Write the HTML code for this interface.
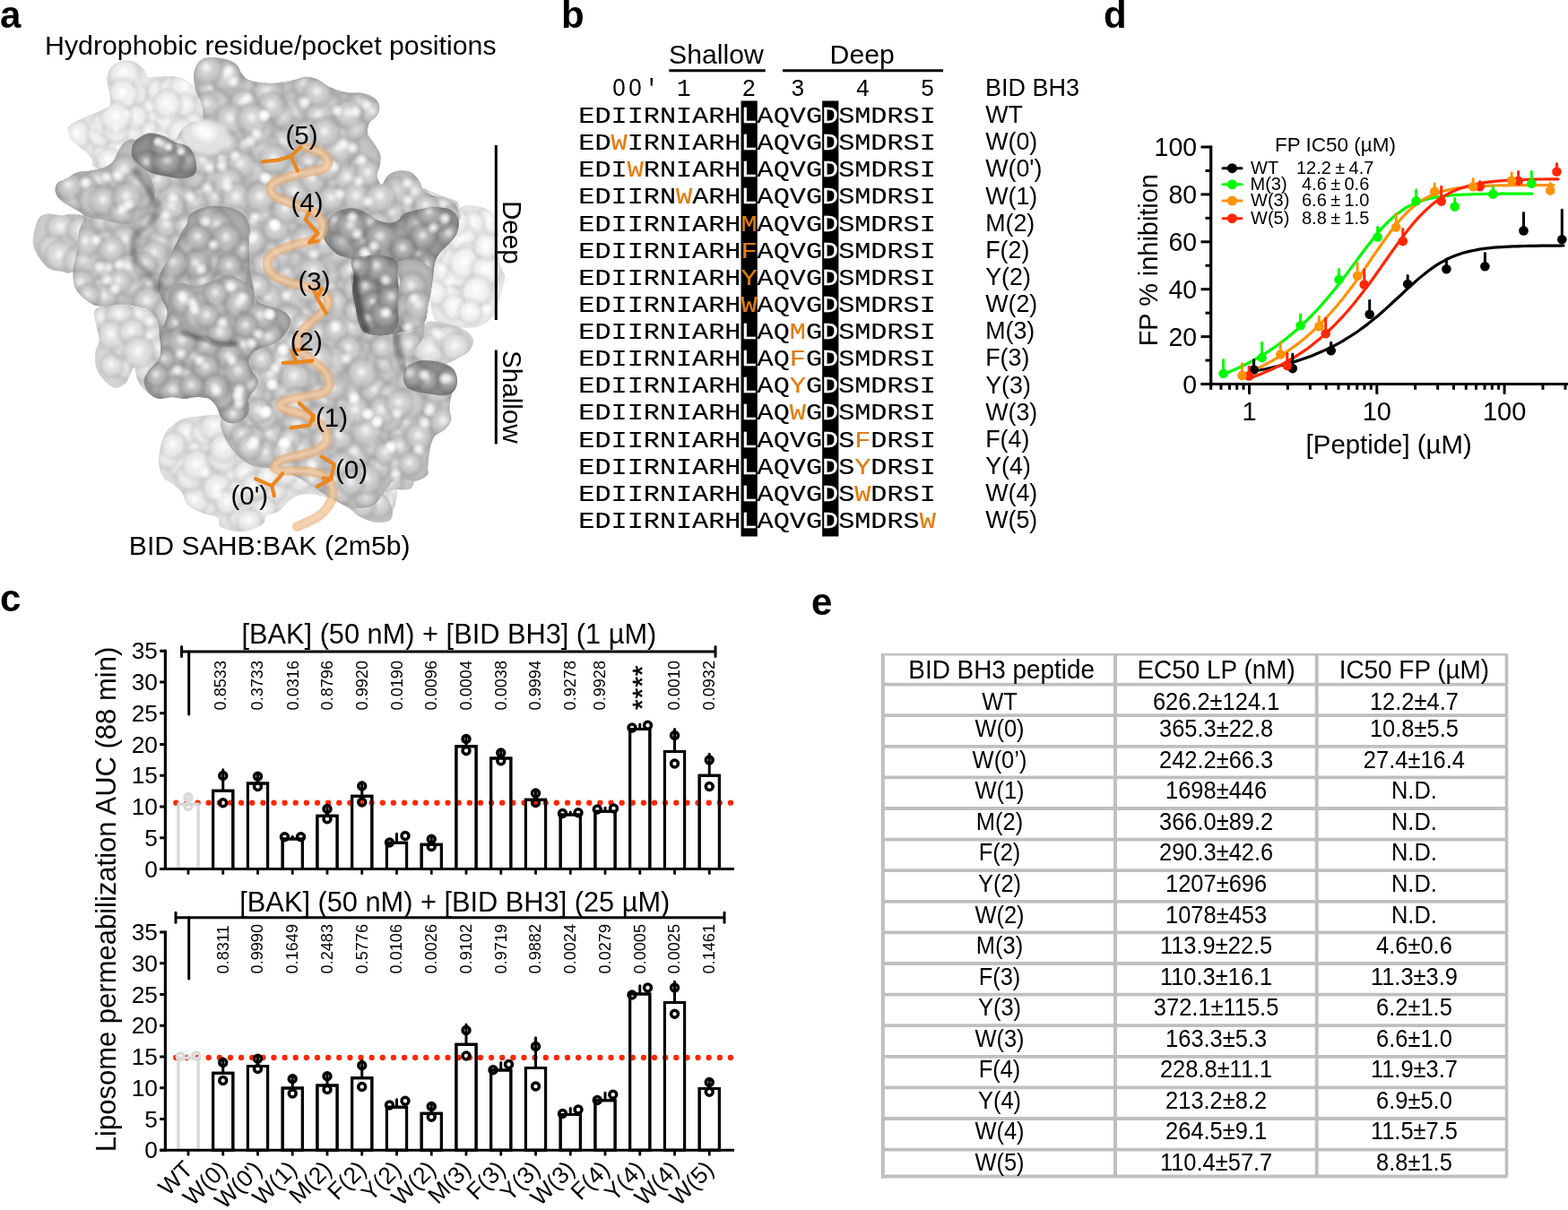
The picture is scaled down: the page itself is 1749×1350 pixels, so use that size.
<!DOCTYPE html>
<html lang="en">
<head>
<meta charset="utf-8">
<title>BID BH3 hydrophobic residue scan</title>
<style>
html,body{margin:0;padding:0;background:#fff;}
body{width:1749px;height:1350px;overflow:hidden;}
svg{display:block;font-family:"Liberation Sans", Arial, Helvetica, sans-serif;}
svg text{white-space:pre;}
</style>
</head>
<body>
<svg width="1749" height="1350" viewBox="0 0 1749 1350">
<rect width="1749" height="1350" fill="#fff"/>
<g id="panel-a">
<text x="0.00" y="30.50" font-size="42" font-weight="bold">a</text>
<text x="50.00" y="61.00" font-size="30.3">Hydrophobic residue/pocket positions</text>
<defs>
<filter id="rimF" x="-10%" y="-10%" width="120%" height="120%">
 <feGaussianBlur in="SourceAlpha" stdDeviation="4" result="b"/>
 <feComponentTransfer in="b" result="inv"><feFuncA type="table" tableValues="1 0.35 0"/></feComponentTransfer>
 <feFlood flood-color="#6a6a6a" flood-opacity="0.30"/>
 <feComposite operator="in" in2="inv"/>
 <feComposite operator="in" in2="SourceAlpha" result="sh"/>
 <feMerge><feMergeNode in="SourceGraphic"/><feMergeNode in="sh"/></feMerge>
</filter>
<filter id="rimM" x="-10%" y="-10%" width="120%" height="120%">
 <feGaussianBlur in="SourceAlpha" stdDeviation="4.5" result="b"/>
 <feComponentTransfer in="b" result="inv"><feFuncA type="table" tableValues="1 0.4 0"/></feComponentTransfer>
 <feFlood flood-color="#3c3c3c" flood-opacity="0.55"/>
 <feComposite operator="in" in2="inv"/>
 <feComposite operator="in" in2="SourceAlpha" result="sh"/>
 <feMerge><feMergeNode in="SourceGraphic"/><feMergeNode in="sh"/></feMerge>
</filter>
<filter id="rimN" x="-10%" y="-10%" width="120%" height="120%">
 <feGaussianBlur in="SourceAlpha" stdDeviation="5" result="b"/>
 <feComponentTransfer in="b" result="inv"><feFuncA type="table" tableValues="1 0.45 0"/></feComponentTransfer>
 <feFlood flood-color="#1e1e1e" flood-opacity="0.7"/>
 <feComposite operator="in" in2="inv"/>
 <feComposite operator="in" in2="SourceAlpha" result="sh"/>
 <feMerge><feMergeNode in="SourceGraphic"/><feMergeNode in="sh"/></feMerge>
</filter>
<filter id="bl2" x="-30%" y="-30%" width="160%" height="160%"><feGaussianBlur stdDeviation="2"/></filter>
<filter id="bl3" x="-30%" y="-30%" width="160%" height="160%"><feGaussianBlur stdDeviation="3.2"/></filter>
<filter id="bl1" x="-30%" y="-30%" width="160%" height="160%"><feGaussianBlur stdDeviation="1.7"/></filter>
<filter id="bl05" x="-10%" y="-10%" width="120%" height="120%"><feGaussianBlur stdDeviation="0.5"/></filter>
<radialGradient id="hl"><stop offset="0" stop-color="#fff" stop-opacity="0.95"/><stop offset="0.45" stop-color="#fff" stop-opacity="0.6"/><stop offset="1" stop-color="#fff" stop-opacity="0"/></radialGradient>
<radialGradient id="hlw"><stop offset="0" stop-color="#fff" stop-opacity="0.55"/><stop offset="1" stop-color="#fff" stop-opacity="0"/></radialGradient>
<radialGradient id="dk"><stop offset="0" stop-color="#000" stop-opacity="0.30"/><stop offset="1" stop-color="#000" stop-opacity="0"/></radialGradient>
</defs>
<defs><radialGradient id="g0" cx="0.5" cy="0.5" r="0.5" fx="0.47" fy="0.44"><stop offset="0" stop-color="#ffffff"/><stop offset="0.14" stop-color="#fbfbfb"/><stop offset="0.34" stop-color="#f1f1f1"/><stop offset="0.6" stop-color="#eeeeee" stop-opacity="0.9"/><stop offset="0.82" stop-color="#c1c1c1" stop-opacity="0.42"/><stop offset="1" stop-color="#c1c1c1" stop-opacity="0"/></radialGradient><radialGradient id="g1" cx="0.5" cy="0.5" r="0.5" fx="0.47" fy="0.44"><stop offset="0" stop-color="#ffffff"/><stop offset="0.14" stop-color="#fcfcfc"/><stop offset="0.34" stop-color="#f4f4f4"/><stop offset="0.6" stop-color="#f1f1f1" stop-opacity="0.9"/><stop offset="0.82" stop-color="#c4c4c4" stop-opacity="0.42"/><stop offset="1" stop-color="#c4c4c4" stop-opacity="0"/></radialGradient><radialGradient id="g2" cx="0.5" cy="0.5" r="0.5" fx="0.47" fy="0.44"><stop offset="0" stop-color="#ffffff"/><stop offset="0.14" stop-color="#f9f9f9"/><stop offset="0.34" stop-color="#ededed"/><stop offset="0.6" stop-color="#e9e9e9" stop-opacity="0.9"/><stop offset="0.82" stop-color="#bcbcbc" stop-opacity="0.42"/><stop offset="1" stop-color="#bcbcbc" stop-opacity="0"/></radialGradient><radialGradient id="g3" cx="0.5" cy="0.5" r="0.5" fx="0.47" fy="0.44"><stop offset="0" stop-color="#fbfbfb"/><stop offset="0.14" stop-color="#efefef"/><stop offset="0.34" stop-color="#dadada"/><stop offset="0.6" stop-color="#d3d3d3" stop-opacity="0.9"/><stop offset="0.82" stop-color="#a6a6a6" stop-opacity="0.42"/><stop offset="1" stop-color="#a6a6a6" stop-opacity="0"/></radialGradient><radialGradient id="g4" cx="0.5" cy="0.5" r="0.5" fx="0.47" fy="0.44"><stop offset="0" stop-color="#fdfdfd"/><stop offset="0.14" stop-color="#f4f4f4"/><stop offset="0.34" stop-color="#e3e3e3"/><stop offset="0.6" stop-color="#dddddd" stop-opacity="0.9"/><stop offset="0.82" stop-color="#b0b0b0" stop-opacity="0.42"/><stop offset="1" stop-color="#b0b0b0" stop-opacity="0"/></radialGradient><radialGradient id="g5" cx="0.5" cy="0.5" r="0.5" fx="0.47" fy="0.44"><stop offset="0" stop-color="#fdfdfd"/><stop offset="0.14" stop-color="#f4f4f4"/><stop offset="0.34" stop-color="#e4e4e4"/><stop offset="0.6" stop-color="#dedede" stop-opacity="0.9"/><stop offset="0.82" stop-color="#b1b1b1" stop-opacity="0.42"/><stop offset="1" stop-color="#b1b1b1" stop-opacity="0"/></radialGradient><radialGradient id="g6" cx="0.5" cy="0.5" r="0.5" fx="0.47" fy="0.44"><stop offset="0" stop-color="#fcfcfc"/><stop offset="0.14" stop-color="#f2f2f2"/><stop offset="0.34" stop-color="#dfdfdf"/><stop offset="0.6" stop-color="#d9d9d9" stop-opacity="0.9"/><stop offset="0.82" stop-color="#acacac" stop-opacity="0.42"/><stop offset="1" stop-color="#acacac" stop-opacity="0"/></radialGradient><radialGradient id="g7" cx="0.5" cy="0.5" r="0.5" fx="0.47" fy="0.44"><stop offset="0" stop-color="#fafafa"/><stop offset="0.14" stop-color="#ededed"/><stop offset="0.34" stop-color="#d6d6d6"/><stop offset="0.6" stop-color="#cecece" stop-opacity="0.9"/><stop offset="0.82" stop-color="#a1a1a1" stop-opacity="0.42"/><stop offset="1" stop-color="#a1a1a1" stop-opacity="0"/></radialGradient><radialGradient id="g8" cx="0.5" cy="0.5" r="0.5" fx="0.47" fy="0.44"><stop offset="0" stop-color="#f9f9f9"/><stop offset="0.14" stop-color="#eaeaea"/><stop offset="0.34" stop-color="#d1d1d1"/><stop offset="0.6" stop-color="#c8c8c8" stop-opacity="0.9"/><stop offset="0.82" stop-color="#9b9b9b" stop-opacity="0.42"/><stop offset="1" stop-color="#9b9b9b" stop-opacity="0"/></radialGradient><radialGradient id="g9" cx="0.5" cy="0.5" r="0.5" fx="0.47" fy="0.44"><stop offset="0" stop-color="#f8f8f8"/><stop offset="0.14" stop-color="#e9e9e9"/><stop offset="0.34" stop-color="#cdcdcd"/><stop offset="0.6" stop-color="#c4c4c4" stop-opacity="0.9"/><stop offset="0.82" stop-color="#979797" stop-opacity="0.42"/><stop offset="1" stop-color="#979797" stop-opacity="0"/></radialGradient><radialGradient id="g10" cx="0.5" cy="0.5" r="0.5" fx="0.47" fy="0.44"><stop offset="0" stop-color="#f5f5f5"/><stop offset="0.14" stop-color="#e1e1e1"/><stop offset="0.34" stop-color="#bfbfbf"/><stop offset="0.6" stop-color="#b3b3b3" stop-opacity="0.9"/><stop offset="0.82" stop-color="#868686" stop-opacity="0.42"/><stop offset="1" stop-color="#868686" stop-opacity="0"/></radialGradient><radialGradient id="g11" cx="0.5" cy="0.5" r="0.5" fx="0.47" fy="0.44"><stop offset="0" stop-color="#f6f6f6"/><stop offset="0.14" stop-color="#e5e5e5"/><stop offset="0.34" stop-color="#c6c6c6"/><stop offset="0.6" stop-color="#bbbbbb" stop-opacity="0.9"/><stop offset="0.82" stop-color="#8e8e8e" stop-opacity="0.42"/><stop offset="1" stop-color="#8e8e8e" stop-opacity="0"/></radialGradient><radialGradient id="g12" cx="0.5" cy="0.5" r="0.5" fx="0.47" fy="0.44"><stop offset="0" stop-color="#f1f1f1"/><stop offset="0.14" stop-color="#d9d9d9"/><stop offset="0.34" stop-color="#afafaf"/><stop offset="0.6" stop-color="#a0a0a0" stop-opacity="0.9"/><stop offset="0.82" stop-color="#737373" stop-opacity="0.42"/><stop offset="1" stop-color="#737373" stop-opacity="0"/></radialGradient><radialGradient id="g13" cx="0.5" cy="0.5" r="0.5" fx="0.47" fy="0.44"><stop offset="0" stop-color="#f7f7f7"/><stop offset="0.14" stop-color="#e6e6e6"/><stop offset="0.34" stop-color="#c8c8c8"/><stop offset="0.6" stop-color="#bebebe" stop-opacity="0.9"/><stop offset="0.82" stop-color="#919191" stop-opacity="0.42"/><stop offset="1" stop-color="#919191" stop-opacity="0"/></radialGradient><radialGradient id="g14" cx="0.5" cy="0.5" r="0.5" fx="0.47" fy="0.44"><stop offset="0" stop-color="#efefef"/><stop offset="0.14" stop-color="#d5d5d5"/><stop offset="0.34" stop-color="#a7a7a7"/><stop offset="0.6" stop-color="#979797" stop-opacity="0.9"/><stop offset="0.82" stop-color="#6a6a6a" stop-opacity="0.42"/><stop offset="1" stop-color="#6a6a6a" stop-opacity="0"/></radialGradient><radialGradient id="g15" cx="0.5" cy="0.5" r="0.5" fx="0.47" fy="0.44"><stop offset="0" stop-color="#f0f0f0"/><stop offset="0.14" stop-color="#d6d6d6"/><stop offset="0.34" stop-color="#a9a9a9"/><stop offset="0.6" stop-color="#999999" stop-opacity="0.9"/><stop offset="0.82" stop-color="#6c6c6c" stop-opacity="0.42"/><stop offset="1" stop-color="#6c6c6c" stop-opacity="0"/></radialGradient><radialGradient id="g16" cx="0.5" cy="0.5" r="0.5" fx="0.47" fy="0.44"><stop offset="0" stop-color="#efefef"/><stop offset="0.14" stop-color="#d4d4d4"/><stop offset="0.34" stop-color="#a5a5a5"/><stop offset="0.6" stop-color="#959595" stop-opacity="0.9"/><stop offset="0.82" stop-color="#686868" stop-opacity="0.42"/><stop offset="1" stop-color="#686868" stop-opacity="0"/></radialGradient></defs>
<g id="protein">
<clipPath id="cp1"><path d="M76.4 145.9 C76.2 143.0 75.8 141.6 79.0 139.0 C82.1 136.5 89.7 133.0 95.3 130.4 C100.9 127.9 107.9 125.9 112.5 123.6 C117.1 121.3 121.2 120.1 122.8 116.7 C124.4 113.3 122.5 107.5 121.9 103.0 C121.4 98.4 119.1 93.8 119.3 89.2 C119.6 84.6 120.8 79.0 123.6 75.5 C126.5 71.9 132.1 68.7 136.5 67.7 C141.0 66.7 146.3 67.9 150.3 69.5 C154.3 71.0 158.0 74.5 160.6 77.2 C163.2 79.9 162.3 84.5 165.7 85.8 C169.2 87.1 175.5 84.8 181.2 84.9 C186.9 85.1 194.7 85.1 200.1 86.6 C205.5 88.2 209.8 90.5 213.8 94.4 C217.9 98.2 221.6 104.1 224.2 109.8 C226.7 115.6 228.7 122.1 229.3 128.7 C229.9 135.3 232.2 143.6 227.6 149.3 C223.0 155.1 211.8 159.4 201.8 163.1 C191.8 166.8 176.0 168.8 167.5 171.7 C158.9 174.5 156.0 176.6 150.3 180.3 C144.5 184.0 140.5 192.9 133.1 194.0 C125.6 195.2 110.8 190.0 105.6 187.1 C100.4 184.3 104.5 180.3 102.2 176.8 C99.9 173.4 95.6 170.0 91.9 166.5 C88.1 163.1 82.4 159.7 79.8 156.2 C77.3 152.8 76.5 148.8 76.4 145.9Z"/></clipPath>
<g filter="url(#rimF)"><path d="M76.4 145.9 C76.2 143.0 75.8 141.6 79.0 139.0 C82.1 136.5 89.7 133.0 95.3 130.4 C100.9 127.9 107.9 125.9 112.5 123.6 C117.1 121.3 121.2 120.1 122.8 116.7 C124.4 113.3 122.5 107.5 121.9 103.0 C121.4 98.4 119.1 93.8 119.3 89.2 C119.6 84.6 120.8 79.0 123.6 75.5 C126.5 71.9 132.1 68.7 136.5 67.7 C141.0 66.7 146.3 67.9 150.3 69.5 C154.3 71.0 158.0 74.5 160.6 77.2 C163.2 79.9 162.3 84.5 165.7 85.8 C169.2 87.1 175.5 84.8 181.2 84.9 C186.9 85.1 194.7 85.1 200.1 86.6 C205.5 88.2 209.8 90.5 213.8 94.4 C217.9 98.2 221.6 104.1 224.2 109.8 C226.7 115.6 228.7 122.1 229.3 128.7 C229.9 135.3 232.2 143.6 227.6 149.3 C223.0 155.1 211.8 159.4 201.8 163.1 C191.8 166.8 176.0 168.8 167.5 171.7 C158.9 174.5 156.0 176.6 150.3 180.3 C144.5 184.0 140.5 192.9 133.1 194.0 C125.6 195.2 110.8 190.0 105.6 187.1 C100.4 184.3 104.5 180.3 102.2 176.8 C99.9 173.4 95.6 170.0 91.9 166.5 C88.1 163.1 82.4 159.7 79.8 156.2 C77.3 152.8 76.5 148.8 76.4 145.9Z" fill="#E9E9E9"/>
<g clip-path="url(#cp1)"><g filter="url(#bl1)"><circle cx="170.0" cy="123.1" r="20.3" fill="url(#g0)"/><circle cx="174.2" cy="135.1" r="15.3" fill="url(#g0)"/><circle cx="164.3" cy="148.8" r="17.9" fill="url(#g0)"/><circle cx="117.3" cy="172.3" r="16.9" fill="url(#g0)"/><circle cx="219.0" cy="147.4" r="20.9" fill="url(#g0)"/><circle cx="139.1" cy="120.6" r="15.8" fill="url(#g0)"/><circle cx="185.8" cy="149.7" r="15.7" fill="url(#g0)"/><circle cx="127.7" cy="80.5" r="17.5" fill="url(#g0)"/><circle cx="143.3" cy="147.9" r="19.6" fill="url(#g0)"/><circle cx="86.1" cy="150.7" r="20.3" fill="url(#g0)"/><circle cx="214.1" cy="138.5" r="15.9" fill="url(#g0)"/><circle cx="151.1" cy="105.6" r="16.7" fill="url(#g0)"/><circle cx="177.4" cy="101.8" r="16.5" fill="url(#g0)"/><circle cx="111.0" cy="150.8" r="16.8" fill="url(#g0)"/><circle cx="187.3" cy="134.9" r="16.5" fill="url(#g0)"/><circle cx="133.9" cy="167.0" r="18.6" fill="url(#g0)"/><circle cx="194.4" cy="101.3" r="21.3" fill="url(#g0)"/><circle cx="207.3" cy="97.1" r="21.5" fill="url(#g0)"/><circle cx="151.1" cy="130.9" r="17.1" fill="url(#g0)"/><circle cx="138.8" cy="82.3" r="21.4" fill="url(#g0)"/><circle cx="118.5" cy="137.3" r="18.8" fill="url(#g0)"/><circle cx="155.2" cy="170.2" r="15.7" fill="url(#g0)"/><circle cx="129.6" cy="146.1" r="17.4" fill="url(#g0)"/><circle cx="137.3" cy="105.0" r="20.4" fill="url(#g0)"/><circle cx="129.8" cy="130.9" r="21.4" fill="url(#g0)"/><circle cx="206.2" cy="117.8" r="15.7" fill="url(#g0)"/><circle cx="202.6" cy="148.1" r="19.2" fill="url(#g0)"/><circle cx="186.8" cy="116.4" r="19.6" fill="url(#g0)"/><circle cx="122.2" cy="179.9" r="17.5" fill="url(#g0)"/></g></g>
</g>
<clipPath id="cp2"><path d="M511.6 231.8 C517.4 230.0 517.4 229.2 522.0 229.2 C526.5 229.2 534.3 230.0 539.1 231.8 C544.0 233.7 548.6 236.1 551.2 240.4 C553.7 244.7 553.9 250.4 554.6 257.6 C555.3 264.8 554.9 276.8 555.5 283.4 C556.0 289.9 556.8 292.6 558.0 296.9 C559.3 301.1 562.9 304.3 563.2 308.9 C563.5 313.5 561.2 318.9 559.8 324.4 C558.3 329.8 556.6 336.4 554.6 341.5 C552.6 346.7 551.2 351.6 547.7 355.3 C544.3 359.0 539.7 362.2 534.0 363.9 C528.3 365.6 519.7 366.2 513.4 365.6 C507.1 365.0 501.1 362.2 496.2 360.4 C491.3 358.7 487.0 361.3 484.2 355.3 C481.3 349.3 479.9 335.2 479.0 324.4 C478.1 313.5 479.0 299.7 479.0 290.0 C479.0 280.3 477.6 274.5 479.0 266.2 C480.4 257.9 482.2 246.1 487.6 240.4 C493.0 234.7 505.9 233.7 511.6 231.8Z"/></clipPath>
<g filter="url(#rimF)"><path d="M511.6 231.8 C517.4 230.0 517.4 229.2 522.0 229.2 C526.5 229.2 534.3 230.0 539.1 231.8 C544.0 233.7 548.6 236.1 551.2 240.4 C553.7 244.7 553.9 250.4 554.6 257.6 C555.3 264.8 554.9 276.8 555.5 283.4 C556.0 289.9 556.8 292.6 558.0 296.9 C559.3 301.1 562.9 304.3 563.2 308.9 C563.5 313.5 561.2 318.9 559.8 324.4 C558.3 329.8 556.6 336.4 554.6 341.5 C552.6 346.7 551.2 351.6 547.7 355.3 C544.3 359.0 539.7 362.2 534.0 363.9 C528.3 365.6 519.7 366.2 513.4 365.6 C507.1 365.0 501.1 362.2 496.2 360.4 C491.3 358.7 487.0 361.3 484.2 355.3 C481.3 349.3 479.9 335.2 479.0 324.4 C478.1 313.5 479.0 299.7 479.0 290.0 C479.0 280.3 477.6 274.5 479.0 266.2 C480.4 257.9 482.2 246.1 487.6 240.4 C493.0 234.7 505.9 233.7 511.6 231.8Z" fill="#ECECEC"/>
<g clip-path="url(#cp2)"><g filter="url(#bl1)"><circle cx="547.0" cy="247.2" r="20.2" fill="url(#g1)"/><circle cx="530.5" cy="316.9" r="18.8" fill="url(#g1)"/><circle cx="519.2" cy="334.9" r="21.1" fill="url(#g1)"/><circle cx="531.1" cy="262.7" r="15.6" fill="url(#g1)"/><circle cx="489.8" cy="309.6" r="19.9" fill="url(#g1)"/><circle cx="494.5" cy="299.7" r="16.3" fill="url(#g1)"/><circle cx="502.9" cy="285.3" r="15.9" fill="url(#g1)"/><circle cx="500.1" cy="332.5" r="18.8" fill="url(#g1)"/><circle cx="484.1" cy="327.3" r="17.6" fill="url(#g1)"/><circle cx="542.1" cy="310.9" r="16.8" fill="url(#g1)"/><circle cx="527.4" cy="249.5" r="16.3" fill="url(#g1)"/><circle cx="492.2" cy="265.0" r="20.8" fill="url(#g1)"/><circle cx="515.6" cy="266.8" r="19.4" fill="url(#g1)"/><circle cx="523.2" cy="285.2" r="17.2" fill="url(#g1)"/><circle cx="511.8" cy="307.9" r="16.5" fill="url(#g1)"/><circle cx="506.7" cy="342.8" r="16.9" fill="url(#g1)"/><circle cx="518.4" cy="293.7" r="21.6" fill="url(#g1)"/><circle cx="542.8" cy="301.9" r="21.0" fill="url(#g1)"/><circle cx="508.2" cy="248.0" r="17.9" fill="url(#g1)"/><circle cx="543.2" cy="275.1" r="18.4" fill="url(#g1)"/><circle cx="483.6" cy="280.7" r="15.7" fill="url(#g1)"/><circle cx="532.2" cy="324.9" r="21.1" fill="url(#g1)"/><circle cx="524.8" cy="348.2" r="16.4" fill="url(#g1)"/></g></g>
</g>
<clipPath id="cp3"><path d="M178.9 500.0 C179.7 495.2 180.3 492.0 182.3 488.0 C184.3 484.0 186.0 479.7 190.9 476.0 C195.7 472.3 199.5 467.4 211.5 465.7 C223.5 464.0 242.9 461.4 262.9 465.7 C282.9 470.0 311.5 481.5 331.5 491.5 C351.5 501.5 365.3 517.2 383.0 525.8 C400.7 534.3 428.2 537.2 437.9 542.9 C447.6 548.6 441.3 555.5 441.3 560.1 C441.3 564.6 439.0 566.9 437.9 570.4 C436.7 573.8 437.9 578.7 434.4 580.7 C431.0 582.7 423.0 583.2 417.3 582.4 C411.6 581.5 404.4 577.8 400.1 575.5 C395.8 573.2 395.8 571.5 391.6 568.6 C387.3 565.8 381.6 561.2 374.4 558.4 C367.3 555.5 355.8 552.3 348.7 551.5 C341.5 550.6 336.1 551.8 331.5 553.2 C327.0 554.6 324.7 557.2 321.2 560.1 C317.8 562.9 314.9 567.8 310.9 570.4 C306.9 572.9 300.1 573.2 297.2 575.5 C294.4 577.8 296.6 581.5 293.8 584.1 C290.9 586.7 285.2 589.5 280.1 590.9 C274.9 592.4 268.6 593.2 262.9 592.7 C257.2 592.1 249.2 590.1 245.8 587.5 C242.3 584.9 245.8 579.8 242.3 577.2 C238.9 574.6 230.6 574.4 225.2 572.1 C219.7 569.8 213.5 567.2 209.7 563.5 C206.0 559.8 205.5 553.5 202.9 549.8 C200.3 546.1 197.7 544.1 194.3 541.2 C190.9 538.3 185.2 536.6 182.3 532.6 C179.4 528.6 177.7 522.6 177.2 517.2 C176.6 511.8 178.0 504.9 178.9 500.0Z"/></clipPath>
<g filter="url(#rimF)"><path d="M178.9 500.0 C179.7 495.2 180.3 492.0 182.3 488.0 C184.3 484.0 186.0 479.7 190.9 476.0 C195.7 472.3 199.5 467.4 211.5 465.7 C223.5 464.0 242.9 461.4 262.9 465.7 C282.9 470.0 311.5 481.5 331.5 491.5 C351.5 501.5 365.3 517.2 383.0 525.8 C400.7 534.3 428.2 537.2 437.9 542.9 C447.6 548.6 441.3 555.5 441.3 560.1 C441.3 564.6 439.0 566.9 437.9 570.4 C436.7 573.8 437.9 578.7 434.4 580.7 C431.0 582.7 423.0 583.2 417.3 582.4 C411.6 581.5 404.4 577.8 400.1 575.5 C395.8 573.2 395.8 571.5 391.6 568.6 C387.3 565.8 381.6 561.2 374.4 558.4 C367.3 555.5 355.8 552.3 348.7 551.5 C341.5 550.6 336.1 551.8 331.5 553.2 C327.0 554.6 324.7 557.2 321.2 560.1 C317.8 562.9 314.9 567.8 310.9 570.4 C306.9 572.9 300.1 573.2 297.2 575.5 C294.4 577.8 296.6 581.5 293.8 584.1 C290.9 586.7 285.2 589.5 280.1 590.9 C274.9 592.4 268.6 593.2 262.9 592.7 C257.2 592.1 249.2 590.1 245.8 587.5 C242.3 584.9 245.8 579.8 242.3 577.2 C238.9 574.6 230.6 574.4 225.2 572.1 C219.7 569.8 213.5 567.2 209.7 563.5 C206.0 559.8 205.5 553.5 202.9 549.8 C200.3 546.1 197.7 544.1 194.3 541.2 C190.9 538.3 185.2 536.6 182.3 532.6 C179.4 528.6 177.7 522.6 177.2 517.2 C176.6 511.8 178.0 504.9 178.9 500.0Z" fill="#E4E4E4"/>
<g clip-path="url(#cp3)"><g filter="url(#bl1)"><circle cx="230.7" cy="564.0" r="15.7" fill="url(#g2)"/><circle cx="391.8" cy="534.6" r="20.0" fill="url(#g2)"/><circle cx="437.4" cy="551.8" r="17.2" fill="url(#g2)"/><circle cx="311.6" cy="498.2" r="19.4" fill="url(#g2)"/><circle cx="269.7" cy="478.9" r="17.3" fill="url(#g2)"/><circle cx="220.0" cy="498.3" r="20.9" fill="url(#g2)"/><circle cx="208.0" cy="483.2" r="16.7" fill="url(#g2)"/><circle cx="274.2" cy="566.6" r="19.3" fill="url(#g2)"/><circle cx="226.8" cy="545.0" r="17.7" fill="url(#g2)"/><circle cx="203.5" cy="518.3" r="21.1" fill="url(#g2)"/><circle cx="358.0" cy="533.6" r="18.1" fill="url(#g2)"/><circle cx="285.8" cy="478.1" r="15.5" fill="url(#g2)"/><circle cx="334.4" cy="502.6" r="21.4" fill="url(#g2)"/><circle cx="360.5" cy="519.3" r="17.5" fill="url(#g2)"/><circle cx="217.7" cy="559.0" r="19.4" fill="url(#g2)"/><circle cx="236.7" cy="536.2" r="16.9" fill="url(#g2)"/><circle cx="309.2" cy="516.1" r="18.6" fill="url(#g2)"/><circle cx="304.8" cy="546.0" r="18.5" fill="url(#g2)"/><circle cx="269.6" cy="577.9" r="17.9" fill="url(#g2)"/><circle cx="294.3" cy="568.9" r="17.9" fill="url(#g2)"/><circle cx="334.1" cy="534.5" r="17.9" fill="url(#g2)"/><circle cx="268.5" cy="509.7" r="15.5" fill="url(#g2)"/><circle cx="282.8" cy="515.0" r="15.5" fill="url(#g2)"/><circle cx="211.7" cy="533.1" r="18.8" fill="url(#g2)"/><circle cx="278.4" cy="582.7" r="18.0" fill="url(#g2)"/><circle cx="220.3" cy="519.3" r="21.0" fill="url(#g2)"/><circle cx="233.4" cy="492.3" r="16.5" fill="url(#g2)"/><circle cx="257.5" cy="531.2" r="17.6" fill="url(#g2)"/><circle cx="409.4" cy="566.0" r="15.8" fill="url(#g2)"/><circle cx="427.0" cy="560.0" r="17.8" fill="url(#g2)"/><circle cx="186.8" cy="509.7" r="16.5" fill="url(#g2)"/><circle cx="385.4" cy="544.3" r="16.1" fill="url(#g2)"/><circle cx="248.8" cy="510.9" r="21.4" fill="url(#g2)"/><circle cx="367.5" cy="528.0" r="16.1" fill="url(#g2)"/><circle cx="243.0" cy="545.3" r="21.0" fill="url(#g2)"/><circle cx="267.3" cy="549.2" r="18.1" fill="url(#g2)"/><circle cx="403.0" cy="551.8" r="15.9" fill="url(#g2)"/><circle cx="345.7" cy="508.3" r="20.4" fill="url(#g2)"/><circle cx="414.9" cy="553.2" r="21.0" fill="url(#g2)"/><circle cx="273.3" cy="527.4" r="15.9" fill="url(#g2)"/><circle cx="323.2" cy="509.3" r="20.0" fill="url(#g2)"/><circle cx="227.2" cy="483.3" r="16.3" fill="url(#g2)"/><circle cx="253.6" cy="560.6" r="17.4" fill="url(#g2)"/><circle cx="284.1" cy="543.1" r="18.3" fill="url(#g2)"/><circle cx="317.2" cy="527.2" r="19.5" fill="url(#g2)"/><circle cx="277.6" cy="500.5" r="16.1" fill="url(#g2)"/><circle cx="288.8" cy="499.1" r="15.3" fill="url(#g2)"/><circle cx="193.2" cy="497.3" r="18.4" fill="url(#g2)"/><circle cx="239.4" cy="476.2" r="19.6" fill="url(#g2)"/><circle cx="249.6" cy="499.7" r="19.6" fill="url(#g2)"/><circle cx="299.1" cy="532.6" r="16.4" fill="url(#g2)"/></g></g>
</g>
<clipPath id="cp4"><path d="M36.9 271.3 C36.3 263.9 39.5 251.0 42.0 245.6 C44.6 240.1 48.0 239.6 52.3 238.7 C56.6 237.8 62.9 240.4 67.8 240.4 C72.7 240.4 76.4 238.4 81.5 238.7 C86.7 239.0 93.6 239.8 98.7 242.1 C103.9 244.4 109.0 247.0 112.5 252.4 C115.9 257.9 118.8 268.2 119.3 274.8 C119.9 281.4 122.2 287.1 115.9 292.0 C109.6 296.8 89.3 301.9 81.5 303.7 C73.8 305.6 73.8 303.5 69.5 302.9 C65.2 302.3 59.8 302.5 55.8 300.3 C51.8 298.2 48.6 294.8 45.5 290.0 C42.3 285.2 37.4 278.7 36.9 271.3Z"/></clipPath>
<g filter="url(#rimF)"><path d="M36.9 271.3 C36.3 263.9 39.5 251.0 42.0 245.6 C44.6 240.1 48.0 239.6 52.3 238.7 C56.6 237.8 62.9 240.4 67.8 240.4 C72.7 240.4 76.4 238.4 81.5 238.7 C86.7 239.0 93.6 239.8 98.7 242.1 C103.9 244.4 109.0 247.0 112.5 252.4 C115.9 257.9 118.8 268.2 119.3 274.8 C119.9 281.4 122.2 287.1 115.9 292.0 C109.6 296.8 89.3 301.9 81.5 303.7 C73.8 305.6 73.8 303.5 69.5 302.9 C65.2 302.3 59.8 302.5 55.8 300.3 C51.8 298.2 48.6 294.8 45.5 290.0 C42.3 285.2 37.4 278.7 36.9 271.3Z" fill="#CECECE"/>
<g clip-path="url(#cp4)"><g filter="url(#bl1)"><circle cx="93.4" cy="276.1" r="20.3" fill="url(#g3)"/><circle cx="68.3" cy="254.7" r="20.1" fill="url(#g3)"/><circle cx="72.2" cy="276.7" r="17.3" fill="url(#g3)"/><circle cx="100.8" cy="256.4" r="19.3" fill="url(#g3)"/><circle cx="58.5" cy="278.2" r="19.4" fill="url(#g3)"/><circle cx="67.1" cy="286.0" r="20.7" fill="url(#g3)"/><circle cx="91.2" cy="257.4" r="19.5" fill="url(#g3)"/><circle cx="88.4" cy="292.3" r="21.2" fill="url(#g3)"/></g></g>
</g>
<clipPath id="cp5"><path d="M105.6 346.7 C104.2 350.1 106.5 356.7 107.3 362.2 C108.2 367.6 110.9 374.2 110.8 379.3 C110.6 384.5 107.0 387.9 106.5 393.1 C105.9 398.2 105.7 405.1 107.3 410.3 C108.9 415.4 112.5 420.3 115.9 424.0 C119.3 427.7 123.9 432.0 127.9 432.6 C131.9 433.2 136.8 430.6 140.0 427.5 C143.1 424.3 145.1 416.6 146.8 413.7 C148.6 410.8 149.1 408.6 150.3 410.3 C151.4 412.0 151.7 419.7 153.7 424.0 C155.7 428.3 158.6 433.2 162.3 436.0 C166.0 438.9 172.3 445.5 176.0 441.2 C179.8 436.9 183.2 424.0 184.6 410.3 C186.1 396.5 187.5 369.3 184.6 358.7 C181.8 348.1 176.0 349.9 167.5 346.7 C158.9 343.6 141.7 340.7 133.1 339.8 C124.5 339.0 120.5 340.4 115.9 341.5 C111.3 342.7 107.0 343.3 105.6 346.7Z"/></clipPath>
<g filter="url(#rimF)"><path d="M105.6 346.7 C104.2 350.1 106.5 356.7 107.3 362.2 C108.2 367.6 110.9 374.2 110.8 379.3 C110.6 384.5 107.0 387.9 106.5 393.1 C105.9 398.2 105.7 405.1 107.3 410.3 C108.9 415.4 112.5 420.3 115.9 424.0 C119.3 427.7 123.9 432.0 127.9 432.6 C131.9 433.2 136.8 430.6 140.0 427.5 C143.1 424.3 145.1 416.6 146.8 413.7 C148.6 410.8 149.1 408.6 150.3 410.3 C151.4 412.0 151.7 419.7 153.7 424.0 C155.7 428.3 158.6 433.2 162.3 436.0 C166.0 438.9 172.3 445.5 176.0 441.2 C179.8 436.9 183.2 424.0 184.6 410.3 C186.1 396.5 187.5 369.3 184.6 358.7 C181.8 348.1 176.0 349.9 167.5 346.7 C158.9 343.6 141.7 340.7 133.1 339.8 C124.5 339.0 120.5 340.4 115.9 341.5 C111.3 342.7 107.0 343.3 105.6 346.7Z" fill="#D8D8D8"/>
<g clip-path="url(#cp5)"><g filter="url(#bl1)"><circle cx="167.4" cy="377.9" r="20.8" fill="url(#g4)"/><circle cx="142.0" cy="408.2" r="20.4" fill="url(#g4)"/><circle cx="154.6" cy="351.8" r="21.4" fill="url(#g4)"/><circle cx="113.1" cy="355.1" r="18.0" fill="url(#g4)"/><circle cx="176.1" cy="389.6" r="15.5" fill="url(#g4)"/><circle cx="124.9" cy="407.9" r="15.9" fill="url(#g4)"/><circle cx="169.7" cy="428.9" r="18.3" fill="url(#g4)"/><circle cx="133.7" cy="351.9" r="19.3" fill="url(#g4)"/><circle cx="136.9" cy="387.1" r="15.7" fill="url(#g4)"/><circle cx="124.7" cy="374.1" r="20.1" fill="url(#g4)"/><circle cx="147.2" cy="370.5" r="18.4" fill="url(#g4)"/><circle cx="161.5" cy="411.1" r="19.0" fill="url(#g4)"/><circle cx="155.0" cy="393.5" r="21.6" fill="url(#g4)"/></g></g>
</g>
<clipPath id="cp6"><path d="M472.1 363.9 C475.6 361.0 475.0 359.3 479.0 358.7 C483.0 358.2 490.5 359.3 496.2 360.4 C501.9 361.6 508.5 363.3 513.4 365.6 C518.2 367.9 523.0 371.3 525.4 374.2 C527.8 377.1 528.5 379.6 528.0 382.8 C527.4 385.9 525.0 390.2 522.0 393.1 C519.0 396.0 514.2 397.7 509.9 400.0 C505.6 402.3 501.3 405.1 496.2 406.8 C491.0 408.6 484.7 410.3 479.0 410.3 C473.3 410.3 465.8 409.7 461.8 406.8 C457.8 404.0 455.5 398.2 454.9 393.1 C454.4 387.9 455.5 380.8 458.4 375.9 C461.2 371.0 468.7 366.7 472.1 363.9Z"/></clipPath>
<g filter="url(#rimF)"><path d="M472.1 363.9 C475.6 361.0 475.0 359.3 479.0 358.7 C483.0 358.2 490.5 359.3 496.2 360.4 C501.9 361.6 508.5 363.3 513.4 365.6 C518.2 367.9 523.0 371.3 525.4 374.2 C527.8 377.1 528.5 379.6 528.0 382.8 C527.4 385.9 525.0 390.2 522.0 393.1 C519.0 396.0 514.2 397.7 509.9 400.0 C505.6 402.3 501.3 405.1 496.2 406.8 C491.0 408.6 484.7 410.3 479.0 410.3 C473.3 410.3 465.8 409.7 461.8 406.8 C457.8 404.0 455.5 398.2 454.9 393.1 C454.4 387.9 455.5 380.8 458.4 375.9 C461.2 371.0 468.7 366.7 472.1 363.9Z" fill="#D9D9D9"/>
<g clip-path="url(#cp6)"><g filter="url(#bl1)"><circle cx="496.4" cy="393.2" r="20.0" fill="url(#g5)"/><circle cx="487.7" cy="377.3" r="17.7" fill="url(#g5)"/><circle cx="479.9" cy="390.9" r="21.0" fill="url(#g5)"/><circle cx="499.5" cy="377.4" r="17.8" fill="url(#g5)"/><circle cx="508.2" cy="387.7" r="19.7" fill="url(#g5)"/></g></g>
</g>
<clipPath id="cp7"><path d="M472.1 211.2 C473.6 209.5 475.0 211.5 479.0 212.9 C483.0 214.4 491.0 217.8 496.2 219.8 C501.3 221.8 507.4 222.9 509.9 224.9 C512.5 227.0 511.4 228.4 511.6 231.8 C511.9 235.3 517.1 244.1 511.6 245.6 C506.2 247.0 485.9 244.1 479.0 240.4 C472.1 236.7 471.6 228.1 470.4 223.2 C469.3 218.4 470.7 212.9 472.1 211.2Z"/></clipPath>
<g filter="url(#rimF)"><path d="M472.1 211.2 C473.6 209.5 475.0 211.5 479.0 212.9 C483.0 214.4 491.0 217.8 496.2 219.8 C501.3 221.8 507.4 222.9 509.9 224.9 C512.5 227.0 511.4 228.4 511.6 231.8 C511.9 235.3 517.1 244.1 511.6 245.6 C506.2 247.0 485.9 244.1 479.0 240.4 C472.1 236.7 471.6 228.1 470.4 223.2 C469.3 218.4 470.7 212.9 472.1 211.2Z" fill="#D4D4D4"/>
<g clip-path="url(#cp7)"><g filter="url(#bl1)"><circle cx="481.9" cy="222.3" r="17.4" fill="url(#g6)"/></g></g>
</g>
<clipPath id="cp8"><path d="M365.8 491.5 C373.0 480.0 388.7 475.7 400.1 474.3 C411.6 472.9 424.5 477.2 434.4 482.9 C444.4 488.6 455.7 498.6 460.0 508.6 C464.3 518.6 463.7 536.6 460.0 542.9 C456.3 549.2 443.3 545.2 437.9 546.3 C432.5 547.5 428.4 548.1 427.6 549.8 C426.7 551.5 431.0 553.2 432.7 556.6 C434.4 560.1 437.6 566.4 437.9 570.4 C438.2 574.4 437.9 578.7 434.4 580.7 C431.0 582.7 423.0 583.2 417.3 582.4 C411.6 581.5 404.4 577.8 400.1 575.5 C395.8 573.2 395.8 571.8 391.6 568.6 C387.3 565.5 380.1 560.9 374.4 556.6 C368.7 552.3 358.7 553.8 357.3 542.9 C355.8 532.1 358.7 502.9 365.8 491.5Z"/></clipPath>
<g filter="url(#rimF)"><path d="M365.8 491.5 C373.0 480.0 388.7 475.7 400.1 474.3 C411.6 472.9 424.5 477.2 434.4 482.9 C444.4 488.6 455.7 498.6 460.0 508.6 C464.3 518.6 463.7 536.6 460.0 542.9 C456.3 549.2 443.3 545.2 437.9 546.3 C432.5 547.5 428.4 548.1 427.6 549.8 C426.7 551.5 431.0 553.2 432.7 556.6 C434.4 560.1 437.6 566.4 437.9 570.4 C438.2 574.4 437.9 578.7 434.4 580.7 C431.0 582.7 423.0 583.2 417.3 582.4 C411.6 581.5 404.4 577.8 400.1 575.5 C395.8 573.2 395.8 571.8 391.6 568.6 C387.3 565.5 380.1 560.9 374.4 556.6 C368.7 552.3 358.7 553.8 357.3 542.9 C355.8 532.1 358.7 502.9 365.8 491.5Z" fill="#C9C9C9"/>
<g clip-path="url(#cp8)"><g filter="url(#bl1)"><circle cx="381.4" cy="511.3" r="20.9" fill="url(#g7)"/><circle cx="390.0" cy="511.5" r="15.6" fill="url(#g7)"/><circle cx="409.7" cy="540.2" r="21.0" fill="url(#g7)"/><circle cx="408.7" cy="528.8" r="20.6" fill="url(#g7)"/><circle cx="363.5" cy="521.9" r="19.6" fill="url(#g7)"/><circle cx="408.0" cy="485.0" r="18.6" fill="url(#g7)"/><circle cx="422.2" cy="561.2" r="21.1" fill="url(#g7)"/><circle cx="399.0" cy="543.4" r="15.8" fill="url(#g7)"/><circle cx="419.9" cy="513.8" r="19.8" fill="url(#g7)"/><circle cx="422.6" cy="519.3" r="15.9" fill="url(#g7)"/><circle cx="440.0" cy="527.6" r="15.8" fill="url(#g7)"/><circle cx="434.5" cy="538.7" r="18.3" fill="url(#g7)"/><circle cx="384.3" cy="485.7" r="17.4" fill="url(#g7)"/><circle cx="436.2" cy="510.6" r="15.8" fill="url(#g7)"/><circle cx="402.6" cy="562.8" r="20.4" fill="url(#g7)"/><circle cx="385.3" cy="557.8" r="17.3" fill="url(#g7)"/><circle cx="384.9" cy="523.3" r="18.5" fill="url(#g7)"/><circle cx="378.7" cy="538.5" r="19.4" fill="url(#g7)"/><circle cx="419.4" cy="495.3" r="16.5" fill="url(#g7)"/></g></g>
</g>
<clipPath id="cp9"><path d="M61.8 212.9 C61.5 210.1 62.2 206.6 64.4 204.3 C66.5 202.0 71.0 201.2 74.7 199.2 C78.4 197.2 82.1 193.7 86.7 192.3 C91.3 190.9 97.3 191.4 102.2 190.6 C107.0 189.7 111.9 188.9 115.9 187.1 C119.9 185.4 123.4 183.7 126.2 180.3 C129.1 176.8 130.8 170.3 133.1 166.5 C135.4 162.8 137.1 159.7 140.0 157.9 C142.8 156.2 146.0 157.8 150.3 156.2 C154.6 154.6 160.6 149.3 165.7 148.5 C170.9 147.6 176.3 149.8 181.2 151.1 C186.1 152.4 191.5 157.1 194.9 156.2 C198.4 155.4 199.0 149.1 201.8 145.9 C204.7 142.8 208.4 139.0 212.1 137.3 C215.9 135.6 221.7 137.0 224.2 135.6 C226.6 134.2 226.6 132.2 226.7 128.7 C226.9 125.3 226.3 119.3 225.0 115.0 C223.7 110.7 220.4 107.0 219.0 103.0 C217.6 98.9 216.7 95.2 216.4 90.9 C216.1 86.6 216.0 81.2 217.3 77.2 C218.6 73.2 221.0 69.0 224.2 66.9 C227.3 64.7 231.6 64.4 236.2 64.3 C240.8 64.2 247.1 64.7 251.6 66.0 C256.2 67.3 260.7 69.3 263.7 72.0 C266.7 74.7 267.4 79.5 269.7 82.3 C272.0 85.2 273.3 87.5 277.4 89.2 C281.6 90.9 288.9 92.1 294.6 92.6 C300.3 93.2 305.9 93.1 311.8 92.6 C317.7 92.2 330.8 90.1 330.0 90.1 C329.2 90.1 307.5 92.8 307.2 92.6 C306.8 92.5 322.1 90.4 327.8 89.2 C333.5 88.1 337.0 85.8 341.5 85.8 C346.1 85.8 351.0 87.3 355.3 89.2 C359.6 91.1 362.2 94.7 367.3 96.9 C372.5 99.2 380.2 101.8 386.2 103.0 C392.2 104.1 398.2 102.8 403.4 103.8 C408.6 104.8 413.9 106.5 417.1 109.0 C420.4 111.4 422.6 115.1 423.2 118.4 C423.7 121.7 422.4 125.6 420.6 128.7 C418.7 131.9 413.7 133.9 412.0 137.3 C410.3 140.8 409.4 145.6 410.3 149.3 C411.1 153.1 414.9 155.9 417.1 159.7 C419.4 163.4 422.9 167.7 424.0 171.7 C425.2 175.7 424.6 179.7 424.0 183.7 C423.4 187.7 420.3 192.0 420.6 195.7 C420.9 199.5 423.7 206.0 425.7 206.0 C427.7 206.0 429.5 198.3 432.6 195.7 C435.8 193.2 440.3 191.2 444.6 190.6 C448.9 190.0 454.7 190.6 458.4 192.3 C462.1 194.0 464.7 197.7 467.0 200.9 C469.3 204.0 469.6 208.3 472.1 211.2 C474.7 214.1 478.4 216.4 482.4 218.1 C486.4 219.8 491.9 219.8 496.2 221.5 C500.5 223.2 505.6 224.9 508.2 228.4 C510.8 231.8 511.4 237.8 511.6 242.1 C511.9 246.4 511.1 250.1 509.9 254.2 C508.8 258.2 507.1 262.5 504.8 266.2 C502.5 269.9 499.0 273.6 496.2 276.5 C493.3 279.4 489.6 280.8 487.6 283.4 C485.6 285.9 484.9 288.0 484.2 292.0 C483.4 295.9 483.9 301.8 483.3 307.2 C482.7 312.6 481.7 318.6 480.7 324.4 C479.7 330.1 478.4 335.8 477.3 341.5 C476.1 347.3 474.7 353.0 473.8 358.7 C473.0 364.5 474.1 370.2 472.1 375.9 C470.1 381.6 462.1 388.8 461.8 393.1 C461.5 397.4 466.1 400.0 470.4 401.7 C474.7 403.4 481.9 402.0 487.6 403.4 C493.3 404.8 501.1 406.8 504.8 410.3 C508.5 413.7 509.9 419.7 509.9 424.0 C509.9 428.3 506.2 430.9 504.8 436.0 C503.3 441.2 501.6 449.5 501.3 454.9 C501.1 460.4 503.9 464.7 503.1 468.7 C502.2 472.7 499.3 475.9 496.2 479.0 C493.0 482.2 487.0 483.3 484.2 487.6 C481.3 491.9 480.1 499.0 479.0 504.8 C477.9 510.5 477.7 517.8 477.3 522.0 C476.9 526.2 479.0 527.5 476.7 530.0 C474.3 532.5 468.9 536.1 463.3 536.7 C457.8 537.2 448.9 531.7 443.3 533.3 C437.8 535.0 434.4 541.7 430.0 546.7 C425.6 551.7 422.8 560.0 416.7 563.3 C410.6 566.7 400.0 567.2 393.3 566.7 C386.7 566.1 382.2 562.8 376.7 560.0 C371.1 557.2 367.2 554.4 360.0 550.0 C352.8 545.6 342.2 537.8 333.3 533.3 C324.4 528.9 315.0 525.6 306.7 523.3 C298.3 521.1 290.0 522.2 283.3 520.0 C276.7 517.8 271.7 514.4 266.7 510.0 C261.7 505.6 256.7 498.9 253.3 493.3 C250.0 487.8 247.8 481.3 246.7 476.7 C245.5 472.0 247.4 469.2 246.5 465.3 C245.6 461.4 243.6 456.7 241.3 453.2 C239.0 449.8 236.5 446.4 232.7 444.6 C229.0 442.9 223.6 442.9 219.0 442.9 C214.4 442.9 209.8 444.6 205.3 444.6 C200.7 444.6 196.4 442.9 191.5 442.9 C186.6 442.9 180.3 445.5 176.0 444.6 C171.8 443.8 168.3 440.9 165.7 437.8 C163.2 434.6 160.6 429.7 160.6 425.7 C160.6 421.7 162.9 418.0 165.7 413.7 C168.6 409.4 175.5 404.5 177.8 400.0 C180.1 395.4 179.5 391.1 179.5 386.2 C179.5 381.4 178.3 375.3 177.8 370.8 C177.2 366.2 177.8 362.7 176.0 358.7 C174.3 354.7 171.8 349.6 167.5 346.7 C163.2 343.8 156.0 342.7 150.3 341.5 C144.5 340.4 138.8 339.8 133.1 339.8 C127.4 339.8 120.8 341.5 115.9 341.5 C111.0 341.5 108.2 341.8 103.9 339.8 C99.6 337.8 93.6 333.0 90.1 329.5 C86.7 326.1 84.7 323.5 83.3 319.2 C81.8 314.9 81.5 308.3 81.5 303.7 C81.5 299.2 82.4 296.8 83.3 292.0 C84.1 287.1 85.8 280.5 86.7 274.8 C87.6 269.0 87.3 262.7 88.4 257.6 C89.6 252.4 93.3 247.3 93.6 243.8 C93.9 240.4 92.7 239.3 90.1 237.0 C87.6 234.7 82.1 232.7 78.1 230.1 C74.1 227.5 68.8 224.4 66.1 221.5 C63.4 218.6 62.1 215.8 61.8 212.9Z"/></clipPath>
<g filter="url(#rimM)"><path d="M61.8 212.9 C61.5 210.1 62.2 206.6 64.4 204.3 C66.5 202.0 71.0 201.2 74.7 199.2 C78.4 197.2 82.1 193.7 86.7 192.3 C91.3 190.9 97.3 191.4 102.2 190.6 C107.0 189.7 111.9 188.9 115.9 187.1 C119.9 185.4 123.4 183.7 126.2 180.3 C129.1 176.8 130.8 170.3 133.1 166.5 C135.4 162.8 137.1 159.7 140.0 157.9 C142.8 156.2 146.0 157.8 150.3 156.2 C154.6 154.6 160.6 149.3 165.7 148.5 C170.9 147.6 176.3 149.8 181.2 151.1 C186.1 152.4 191.5 157.1 194.9 156.2 C198.4 155.4 199.0 149.1 201.8 145.9 C204.7 142.8 208.4 139.0 212.1 137.3 C215.9 135.6 221.7 137.0 224.2 135.6 C226.6 134.2 226.6 132.2 226.7 128.7 C226.9 125.3 226.3 119.3 225.0 115.0 C223.7 110.7 220.4 107.0 219.0 103.0 C217.6 98.9 216.7 95.2 216.4 90.9 C216.1 86.6 216.0 81.2 217.3 77.2 C218.6 73.2 221.0 69.0 224.2 66.9 C227.3 64.7 231.6 64.4 236.2 64.3 C240.8 64.2 247.1 64.7 251.6 66.0 C256.2 67.3 260.7 69.3 263.7 72.0 C266.7 74.7 267.4 79.5 269.7 82.3 C272.0 85.2 273.3 87.5 277.4 89.2 C281.6 90.9 288.9 92.1 294.6 92.6 C300.3 93.2 305.9 93.1 311.8 92.6 C317.7 92.2 330.8 90.1 330.0 90.1 C329.2 90.1 307.5 92.8 307.2 92.6 C306.8 92.5 322.1 90.4 327.8 89.2 C333.5 88.1 337.0 85.8 341.5 85.8 C346.1 85.8 351.0 87.3 355.3 89.2 C359.6 91.1 362.2 94.7 367.3 96.9 C372.5 99.2 380.2 101.8 386.2 103.0 C392.2 104.1 398.2 102.8 403.4 103.8 C408.6 104.8 413.9 106.5 417.1 109.0 C420.4 111.4 422.6 115.1 423.2 118.4 C423.7 121.7 422.4 125.6 420.6 128.7 C418.7 131.9 413.7 133.9 412.0 137.3 C410.3 140.8 409.4 145.6 410.3 149.3 C411.1 153.1 414.9 155.9 417.1 159.7 C419.4 163.4 422.9 167.7 424.0 171.7 C425.2 175.7 424.6 179.7 424.0 183.7 C423.4 187.7 420.3 192.0 420.6 195.7 C420.9 199.5 423.7 206.0 425.7 206.0 C427.7 206.0 429.5 198.3 432.6 195.7 C435.8 193.2 440.3 191.2 444.6 190.6 C448.9 190.0 454.7 190.6 458.4 192.3 C462.1 194.0 464.7 197.7 467.0 200.9 C469.3 204.0 469.6 208.3 472.1 211.2 C474.7 214.1 478.4 216.4 482.4 218.1 C486.4 219.8 491.9 219.8 496.2 221.5 C500.5 223.2 505.6 224.9 508.2 228.4 C510.8 231.8 511.4 237.8 511.6 242.1 C511.9 246.4 511.1 250.1 509.9 254.2 C508.8 258.2 507.1 262.5 504.8 266.2 C502.5 269.9 499.0 273.6 496.2 276.5 C493.3 279.4 489.6 280.8 487.6 283.4 C485.6 285.9 484.9 288.0 484.2 292.0 C483.4 295.9 483.9 301.8 483.3 307.2 C482.7 312.6 481.7 318.6 480.7 324.4 C479.7 330.1 478.4 335.8 477.3 341.5 C476.1 347.3 474.7 353.0 473.8 358.7 C473.0 364.5 474.1 370.2 472.1 375.9 C470.1 381.6 462.1 388.8 461.8 393.1 C461.5 397.4 466.1 400.0 470.4 401.7 C474.7 403.4 481.9 402.0 487.6 403.4 C493.3 404.8 501.1 406.8 504.8 410.3 C508.5 413.7 509.9 419.7 509.9 424.0 C509.9 428.3 506.2 430.9 504.8 436.0 C503.3 441.2 501.6 449.5 501.3 454.9 C501.1 460.4 503.9 464.7 503.1 468.7 C502.2 472.7 499.3 475.9 496.2 479.0 C493.0 482.2 487.0 483.3 484.2 487.6 C481.3 491.9 480.1 499.0 479.0 504.8 C477.9 510.5 477.7 517.8 477.3 522.0 C476.9 526.2 479.0 527.5 476.7 530.0 C474.3 532.5 468.9 536.1 463.3 536.7 C457.8 537.2 448.9 531.7 443.3 533.3 C437.8 535.0 434.4 541.7 430.0 546.7 C425.6 551.7 422.8 560.0 416.7 563.3 C410.6 566.7 400.0 567.2 393.3 566.7 C386.7 566.1 382.2 562.8 376.7 560.0 C371.1 557.2 367.2 554.4 360.0 550.0 C352.8 545.6 342.2 537.8 333.3 533.3 C324.4 528.9 315.0 525.6 306.7 523.3 C298.3 521.1 290.0 522.2 283.3 520.0 C276.7 517.8 271.7 514.4 266.7 510.0 C261.7 505.6 256.7 498.9 253.3 493.3 C250.0 487.8 247.8 481.3 246.7 476.7 C245.5 472.0 247.4 469.2 246.5 465.3 C245.6 461.4 243.6 456.7 241.3 453.2 C239.0 449.8 236.5 446.4 232.7 444.6 C229.0 442.9 223.6 442.9 219.0 442.9 C214.4 442.9 209.8 444.6 205.3 444.6 C200.7 444.6 196.4 442.9 191.5 442.9 C186.6 442.9 180.3 445.5 176.0 444.6 C171.8 443.8 168.3 440.9 165.7 437.8 C163.2 434.6 160.6 429.7 160.6 425.7 C160.6 421.7 162.9 418.0 165.7 413.7 C168.6 409.4 175.5 404.5 177.8 400.0 C180.1 395.4 179.5 391.1 179.5 386.2 C179.5 381.4 178.3 375.3 177.8 370.8 C177.2 366.2 177.8 362.7 176.0 358.7 C174.3 354.7 171.8 349.6 167.5 346.7 C163.2 343.8 156.0 342.7 150.3 341.5 C144.5 340.4 138.8 339.8 133.1 339.8 C127.4 339.8 120.8 341.5 115.9 341.5 C111.0 341.5 108.2 341.8 103.9 339.8 C99.6 337.8 93.6 333.0 90.1 329.5 C86.7 326.1 84.7 323.5 83.3 319.2 C81.8 314.9 81.5 308.3 81.5 303.7 C81.5 299.2 82.4 296.8 83.3 292.0 C84.1 287.1 85.8 280.5 86.7 274.8 C87.6 269.0 87.3 262.7 88.4 257.6 C89.6 252.4 93.3 247.3 93.6 243.8 C93.9 240.4 92.7 239.3 90.1 237.0 C87.6 234.7 82.1 232.7 78.1 230.1 C74.1 227.5 68.8 224.4 66.1 221.5 C63.4 218.6 62.1 215.8 61.8 212.9Z" fill="#C3C3C3"/>
<g clip-path="url(#cp9)"><g filter="url(#bl1)"><circle cx="137.8" cy="198.7" r="15.3" fill="url(#g8)"/><circle cx="376.6" cy="228.3" r="19.5" fill="url(#g8)"/><circle cx="419.3" cy="421.1" r="19.9" fill="url(#g8)"/><circle cx="277.0" cy="469.2" r="17.7" fill="url(#g8)"/><circle cx="275.6" cy="196.6" r="21.4" fill="url(#g8)"/><circle cx="383.5" cy="119.1" r="18.6" fill="url(#g8)"/><circle cx="205.2" cy="219.6" r="17.7" fill="url(#g8)"/><circle cx="468.4" cy="473.9" r="18.3" fill="url(#g8)"/><circle cx="234.1" cy="371.5" r="18.1" fill="url(#g8)"/><circle cx="328.4" cy="116.7" r="18.4" fill="url(#g8)"/><circle cx="341.9" cy="449.5" r="19.1" fill="url(#g8)"/><circle cx="285.3" cy="119.5" r="21.0" fill="url(#g8)"/><circle cx="368.6" cy="319.3" r="20.5" fill="url(#g8)"/><circle cx="307.6" cy="380.2" r="21.3" fill="url(#g8)"/><circle cx="274.1" cy="160.3" r="16.5" fill="url(#g8)"/><circle cx="243.5" cy="447.6" r="19.9" fill="url(#g8)"/><circle cx="177.3" cy="233.2" r="15.8" fill="url(#g8)"/><circle cx="447.7" cy="353.7" r="17.8" fill="url(#g8)"/><circle cx="402.3" cy="518.6" r="21.1" fill="url(#g8)"/><circle cx="389.0" cy="315.9" r="17.4" fill="url(#g8)"/><circle cx="315.1" cy="203.7" r="21.4" fill="url(#g8)"/><circle cx="302.9" cy="151.7" r="16.2" fill="url(#g8)"/><circle cx="321.2" cy="250.0" r="17.6" fill="url(#g8)"/><circle cx="158.1" cy="261.3" r="16.3" fill="url(#g8)"/><circle cx="315.8" cy="465.1" r="17.3" fill="url(#g8)"/><circle cx="226.5" cy="352.7" r="19.3" fill="url(#g8)"/><circle cx="215.7" cy="369.6" r="15.9" fill="url(#g8)"/><circle cx="368.8" cy="302.2" r="17.7" fill="url(#g8)"/><circle cx="463.1" cy="214.9" r="20.2" fill="url(#g8)"/><circle cx="365.5" cy="516.7" r="17.0" fill="url(#g8)"/><circle cx="442.2" cy="515.9" r="17.5" fill="url(#g8)"/><circle cx="259.8" cy="403.0" r="18.9" fill="url(#g8)"/><circle cx="400.1" cy="116.9" r="15.8" fill="url(#g8)"/><circle cx="106.2" cy="303.9" r="18.8" fill="url(#g8)"/><circle cx="344.5" cy="184.3" r="21.3" fill="url(#g8)"/><circle cx="262.1" cy="390.5" r="17.8" fill="url(#g8)"/><circle cx="332.7" cy="437.5" r="15.8" fill="url(#g8)"/><circle cx="348.2" cy="247.4" r="19.9" fill="url(#g8)"/><circle cx="328.9" cy="126.4" r="20.4" fill="url(#g8)"/><circle cx="386.1" cy="450.7" r="16.0" fill="url(#g8)"/><circle cx="271.3" cy="298.4" r="15.9" fill="url(#g8)"/><circle cx="357.4" cy="161.3" r="17.1" fill="url(#g8)"/><circle cx="398.5" cy="329.7" r="17.2" fill="url(#g8)"/><circle cx="329.3" cy="147.6" r="18.4" fill="url(#g8)"/><circle cx="329.5" cy="162.6" r="16.6" fill="url(#g8)"/><circle cx="375.2" cy="125.9" r="20.8" fill="url(#g8)"/><circle cx="179.1" cy="340.2" r="16.8" fill="url(#g8)"/><circle cx="225.5" cy="221.0" r="15.6" fill="url(#g8)"/><circle cx="173.9" cy="216.9" r="17.3" fill="url(#g8)"/><circle cx="324.8" cy="381.1" r="20.2" fill="url(#g8)"/><circle cx="149.7" cy="248.0" r="21.5" fill="url(#g8)"/><circle cx="495.3" cy="454.5" r="16.5" fill="url(#g8)"/><circle cx="432.7" cy="369.7" r="19.2" fill="url(#g8)"/><circle cx="347.4" cy="113.8" r="21.2" fill="url(#g8)"/><circle cx="262.4" cy="356.2" r="20.0" fill="url(#g8)"/><circle cx="361.3" cy="346.6" r="15.5" fill="url(#g8)"/><circle cx="262.3" cy="144.7" r="16.7" fill="url(#g8)"/><circle cx="256.0" cy="472.4" r="19.7" fill="url(#g8)"/><circle cx="270.7" cy="99.6" r="20.2" fill="url(#g8)"/><circle cx="101.5" cy="202.8" r="20.3" fill="url(#g8)"/><circle cx="409.0" cy="403.1" r="17.5" fill="url(#g8)"/><circle cx="168.7" cy="317.6" r="16.1" fill="url(#g8)"/><circle cx="193.8" cy="197.2" r="19.0" fill="url(#g8)"/><circle cx="351.9" cy="228.4" r="19.9" fill="url(#g8)"/><circle cx="193.1" cy="371.7" r="20.7" fill="url(#g8)"/><circle cx="183.2" cy="284.0" r="21.2" fill="url(#g8)"/><circle cx="296.6" cy="202.7" r="19.8" fill="url(#g8)"/><circle cx="311.1" cy="357.0" r="15.3" fill="url(#g8)"/><circle cx="406.9" cy="335.2" r="21.2" fill="url(#g8)"/><circle cx="282.1" cy="279.1" r="19.2" fill="url(#g8)"/><circle cx="491.9" cy="266.8" r="20.7" fill="url(#g8)"/><circle cx="156.6" cy="161.8" r="20.0" fill="url(#g8)"/><circle cx="245.3" cy="424.1" r="18.8" fill="url(#g8)"/><circle cx="227.2" cy="283.5" r="18.6" fill="url(#g8)"/><circle cx="163.6" cy="252.5" r="18.4" fill="url(#g8)"/><circle cx="391.7" cy="302.0" r="19.0" fill="url(#g8)"/><circle cx="319.2" cy="313.3" r="17.6" fill="url(#g8)"/><circle cx="436.6" cy="286.3" r="15.3" fill="url(#g8)"/><circle cx="235.7" cy="100.9" r="18.5" fill="url(#g8)"/><circle cx="320.4" cy="186.6" r="15.7" fill="url(#g8)"/><circle cx="368.3" cy="288.3" r="18.5" fill="url(#g8)"/><circle cx="290.1" cy="263.9" r="21.1" fill="url(#g8)"/><circle cx="387.7" cy="166.6" r="16.0" fill="url(#g8)"/><circle cx="147.1" cy="221.2" r="20.8" fill="url(#g8)"/><circle cx="290.5" cy="440.0" r="19.1" fill="url(#g8)"/><circle cx="368.8" cy="502.8" r="15.9" fill="url(#g8)"/><circle cx="241.6" cy="198.6" r="18.4" fill="url(#g8)"/><circle cx="234.8" cy="262.3" r="17.5" fill="url(#g8)"/><circle cx="300.4" cy="484.5" r="20.2" fill="url(#g8)"/><circle cx="366.5" cy="383.8" r="20.3" fill="url(#g8)"/><circle cx="502.0" cy="421.0" r="19.5" fill="url(#g8)"/><circle cx="180.0" cy="165.1" r="19.0" fill="url(#g8)"/><circle cx="298.7" cy="103.3" r="20.9" fill="url(#g8)"/><circle cx="378.4" cy="351.9" r="18.9" fill="url(#g8)"/><circle cx="281.2" cy="251.0" r="21.4" fill="url(#g8)"/><circle cx="282.4" cy="489.2" r="17.0" fill="url(#g8)"/><circle cx="279.3" cy="396.4" r="21.3" fill="url(#g8)"/><circle cx="123.3" cy="205.0" r="20.8" fill="url(#g8)"/><circle cx="240.2" cy="235.0" r="19.5" fill="url(#g8)"/><circle cx="374.6" cy="337.4" r="17.8" fill="url(#g8)"/><circle cx="371.8" cy="473.1" r="21.5" fill="url(#g8)"/><circle cx="395.6" cy="505.7" r="20.1" fill="url(#g8)"/><circle cx="295.4" cy="238.7" r="15.3" fill="url(#g8)"/><circle cx="283.2" cy="188.0" r="21.5" fill="url(#g8)"/><circle cx="340.5" cy="349.2" r="16.0" fill="url(#g8)"/><circle cx="378.7" cy="183.6" r="17.3" fill="url(#g8)"/><circle cx="242.7" cy="332.7" r="18.3" fill="url(#g8)"/><circle cx="123.4" cy="268.4" r="20.8" fill="url(#g8)"/><circle cx="315.0" cy="160.5" r="20.3" fill="url(#g8)"/><circle cx="123.8" cy="300.9" r="21.5" fill="url(#g8)"/><circle cx="135.7" cy="210.3" r="16.8" fill="url(#g8)"/><circle cx="446.7" cy="482.2" r="18.7" fill="url(#g8)"/><circle cx="342.4" cy="485.5" r="20.5" fill="url(#g8)"/><circle cx="192.1" cy="221.1" r="20.3" fill="url(#g8)"/><circle cx="295.7" cy="166.6" r="21.5" fill="url(#g8)"/><circle cx="215.2" cy="195.2" r="18.9" fill="url(#g8)"/><circle cx="187.2" cy="181.5" r="17.0" fill="url(#g8)"/><circle cx="421.5" cy="522.8" r="17.2" fill="url(#g8)"/><circle cx="340.3" cy="94.8" r="16.9" fill="url(#g8)"/><circle cx="162.2" cy="198.4" r="19.1" fill="url(#g8)"/><circle cx="181.9" cy="295.2" r="15.7" fill="url(#g8)"/><circle cx="310.8" cy="331.8" r="20.2" fill="url(#g8)"/><circle cx="285.6" cy="424.6" r="20.1" fill="url(#g8)"/><circle cx="187.0" cy="386.9" r="20.9" fill="url(#g8)"/><circle cx="344.7" cy="282.7" r="17.3" fill="url(#g8)"/><circle cx="454.2" cy="471.0" r="16.0" fill="url(#g8)"/><circle cx="383.3" cy="152.5" r="19.6" fill="url(#g8)"/><circle cx="203.6" cy="332.9" r="18.8" fill="url(#g8)"/><circle cx="272.4" cy="420.4" r="15.3" fill="url(#g8)"/><circle cx="374.2" cy="203.9" r="15.6" fill="url(#g8)"/><circle cx="241.3" cy="219.9" r="18.2" fill="url(#g8)"/><circle cx="408.9" cy="555.2" r="15.3" fill="url(#g8)"/><circle cx="422.8" cy="482.4" r="15.4" fill="url(#g8)"/><circle cx="379.1" cy="486.7" r="19.8" fill="url(#g8)"/><circle cx="315.5" cy="129.8" r="15.8" fill="url(#g8)"/><circle cx="246.4" cy="176.8" r="18.0" fill="url(#g8)"/><circle cx="399.8" cy="390.9" r="17.9" fill="url(#g8)"/><circle cx="473.9" cy="430.2" r="21.2" fill="url(#g8)"/><circle cx="219.9" cy="333.6" r="16.5" fill="url(#g8)"/><circle cx="481.0" cy="453.8" r="15.4" fill="url(#g8)"/><circle cx="462.7" cy="244.4" r="16.9" fill="url(#g8)"/><circle cx="219.3" cy="230.0" r="16.1" fill="url(#g8)"/><circle cx="488.3" cy="434.9" r="20.5" fill="url(#g8)"/><circle cx="255.9" cy="92.6" r="21.4" fill="url(#g8)"/><circle cx="355.1" cy="503.1" r="17.4" fill="url(#g8)"/><circle cx="309.6" cy="314.9" r="19.8" fill="url(#g8)"/><circle cx="245.3" cy="148.6" r="18.1" fill="url(#g8)"/><circle cx="319.5" cy="438.4" r="20.5" fill="url(#g8)"/><circle cx="291.1" cy="132.7" r="19.3" fill="url(#g8)"/><circle cx="106.2" cy="232.5" r="21.4" fill="url(#g8)"/><circle cx="409.9" cy="366.0" r="19.6" fill="url(#g8)"/><circle cx="180.4" cy="269.9" r="19.2" fill="url(#g8)"/><circle cx="436.6" cy="413.5" r="20.2" fill="url(#g8)"/><circle cx="320.0" cy="301.3" r="21.0" fill="url(#g8)"/><circle cx="355.6" cy="373.6" r="17.6" fill="url(#g8)"/><circle cx="390.8" cy="365.7" r="20.4" fill="url(#g8)"/><circle cx="250.1" cy="255.7" r="19.5" fill="url(#g8)"/><circle cx="495.4" cy="229.3" r="20.7" fill="url(#g8)"/><circle cx="149.1" cy="176.5" r="15.7" fill="url(#g8)"/><circle cx="309.0" cy="457.7" r="16.3" fill="url(#g8)"/><circle cx="475.3" cy="230.6" r="16.9" fill="url(#g8)"/><circle cx="222.7" cy="161.4" r="17.9" fill="url(#g8)"/><circle cx="315.6" cy="404.2" r="20.0" fill="url(#g8)"/><circle cx="232.8" cy="306.3" r="20.3" fill="url(#g8)"/><circle cx="363.3" cy="117.8" r="20.5" fill="url(#g8)"/><circle cx="296.0" cy="505.8" r="17.3" fill="url(#g8)"/><circle cx="262.1" cy="364.5" r="16.4" fill="url(#g8)"/><circle cx="356.4" cy="437.5" r="19.5" fill="url(#g8)"/><circle cx="252.1" cy="329.3" r="17.6" fill="url(#g8)"/><circle cx="416.2" cy="125.9" r="16.8" fill="url(#g8)"/><circle cx="114.7" cy="246.4" r="15.7" fill="url(#g8)"/><circle cx="377.8" cy="166.6" r="20.4" fill="url(#g8)"/><circle cx="96.8" cy="219.8" r="17.0" fill="url(#g8)"/><circle cx="319.0" cy="521.6" r="17.0" fill="url(#g8)"/><circle cx="447.5" cy="434.0" r="19.2" fill="url(#g8)"/><circle cx="232.6" cy="416.7" r="18.9" fill="url(#g8)"/><circle cx="303.2" cy="118.5" r="18.9" fill="url(#g8)"/><circle cx="208.9" cy="387.0" r="19.2" fill="url(#g8)"/><circle cx="332.2" cy="473.7" r="21.5" fill="url(#g8)"/><circle cx="428.2" cy="321.3" r="21.6" fill="url(#g8)"/><circle cx="420.9" cy="283.8" r="21.4" fill="url(#g8)"/><circle cx="244.5" cy="349.9" r="19.8" fill="url(#g8)"/><circle cx="71.6" cy="219.7" r="20.5" fill="url(#g8)"/><circle cx="426.6" cy="267.6" r="16.9" fill="url(#g8)"/><circle cx="356.2" cy="129.5" r="19.6" fill="url(#g8)"/><circle cx="250.5" cy="285.4" r="20.3" fill="url(#g8)"/><circle cx="331.4" cy="196.6" r="19.8" fill="url(#g8)"/><circle cx="349.4" cy="212.3" r="19.4" fill="url(#g8)"/><circle cx="495.6" cy="471.4" r="20.8" fill="url(#g8)"/><circle cx="346.6" cy="518.0" r="20.5" fill="url(#g8)"/><circle cx="270.5" cy="486.3" r="15.4" fill="url(#g8)"/><circle cx="278.8" cy="499.1" r="17.4" fill="url(#g8)"/><circle cx="416.7" cy="230.8" r="19.4" fill="url(#g8)"/><circle cx="418.1" cy="270.5" r="17.7" fill="url(#g8)"/><circle cx="237.0" cy="438.5" r="15.9" fill="url(#g8)"/><circle cx="340.0" cy="418.9" r="20.7" fill="url(#g8)"/><circle cx="476.1" cy="246.7" r="16.6" fill="url(#g8)"/><circle cx="432.9" cy="467.1" r="18.9" fill="url(#g8)"/><circle cx="246.2" cy="312.2" r="17.3" fill="url(#g8)"/><circle cx="146.3" cy="317.5" r="17.7" fill="url(#g8)"/><circle cx="446.4" cy="232.5" r="19.5" fill="url(#g8)"/><circle cx="333.7" cy="329.9" r="20.9" fill="url(#g8)"/><circle cx="362.7" cy="446.9" r="15.5" fill="url(#g8)"/><circle cx="329.3" cy="215.0" r="20.0" fill="url(#g8)"/><circle cx="269.2" cy="184.3" r="19.1" fill="url(#g8)"/><circle cx="462.5" cy="323.4" r="17.2" fill="url(#g8)"/><circle cx="111.1" cy="323.0" r="16.4" fill="url(#g8)"/><circle cx="231.4" cy="134.3" r="15.6" fill="url(#g8)"/><circle cx="221.4" cy="263.1" r="20.8" fill="url(#g8)"/><circle cx="354.5" cy="103.3" r="19.8" fill="url(#g8)"/><circle cx="133.3" cy="245.1" r="20.9" fill="url(#g8)"/><circle cx="430.9" cy="404.6" r="15.5" fill="url(#g8)"/><circle cx="272.5" cy="227.6" r="19.6" fill="url(#g8)"/><circle cx="144.3" cy="289.7" r="15.6" fill="url(#g8)"/><circle cx="358.3" cy="337.6" r="18.2" fill="url(#g8)"/><circle cx="349.6" cy="199.7" r="18.6" fill="url(#g8)"/><circle cx="387.9" cy="235.9" r="20.0" fill="url(#g8)"/><circle cx="254.5" cy="204.0" r="21.4" fill="url(#g8)"/><circle cx="238.4" cy="403.8" r="15.6" fill="url(#g8)"/><circle cx="445.8" cy="305.3" r="20.3" fill="url(#g8)"/><circle cx="301.9" cy="418.6" r="15.6" fill="url(#g8)"/><circle cx="189.3" cy="322.7" r="19.3" fill="url(#g8)"/><circle cx="476.6" cy="279.2" r="17.7" fill="url(#g8)"/><circle cx="435.5" cy="332.0" r="21.0" fill="url(#g8)"/><circle cx="334.1" cy="500.2" r="19.5" fill="url(#g8)"/><circle cx="202.2" cy="271.3" r="18.2" fill="url(#g8)"/><circle cx="217.2" cy="434.7" r="20.7" fill="url(#g8)"/><circle cx="114.4" cy="227.9" r="15.8" fill="url(#g8)"/><circle cx="403.2" cy="187.6" r="17.6" fill="url(#g8)"/><circle cx="342.0" cy="150.7" r="20.8" fill="url(#g8)"/><circle cx="223.8" cy="390.4" r="15.3" fill="url(#g8)"/><circle cx="323.6" cy="489.8" r="15.8" fill="url(#g8)"/><circle cx="447.3" cy="318.4" r="16.4" fill="url(#g8)"/><circle cx="241.2" cy="118.3" r="21.6" fill="url(#g8)"/><circle cx="143.2" cy="299.2" r="21.3" fill="url(#g8)"/><circle cx="415.7" cy="497.6" r="15.8" fill="url(#g8)"/><circle cx="338.5" cy="298.6" r="15.4" fill="url(#g8)"/><circle cx="144.7" cy="237.9" r="20.7" fill="url(#g8)"/><circle cx="387.9" cy="430.0" r="19.8" fill="url(#g8)"/><circle cx="111.3" cy="280.0" r="16.4" fill="url(#g8)"/><circle cx="256.4" cy="237.4" r="19.3" fill="url(#g8)"/><circle cx="358.0" cy="255.3" r="15.9" fill="url(#g8)"/><circle cx="305.8" cy="178.1" r="20.7" fill="url(#g8)"/><circle cx="93.9" cy="289.3" r="20.9" fill="url(#g8)"/><circle cx="139.6" cy="268.7" r="20.5" fill="url(#g8)"/><circle cx="210.4" cy="289.6" r="20.1" fill="url(#g8)"/><circle cx="283.5" cy="384.7" r="19.8" fill="url(#g8)"/><circle cx="298.1" cy="333.4" r="20.9" fill="url(#g8)"/><circle cx="329.1" cy="420.9" r="21.4" fill="url(#g8)"/><circle cx="271.6" cy="313.9" r="15.9" fill="url(#g8)"/><circle cx="232.4" cy="322.3" r="18.5" fill="url(#g8)"/><circle cx="378.7" cy="548.6" r="19.6" fill="url(#g8)"/><circle cx="348.4" cy="388.4" r="18.3" fill="url(#g8)"/><circle cx="292.2" cy="401.6" r="16.0" fill="url(#g8)"/><circle cx="377.6" cy="423.9" r="17.5" fill="url(#g8)"/><circle cx="199.8" cy="161.1" r="17.7" fill="url(#g8)"/><circle cx="383.6" cy="218.4" r="16.8" fill="url(#g8)"/><circle cx="281.0" cy="440.6" r="17.0" fill="url(#g8)"/><circle cx="440.1" cy="389.8" r="19.6" fill="url(#g8)"/><circle cx="124.9" cy="278.4" r="18.2" fill="url(#g8)"/><circle cx="311.9" cy="370.4" r="16.7" fill="url(#g8)"/><circle cx="350.2" cy="303.3" r="19.4" fill="url(#g8)"/><circle cx="388.0" cy="199.3" r="19.4" fill="url(#g8)"/><circle cx="441.5" cy="246.2" r="16.2" fill="url(#g8)"/><circle cx="172.4" cy="283.5" r="18.3" fill="url(#g8)"/><circle cx="440.8" cy="214.3" r="19.7" fill="url(#g8)"/><circle cx="423.9" cy="356.1" r="17.6" fill="url(#g8)"/><circle cx="348.4" cy="536.2" r="19.4" fill="url(#g8)"/><circle cx="271.4" cy="369.5" r="18.4" fill="url(#g8)"/><circle cx="194.1" cy="417.1" r="17.7" fill="url(#g8)"/><circle cx="374.9" cy="533.9" r="17.9" fill="url(#g8)"/><circle cx="452.3" cy="365.3" r="16.4" fill="url(#g8)"/><circle cx="269.1" cy="454.4" r="20.5" fill="url(#g8)"/><circle cx="264.0" cy="280.9" r="20.5" fill="url(#g8)"/><circle cx="418.1" cy="435.1" r="18.7" fill="url(#g8)"/><circle cx="416.2" cy="465.5" r="16.5" fill="url(#g8)"/><circle cx="317.1" cy="504.4" r="16.8" fill="url(#g8)"/><circle cx="209.4" cy="318.2" r="21.2" fill="url(#g8)"/><circle cx="90.5" cy="316.7" r="19.1" fill="url(#g8)"/><circle cx="321.6" cy="356.1" r="19.6" fill="url(#g8)"/><circle cx="462.8" cy="350.9" r="15.3" fill="url(#g8)"/><circle cx="281.1" cy="268.6" r="20.4" fill="url(#g8)"/><circle cx="287.7" cy="145.1" r="21.5" fill="url(#g8)"/><circle cx="378.3" cy="251.0" r="20.4" fill="url(#g8)"/><circle cx="397.1" cy="143.2" r="15.7" fill="url(#g8)"/><circle cx="335.1" cy="238.5" r="16.2" fill="url(#g8)"/><circle cx="446.3" cy="498.8" r="16.1" fill="url(#g8)"/><circle cx="228.0" cy="144.7" r="16.7" fill="url(#g8)"/><circle cx="459.3" cy="423.9" r="20.3" fill="url(#g8)"/><circle cx="336.4" cy="396.2" r="15.4" fill="url(#g8)"/><circle cx="403.0" cy="246.3" r="17.5" fill="url(#g8)"/><circle cx="324.2" cy="286.0" r="16.7" fill="url(#g8)"/><circle cx="176.4" cy="200.9" r="17.2" fill="url(#g8)"/><circle cx="271.6" cy="115.7" r="19.4" fill="url(#g8)"/><circle cx="164.7" cy="337.5" r="21.1" fill="url(#g8)"/><circle cx="249.1" cy="380.2" r="18.2" fill="url(#g8)"/><circle cx="448.9" cy="404.9" r="16.2" fill="url(#g8)"/><circle cx="201.8" cy="399.6" r="19.1" fill="url(#g8)"/><circle cx="391.4" cy="471.6" r="16.2" fill="url(#g8)"/><circle cx="408.9" cy="535.4" r="21.1" fill="url(#g8)"/><circle cx="426.2" cy="387.9" r="15.5" fill="url(#g8)"/><circle cx="364.7" cy="187.7" r="17.8" fill="url(#g8)"/><circle cx="484.6" cy="424.6" r="16.1" fill="url(#g8)"/><circle cx="295.4" cy="465.4" r="18.2" fill="url(#g8)"/><circle cx="223.3" cy="245.8" r="20.8" fill="url(#g8)"/><circle cx="211.2" cy="351.8" r="21.3" fill="url(#g8)"/><circle cx="277.3" cy="336.5" r="17.1" fill="url(#g8)"/><circle cx="337.1" cy="363.1" r="15.4" fill="url(#g8)"/><circle cx="435.0" cy="441.1" r="15.8" fill="url(#g8)"/><circle cx="220.2" cy="296.6" r="21.3" fill="url(#g8)"/><circle cx="308.4" cy="284.7" r="21.3" fill="url(#g8)"/><circle cx="372.0" cy="432.4" r="18.2" fill="url(#g8)"/><circle cx="264.3" cy="221.5" r="21.6" fill="url(#g8)"/><circle cx="472.4" cy="267.1" r="18.8" fill="url(#g8)"/><circle cx="95.9" cy="270.5" r="20.0" fill="url(#g8)"/><circle cx="466.1" cy="302.3" r="20.2" fill="url(#g8)"/><circle cx="252.4" cy="295.3" r="19.6" fill="url(#g8)"/><circle cx="394.7" cy="397.8" r="18.1" fill="url(#g8)"/><circle cx="302.3" cy="216.8" r="18.3" fill="url(#g8)"/><circle cx="407.1" cy="285.6" r="16.2" fill="url(#g8)"/><circle cx="398.2" cy="220.1" r="20.9" fill="url(#g8)"/><circle cx="456.8" cy="385.7" r="19.2" fill="url(#g8)"/><circle cx="374.6" cy="368.3" r="17.1" fill="url(#g8)"/><circle cx="380.9" cy="518.3" r="17.7" fill="url(#g8)"/><circle cx="252.8" cy="84.7" r="21.3" fill="url(#g8)"/><circle cx="291.0" cy="220.8" r="21.2" fill="url(#g8)"/><circle cx="321.1" cy="270.8" r="15.8" fill="url(#g8)"/><circle cx="308.0" cy="255.0" r="18.8" fill="url(#g8)"/><circle cx="397.0" cy="347.1" r="16.4" fill="url(#g8)"/><circle cx="106.7" cy="217.2" r="19.5" fill="url(#g8)"/><circle cx="416.1" cy="295.9" r="20.7" fill="url(#g8)"/><circle cx="116.9" cy="331.6" r="17.2" fill="url(#g8)"/><circle cx="200.8" cy="302.6" r="21.0" fill="url(#g8)"/><circle cx="367.7" cy="414.5" r="19.2" fill="url(#g8)"/><circle cx="397.2" cy="323.1" r="18.1" fill="url(#g8)"/><circle cx="426.4" cy="458.5" r="19.9" fill="url(#g8)"/><circle cx="391.4" cy="263.4" r="17.8" fill="url(#g8)"/><circle cx="331.0" cy="450.3" r="21.1" fill="url(#g8)"/><circle cx="389.0" cy="389.4" r="17.8" fill="url(#g8)"/><circle cx="344.2" cy="323.2" r="19.0" fill="url(#g8)"/><circle cx="133.3" cy="314.1" r="17.1" fill="url(#g8)"/><circle cx="389.1" cy="127.7" r="19.7" fill="url(#g8)"/><circle cx="377.5" cy="279.1" r="20.1" fill="url(#g8)"/><circle cx="231.0" cy="117.0" r="16.4" fill="url(#g8)"/><circle cx="296.4" cy="295.5" r="18.9" fill="url(#g8)"/><circle cx="455.7" cy="263.5" r="17.0" fill="url(#g8)"/><circle cx="162.0" cy="295.5" r="16.1" fill="url(#g8)"/><circle cx="288.9" cy="458.4" r="16.8" fill="url(#g8)"/><circle cx="186.3" cy="251.3" r="17.5" fill="url(#g8)"/><circle cx="262.6" cy="246.1" r="19.4" fill="url(#g8)"/><circle cx="438.0" cy="237.3" r="15.5" fill="url(#g8)"/><circle cx="505.1" cy="246.6" r="19.8" fill="url(#g8)"/><circle cx="257.5" cy="133.4" r="21.1" fill="url(#g8)"/><circle cx="223.1" cy="399.3" r="16.4" fill="url(#g8)"/><circle cx="261.3" cy="431.5" r="18.1" fill="url(#g8)"/><circle cx="359.4" cy="270.6" r="20.7" fill="url(#g8)"/><circle cx="457.2" cy="451.0" r="21.5" fill="url(#g8)"/><circle cx="173.3" cy="433.6" r="16.1" fill="url(#g8)"/><circle cx="369.9" cy="222.0" r="17.9" fill="url(#g8)"/><circle cx="204.9" cy="184.9" r="20.5" fill="url(#g8)"/><circle cx="286.4" cy="350.1" r="20.7" fill="url(#g8)"/><circle cx="379.3" cy="265.0" r="15.5" fill="url(#g8)"/><circle cx="252.0" cy="272.6" r="21.5" fill="url(#g8)"/><circle cx="253.7" cy="160.2" r="15.8" fill="url(#g8)"/><circle cx="424.9" cy="220.3" r="21.1" fill="url(#g8)"/><circle cx="357.4" cy="469.1" r="21.5" fill="url(#g8)"/><circle cx="467.4" cy="487.2" r="19.3" fill="url(#g8)"/><circle cx="300.5" cy="366.6" r="18.0" fill="url(#g8)"/><circle cx="227.5" cy="179.8" r="18.5" fill="url(#g8)"/><circle cx="154.5" cy="227.8" r="18.2" fill="url(#g8)"/><circle cx="363.0" cy="148.2" r="20.7" fill="url(#g8)"/><circle cx="453.0" cy="339.4" r="16.7" fill="url(#g8)"/><circle cx="206.5" cy="252.4" r="15.3" fill="url(#g8)"/><circle cx="205.3" cy="418.0" r="21.4" fill="url(#g8)"/><circle cx="445.5" cy="450.2" r="19.3" fill="url(#g8)"/><circle cx="164.2" cy="181.6" r="19.8" fill="url(#g8)"/><circle cx="140.2" cy="169.8" r="19.8" fill="url(#g8)"/><circle cx="235.0" cy="162.8" r="16.9" fill="url(#g8)"/><circle cx="370.8" cy="403.4" r="21.3" fill="url(#g8)"/><circle cx="98.7" cy="329.9" r="16.1" fill="url(#g8)"/><circle cx="404.3" cy="416.9" r="20.9" fill="url(#g8)"/><circle cx="281.7" cy="132.9" r="21.5" fill="url(#g8)"/><circle cx="408.8" cy="481.8" r="21.4" fill="url(#g8)"/><circle cx="397.0" cy="458.4" r="19.5" fill="url(#g8)"/><circle cx="318.9" cy="234.3" r="19.1" fill="url(#g8)"/><circle cx="188.1" cy="350.4" r="21.4" fill="url(#g8)"/><circle cx="435.1" cy="300.6" r="18.5" fill="url(#g8)"/><circle cx="391.9" cy="539.1" r="17.8" fill="url(#g8)"/><circle cx="354.6" cy="400.4" r="21.1" fill="url(#g8)"/><circle cx="360.5" cy="490.8" r="15.9" fill="url(#g8)"/><circle cx="287.3" cy="319.5" r="16.9" fill="url(#g8)"/><circle cx="340.6" cy="268.7" r="19.6" fill="url(#g8)"/><circle cx="421.5" cy="251.5" r="18.2" fill="url(#g8)"/><circle cx="466.3" cy="279.4" r="19.7" fill="url(#g8)"/><circle cx="192.4" cy="231.4" r="17.8" fill="url(#g8)"/><circle cx="429.9" cy="506.1" r="15.8" fill="url(#g8)"/><circle cx="411.0" cy="193.9" r="18.4" fill="url(#g8)"/><circle cx="457.5" cy="517.5" r="16.5" fill="url(#g8)"/><circle cx="231.0" cy="77.1" r="21.6" fill="url(#g8)"/></g></g>
</g>
<clipPath id="cp10"><path d="M61.8 212.9 C61.5 210.1 62.2 206.6 64.4 204.3 C66.5 202.0 71.0 201.2 74.7 199.2 C78.4 197.2 82.1 193.7 86.7 192.3 C91.3 190.9 97.3 191.4 102.2 190.6 C107.0 189.7 111.9 188.9 115.9 187.1 C119.9 185.4 123.4 183.7 126.2 180.3 C129.1 176.8 130.8 170.3 133.1 166.5 C135.4 162.8 137.1 159.7 140.0 157.9 C142.8 156.2 148.0 154.2 150.3 156.2 C152.6 158.2 152.6 165.4 153.7 170.0 C154.9 174.5 154.9 179.1 157.1 183.7 C159.4 188.3 164.9 192.3 167.5 197.5 C170.0 202.6 172.6 208.9 172.6 214.6 C172.6 220.4 171.2 226.1 167.5 231.8 C163.7 237.5 156.0 246.1 150.3 249.0 C144.5 251.9 138.8 249.6 133.1 249.0 C127.4 248.4 121.6 246.7 115.9 245.6 C110.2 244.4 103.0 243.6 98.7 242.1 C94.4 240.7 93.6 239.0 90.1 237.0 C86.7 235.0 82.1 232.7 78.1 230.1 C74.1 227.5 68.8 224.4 66.1 221.5 C63.4 218.6 62.1 215.8 61.8 212.9Z"/></clipPath>
<g filter="url(#rimM)"><path d="M61.8 212.9 C61.5 210.1 62.2 206.6 64.4 204.3 C66.5 202.0 71.0 201.2 74.7 199.2 C78.4 197.2 82.1 193.7 86.7 192.3 C91.3 190.9 97.3 191.4 102.2 190.6 C107.0 189.7 111.9 188.9 115.9 187.1 C119.9 185.4 123.4 183.7 126.2 180.3 C129.1 176.8 130.8 170.3 133.1 166.5 C135.4 162.8 137.1 159.7 140.0 157.9 C142.8 156.2 148.0 154.2 150.3 156.2 C152.6 158.2 152.6 165.4 153.7 170.0 C154.9 174.5 154.9 179.1 157.1 183.7 C159.4 188.3 164.9 192.3 167.5 197.5 C170.0 202.6 172.6 208.9 172.6 214.6 C172.6 220.4 171.2 226.1 167.5 231.8 C163.7 237.5 156.0 246.1 150.3 249.0 C144.5 251.9 138.8 249.6 133.1 249.0 C127.4 248.4 121.6 246.7 115.9 245.6 C110.2 244.4 103.0 243.6 98.7 242.1 C94.4 240.7 93.6 239.0 90.1 237.0 C86.7 235.0 82.1 232.7 78.1 230.1 C74.1 227.5 68.8 224.4 66.1 221.5 C63.4 218.6 62.1 215.8 61.8 212.9Z" fill="#BFBFBF"/>
<g clip-path="url(#cp10)"><g filter="url(#bl1)"><circle cx="109.1" cy="202.5" r="18.3" fill="url(#g9)"/><circle cx="131.7" cy="200.8" r="15.6" fill="url(#g9)"/><circle cx="81.8" cy="221.8" r="19.6" fill="url(#g9)"/><circle cx="138.9" cy="190.2" r="20.6" fill="url(#g9)"/><circle cx="95.8" cy="211.6" r="17.9" fill="url(#g9)"/><circle cx="104.8" cy="224.3" r="21.1" fill="url(#g9)"/><circle cx="77.0" cy="207.2" r="19.4" fill="url(#g9)"/><circle cx="155.5" cy="220.6" r="16.7" fill="url(#g9)"/><circle cx="152.6" cy="207.7" r="19.1" fill="url(#g9)"/><circle cx="116.1" cy="224.3" r="20.0" fill="url(#g9)"/><circle cx="135.5" cy="236.9" r="16.2" fill="url(#g9)"/><circle cx="142.0" cy="220.3" r="20.3" fill="url(#g9)"/></g></g>
</g>
<path d="M201.8 145.9 C202.4 141.6 208.4 139.3 212.1 137.3 C215.9 135.3 219.6 134.2 224.2 133.9 C228.7 133.6 235.0 134.2 239.6 135.6 C244.2 137.0 249.1 139.0 251.6 142.5 C254.2 145.9 255.4 152.2 255.1 156.2 C254.8 160.2 253.1 164.0 249.9 166.5 C246.8 169.1 241.3 171.1 236.2 171.7 C231.0 172.3 223.6 171.4 219.0 170.0 C214.4 168.5 211.6 167.1 208.7 163.1 C205.8 159.1 201.2 150.2 201.8 145.9Z" fill="#E2E2E2" filter="url(#bl2)"/>
<clipPath id="cp11"><path d="M208.7 249.0 C210.4 245.3 209.0 241.6 212.1 238.7 C215.3 235.8 222.2 233.3 227.6 231.8 C233.0 230.4 239.0 229.8 244.8 230.1 C250.5 230.4 257.1 231.5 262.0 233.5 C266.8 235.5 271.1 238.1 274.0 242.1 C276.8 246.1 278.6 252.2 279.1 257.6 C279.7 263.0 277.4 267.7 277.4 274.8 C277.4 281.9 278.3 292.6 279.1 300.3 C280.0 308.0 281.4 315.2 282.6 320.9 C283.7 326.7 283.4 331.2 286.0 334.7 C288.6 338.1 293.2 339.5 298.0 341.5 C302.9 343.6 310.9 344.4 315.2 346.7 C319.5 349.0 322.7 352.1 323.8 355.3 C325.0 358.4 324.1 361.6 322.1 365.6 C320.1 369.6 315.8 375.9 311.8 379.3 C307.8 382.8 302.6 384.2 298.0 386.2 C293.5 388.2 287.7 388.8 284.3 391.4 C280.9 394.0 278.0 398.0 277.4 401.7 C276.8 405.4 279.1 410.0 280.9 413.7 C282.6 417.4 287.2 420.6 287.7 424.0 C288.3 427.5 286.0 430.9 284.3 434.3 C282.6 437.8 278.6 440.6 277.4 444.6 C276.3 448.6 278.6 454.4 277.4 458.4 C276.3 462.4 274.0 466.4 270.5 468.7 C267.1 471.0 260.8 472.7 256.8 472.1 C252.8 471.6 249.1 468.4 246.5 465.3 C243.9 462.1 243.6 456.7 241.3 453.2 C239.0 449.8 236.5 446.4 232.7 444.6 C229.0 442.9 223.6 442.9 219.0 442.9 C214.4 442.9 209.8 444.6 205.3 444.6 C200.7 444.6 196.4 442.9 191.5 442.9 C186.6 442.9 180.3 445.5 176.0 444.6 C171.8 443.8 168.3 440.9 165.7 437.8 C163.2 434.6 160.6 429.7 160.6 425.7 C160.6 421.7 162.9 418.0 165.7 413.7 C168.6 409.4 175.5 404.5 177.8 400.0 C180.1 395.4 179.5 391.1 179.5 386.2 C179.5 381.4 176.9 375.3 177.8 370.8 C178.6 366.2 183.2 362.7 184.6 358.7 C186.1 354.7 186.9 350.7 186.4 346.7 C185.8 342.7 182.9 339.0 181.2 334.7 C179.5 330.4 176.3 326.1 176.0 320.9 C175.8 315.8 177.5 308.9 179.5 303.7 C181.5 298.6 185.5 294.8 188.1 290.0 C190.7 285.2 192.7 279.6 194.9 274.8 C197.2 269.9 199.5 265.3 201.8 261.0 C204.1 256.7 207.0 252.7 208.7 249.0Z"/></clipPath>
<g filter="url(#rimN)"><path d="M208.7 249.0 C210.4 245.3 209.0 241.6 212.1 238.7 C215.3 235.8 222.2 233.3 227.6 231.8 C233.0 230.4 239.0 229.8 244.8 230.1 C250.5 230.4 257.1 231.5 262.0 233.5 C266.8 235.5 271.1 238.1 274.0 242.1 C276.8 246.1 278.6 252.2 279.1 257.6 C279.7 263.0 277.4 267.7 277.4 274.8 C277.4 281.9 278.3 292.6 279.1 300.3 C280.0 308.0 281.4 315.2 282.6 320.9 C283.7 326.7 283.4 331.2 286.0 334.7 C288.6 338.1 293.2 339.5 298.0 341.5 C302.9 343.6 310.9 344.4 315.2 346.7 C319.5 349.0 322.7 352.1 323.8 355.3 C325.0 358.4 324.1 361.6 322.1 365.6 C320.1 369.6 315.8 375.9 311.8 379.3 C307.8 382.8 302.6 384.2 298.0 386.2 C293.5 388.2 287.7 388.8 284.3 391.4 C280.9 394.0 278.0 398.0 277.4 401.7 C276.8 405.4 279.1 410.0 280.9 413.7 C282.6 417.4 287.2 420.6 287.7 424.0 C288.3 427.5 286.0 430.9 284.3 434.3 C282.6 437.8 278.6 440.6 277.4 444.6 C276.3 448.6 278.6 454.4 277.4 458.4 C276.3 462.4 274.0 466.4 270.5 468.7 C267.1 471.0 260.8 472.7 256.8 472.1 C252.8 471.6 249.1 468.4 246.5 465.3 C243.9 462.1 243.6 456.7 241.3 453.2 C239.0 449.8 236.5 446.4 232.7 444.6 C229.0 442.9 223.6 442.9 219.0 442.9 C214.4 442.9 209.8 444.6 205.3 444.6 C200.7 444.6 196.4 442.9 191.5 442.9 C186.6 442.9 180.3 445.5 176.0 444.6 C171.8 443.8 168.3 440.9 165.7 437.8 C163.2 434.6 160.6 429.7 160.6 425.7 C160.6 421.7 162.9 418.0 165.7 413.7 C168.6 409.4 175.5 404.5 177.8 400.0 C180.1 395.4 179.5 391.1 179.5 386.2 C179.5 381.4 176.9 375.3 177.8 370.8 C178.6 366.2 183.2 362.7 184.6 358.7 C186.1 354.7 186.9 350.7 186.4 346.7 C185.8 342.7 182.9 339.0 181.2 334.7 C179.5 330.4 176.3 326.1 176.0 320.9 C175.8 315.8 177.5 308.9 179.5 303.7 C181.5 298.6 185.5 294.8 188.1 290.0 C190.7 285.2 192.7 279.6 194.9 274.8 C197.2 269.9 199.5 265.3 201.8 261.0 C204.1 256.7 207.0 252.7 208.7 249.0Z" fill="#AEAEAE"/>
<g clip-path="url(#cp11)"><g filter="url(#bl1)"><circle cx="262.4" cy="433.6" r="18.9" fill="url(#g10)"/><circle cx="180.5" cy="428.1" r="17.9" fill="url(#g10)"/><circle cx="195.4" cy="420.5" r="19.3" fill="url(#g10)"/><circle cx="240.6" cy="258.5" r="16.7" fill="url(#g10)"/><circle cx="196.8" cy="360.6" r="15.4" fill="url(#g10)"/><circle cx="237.3" cy="292.2" r="21.3" fill="url(#g10)"/><circle cx="246.9" cy="386.0" r="16.2" fill="url(#g10)"/><circle cx="191.9" cy="385.0" r="19.9" fill="url(#g10)"/><circle cx="254.2" cy="278.0" r="16.9" fill="url(#g10)"/><circle cx="271.8" cy="278.7" r="16.3" fill="url(#g10)"/><circle cx="301.0" cy="365.3" r="15.4" fill="url(#g10)"/><circle cx="280.3" cy="429.5" r="20.0" fill="url(#g10)"/><circle cx="265.3" cy="348.9" r="20.8" fill="url(#g10)"/><circle cx="233.4" cy="365.0" r="18.2" fill="url(#g10)"/><circle cx="191.0" cy="310.2" r="17.4" fill="url(#g10)"/><circle cx="238.3" cy="400.5" r="16.6" fill="url(#g10)"/><circle cx="213.7" cy="275.9" r="20.1" fill="url(#g10)"/><circle cx="260.1" cy="361.5" r="19.0" fill="url(#g10)"/><circle cx="198.4" cy="395.6" r="18.1" fill="url(#g10)"/><circle cx="263.9" cy="310.1" r="16.7" fill="url(#g10)"/><circle cx="252.5" cy="414.8" r="21.2" fill="url(#g10)"/><circle cx="272.1" cy="386.0" r="18.3" fill="url(#g10)"/><circle cx="234.7" cy="243.6" r="19.7" fill="url(#g10)"/><circle cx="209.5" cy="420.2" r="19.5" fill="url(#g10)"/><circle cx="207.9" cy="347.7" r="16.7" fill="url(#g10)"/><circle cx="183.3" cy="401.1" r="15.7" fill="url(#g10)"/><circle cx="243.2" cy="252.0" r="19.5" fill="url(#g10)"/><circle cx="253.2" cy="266.1" r="19.8" fill="url(#g10)"/><circle cx="217.8" cy="397.3" r="20.2" fill="url(#g10)"/><circle cx="218.6" cy="362.1" r="20.7" fill="url(#g10)"/><circle cx="225.7" cy="285.7" r="15.9" fill="url(#g10)"/><circle cx="301.1" cy="377.9" r="20.4" fill="url(#g10)"/><circle cx="211.4" cy="319.7" r="20.2" fill="url(#g10)"/><circle cx="226.9" cy="314.3" r="20.2" fill="url(#g10)"/><circle cx="231.2" cy="385.1" r="19.2" fill="url(#g10)"/><circle cx="249.4" cy="314.9" r="15.7" fill="url(#g10)"/><circle cx="255.8" cy="398.5" r="19.1" fill="url(#g10)"/><circle cx="266.3" cy="414.9" r="20.3" fill="url(#g10)"/><circle cx="265.9" cy="443.6" r="16.2" fill="url(#g10)"/><circle cx="256.4" cy="337.2" r="18.3" fill="url(#g10)"/><circle cx="219.0" cy="294.8" r="19.2" fill="url(#g10)"/><circle cx="260.9" cy="463.8" r="17.8" fill="url(#g10)"/><circle cx="256.2" cy="297.2" r="17.6" fill="url(#g10)"/><circle cx="249.8" cy="344.5" r="15.7" fill="url(#g10)"/><circle cx="221.1" cy="265.5" r="18.0" fill="url(#g10)"/><circle cx="246.4" cy="443.8" r="17.5" fill="url(#g10)"/><circle cx="230.2" cy="410.3" r="18.6" fill="url(#g10)"/><circle cx="193.8" cy="436.9" r="20.7" fill="url(#g10)"/><circle cx="213.8" cy="337.1" r="20.2" fill="url(#g10)"/><circle cx="174.5" cy="418.7" r="16.7" fill="url(#g10)"/><circle cx="203.7" cy="381.0" r="20.6" fill="url(#g10)"/><circle cx="242.3" cy="333.2" r="15.7" fill="url(#g10)"/><circle cx="233.5" cy="349.9" r="21.3" fill="url(#g10)"/><circle cx="193.6" cy="293.8" r="21.1" fill="url(#g10)"/><circle cx="280.1" cy="336.9" r="19.8" fill="url(#g10)"/><circle cx="291.1" cy="353.3" r="20.1" fill="url(#g10)"/><circle cx="240.4" cy="432.8" r="18.8" fill="url(#g10)"/><circle cx="214.1" cy="430.9" r="16.9" fill="url(#g10)"/><circle cx="195.8" cy="331.7" r="16.6" fill="url(#g10)"/><circle cx="274.6" cy="363.9" r="16.7" fill="url(#g10)"/></g></g>
</g>
<clipPath id="cp12"><path d="M188.1 324.4 C190.1 320.1 196.7 316.6 201.8 315.8 C207.0 314.9 213.3 319.5 219.0 319.2 C224.7 318.9 230.5 316.1 236.2 314.1 C241.9 312.1 247.6 307.2 253.4 307.2 C259.1 307.2 265.7 310.6 270.5 314.1 C275.4 317.5 280.9 323.2 282.6 327.8 C284.3 332.4 283.4 338.1 280.9 341.5 C278.3 345.0 270.0 344.4 267.1 348.4 C264.2 352.4 265.1 360.4 263.7 365.6 C262.2 370.8 261.7 376.5 258.5 379.3 C255.4 382.2 249.9 383.4 244.8 382.8 C239.6 382.2 233.3 377.6 227.6 375.9 C221.9 374.2 214.7 375.3 210.4 372.5 C206.1 369.6 205.3 363.9 201.8 358.7 C198.4 353.6 192.1 347.3 189.8 341.5 C187.5 335.8 186.1 328.7 188.1 324.4Z"/></clipPath>
<g filter="url(#rimM)"><path d="M188.1 324.4 C190.1 320.1 196.7 316.6 201.8 315.8 C207.0 314.9 213.3 319.5 219.0 319.2 C224.7 318.9 230.5 316.1 236.2 314.1 C241.9 312.1 247.6 307.2 253.4 307.2 C259.1 307.2 265.7 310.6 270.5 314.1 C275.4 317.5 280.9 323.2 282.6 327.8 C284.3 332.4 283.4 338.1 280.9 341.5 C278.3 345.0 270.0 344.4 267.1 348.4 C264.2 352.4 265.1 360.4 263.7 365.6 C262.2 370.8 261.7 376.5 258.5 379.3 C255.4 382.2 249.9 383.4 244.8 382.8 C239.6 382.2 233.3 377.6 227.6 375.9 C221.9 374.2 214.7 375.3 210.4 372.5 C206.1 369.6 205.3 363.9 201.8 358.7 C198.4 353.6 192.1 347.3 189.8 341.5 C187.5 335.8 186.1 328.7 188.1 324.4Z" fill="#B6B6B6"/>
<g clip-path="url(#cp12)"><g filter="url(#bl1)"><circle cx="241.8" cy="339.2" r="18.8" fill="url(#g11)"/><circle cx="221.4" cy="339.9" r="15.7" fill="url(#g11)"/><circle cx="271.0" cy="327.2" r="21.0" fill="url(#g11)"/><circle cx="259.8" cy="324.4" r="21.2" fill="url(#g11)"/><circle cx="205.3" cy="335.9" r="19.3" fill="url(#g11)"/><circle cx="221.5" cy="352.3" r="20.1" fill="url(#g11)"/><circle cx="246.4" cy="371.8" r="18.3" fill="url(#g11)"/><circle cx="267.3" cy="339.8" r="20.9" fill="url(#g11)"/><circle cx="240.9" cy="327.8" r="16.8" fill="url(#g11)"/><circle cx="231.2" cy="352.6" r="16.6" fill="url(#g11)"/></g></g>
</g>
<clipPath id="cp13"><path d="M361.3 266.2 C359.3 260.5 362.0 253.6 363.9 249.0 C365.7 244.4 368.8 241.4 372.5 238.7 C376.2 236.0 381.6 233.5 386.2 232.7 C390.8 231.8 396.0 232.5 400.0 233.5 C404.0 234.5 406.8 236.7 410.3 238.7 C413.7 240.7 416.6 243.8 420.6 245.6 C424.6 247.3 430.3 249.0 434.3 249.0 C438.3 249.0 442.1 247.3 444.6 245.6 C447.2 243.8 446.9 240.4 449.8 238.7 C452.7 237.0 457.0 236.4 461.8 235.3 C466.7 234.1 473.8 232.4 479.0 231.8 C484.2 231.2 488.5 231.2 492.7 231.8 C497.0 232.4 501.6 233.0 504.8 235.3 C507.9 237.5 510.8 241.6 511.6 245.6 C512.5 249.6 511.4 255.3 509.9 259.3 C508.5 263.3 505.9 266.2 503.1 269.6 C500.2 273.1 495.6 276.5 492.7 279.9 C489.9 283.4 487.5 286.3 485.9 290.2 C484.3 294.2 484.2 298.1 483.3 303.7 C482.4 309.4 481.7 318.1 480.7 324.4 C479.7 330.7 478.4 335.8 477.3 341.5 C476.1 347.3 476.4 354.4 473.8 358.7 C471.3 363.0 466.7 365.3 461.8 367.3 C457.0 369.3 448.6 369.9 444.6 370.8 C440.6 371.6 441.2 371.9 437.8 372.5 C434.3 373.0 429.2 374.5 424.0 374.2 C418.9 373.9 410.8 373.3 406.8 370.8 C402.8 368.2 401.7 363.6 400.0 358.7 C398.2 353.9 397.7 347.3 396.5 341.5 C395.4 335.8 393.4 330.1 393.1 324.4 C392.8 318.6 394.8 312.9 394.8 307.2 C394.8 301.5 396.2 294.0 393.1 290.0 C389.9 286.0 381.2 287.3 375.9 283.4 C370.6 279.4 363.3 271.9 361.3 266.2Z"/></clipPath>
<g filter="url(#rimN)"><path d="M361.3 266.2 C359.3 260.5 362.0 253.6 363.9 249.0 C365.7 244.4 368.8 241.4 372.5 238.7 C376.2 236.0 381.6 233.5 386.2 232.7 C390.8 231.8 396.0 232.5 400.0 233.5 C404.0 234.5 406.8 236.7 410.3 238.7 C413.7 240.7 416.6 243.8 420.6 245.6 C424.6 247.3 430.3 249.0 434.3 249.0 C438.3 249.0 442.1 247.3 444.6 245.6 C447.2 243.8 446.9 240.4 449.8 238.7 C452.7 237.0 457.0 236.4 461.8 235.3 C466.7 234.1 473.8 232.4 479.0 231.8 C484.2 231.2 488.5 231.2 492.7 231.8 C497.0 232.4 501.6 233.0 504.8 235.3 C507.9 237.5 510.8 241.6 511.6 245.6 C512.5 249.6 511.4 255.3 509.9 259.3 C508.5 263.3 505.9 266.2 503.1 269.6 C500.2 273.1 495.6 276.5 492.7 279.9 C489.9 283.4 487.5 286.3 485.9 290.2 C484.3 294.2 484.2 298.1 483.3 303.7 C482.4 309.4 481.7 318.1 480.7 324.4 C479.7 330.7 478.4 335.8 477.3 341.5 C476.1 347.3 476.4 354.4 473.8 358.7 C471.3 363.0 466.7 365.3 461.8 367.3 C457.0 369.3 448.6 369.9 444.6 370.8 C440.6 371.6 441.2 371.9 437.8 372.5 C434.3 373.0 429.2 374.5 424.0 374.2 C418.9 373.9 410.8 373.3 406.8 370.8 C402.8 368.2 401.7 363.6 400.0 358.7 C398.2 353.9 397.7 347.3 396.5 341.5 C395.4 335.8 393.4 330.1 393.1 324.4 C392.8 318.6 394.8 312.9 394.8 307.2 C394.8 301.5 396.2 294.0 393.1 290.0 C389.9 286.0 381.2 287.3 375.9 283.4 C370.6 279.4 363.3 271.9 361.3 266.2Z" fill="#9B9B9B"/>
<g clip-path="url(#cp13)"><g filter="url(#bl1)"><circle cx="420.4" cy="328.3" r="15.3" fill="url(#g12)"/><circle cx="392.8" cy="277.7" r="19.8" fill="url(#g12)"/><circle cx="435.4" cy="295.5" r="16.4" fill="url(#g12)"/><circle cx="383.7" cy="268.7" r="19.4" fill="url(#g12)"/><circle cx="459.3" cy="327.1" r="19.7" fill="url(#g12)"/><circle cx="467.9" cy="286.3" r="16.7" fill="url(#g12)"/><circle cx="433.6" cy="366.9" r="17.3" fill="url(#g12)"/><circle cx="465.9" cy="314.7" r="20.5" fill="url(#g12)"/><circle cx="452.4" cy="260.6" r="20.9" fill="url(#g12)"/><circle cx="405.5" cy="268.0" r="18.1" fill="url(#g12)"/><circle cx="407.5" cy="344.4" r="16.6" fill="url(#g12)"/><circle cx="446.6" cy="351.3" r="16.6" fill="url(#g12)"/><circle cx="374.1" cy="246.6" r="18.0" fill="url(#g12)"/><circle cx="438.9" cy="333.4" r="20.1" fill="url(#g12)"/><circle cx="501.4" cy="261.8" r="17.4" fill="url(#g12)"/><circle cx="467.5" cy="252.2" r="20.9" fill="url(#g12)"/><circle cx="447.9" cy="316.7" r="21.2" fill="url(#g12)"/><circle cx="488.9" cy="243.0" r="17.8" fill="url(#g12)"/><circle cx="439.4" cy="268.5" r="19.7" fill="url(#g12)"/><circle cx="413.9" cy="250.0" r="21.1" fill="url(#g12)"/><circle cx="472.2" cy="264.4" r="18.7" fill="url(#g12)"/><circle cx="392.0" cy="253.2" r="20.7" fill="url(#g12)"/><circle cx="476.7" cy="297.6" r="18.4" fill="url(#g12)"/><circle cx="427.4" cy="279.8" r="16.6" fill="url(#g12)"/><circle cx="414.7" cy="316.1" r="20.6" fill="url(#g12)"/><circle cx="468.8" cy="350.5" r="21.2" fill="url(#g12)"/><circle cx="424.9" cy="265.4" r="21.4" fill="url(#g12)"/><circle cx="460.7" cy="299.7" r="16.4" fill="url(#g12)"/><circle cx="424.6" cy="315.7" r="18.3" fill="url(#g12)"/><circle cx="409.2" cy="287.5" r="18.0" fill="url(#g12)"/><circle cx="479.4" cy="237.3" r="19.3" fill="url(#g12)"/><circle cx="427.9" cy="346.4" r="18.9" fill="url(#g12)"/><circle cx="421.9" cy="304.6" r="17.0" fill="url(#g12)"/><circle cx="449.9" cy="277.9" r="17.3" fill="url(#g12)"/></g></g>
</g>
<clipPath id="cp14"><path d="M444.6 293.4 C447.2 289.1 455.8 288.9 461.8 290.0 C467.8 291.1 477.6 294.6 480.7 300.3 C483.9 306.0 481.3 317.5 480.7 324.4 C480.1 331.2 478.4 335.8 477.3 341.5 C476.1 347.3 476.4 354.4 473.8 358.7 C471.3 363.0 466.1 366.2 461.8 367.3 C457.5 368.5 450.9 369.9 448.1 365.6 C445.2 361.3 444.9 349.9 444.6 341.5 C444.4 333.2 446.4 323.8 446.4 315.8 C446.4 307.8 442.1 297.7 444.6 293.4Z"/></clipPath>
<g filter="url(#rimM)"><path d="M444.6 293.4 C447.2 289.1 455.8 288.9 461.8 290.0 C467.8 291.1 477.6 294.6 480.7 300.3 C483.9 306.0 481.3 317.5 480.7 324.4 C480.1 331.2 478.4 335.8 477.3 341.5 C476.1 347.3 476.4 354.4 473.8 358.7 C471.3 363.0 466.1 366.2 461.8 367.3 C457.5 368.5 450.9 369.9 448.1 365.6 C445.2 361.3 444.9 349.9 444.6 341.5 C444.4 333.2 446.4 323.8 446.4 315.8 C446.4 307.8 442.1 297.7 444.6 293.4Z" fill="#B9B9B9"/>
<g clip-path="url(#cp14)"><g filter="url(#bl1)"><circle cx="459.3" cy="320.1" r="20.2" fill="url(#g13)"/><circle cx="454.6" cy="344.6" r="20.4" fill="url(#g13)"/><circle cx="465.7" cy="357.3" r="20.8" fill="url(#g13)"/><circle cx="467.3" cy="341.6" r="20.2" fill="url(#g13)"/></g></g>
</g>
<clipPath id="cp15"><path d="M393.1 290.0 C389.4 293.7 394.8 301.5 394.8 307.2 C394.8 312.9 392.8 318.6 393.1 324.4 C393.4 330.1 395.4 335.8 396.5 341.5 C397.7 347.3 398.2 353.9 400.0 358.7 C401.7 363.6 402.8 368.2 406.8 370.8 C410.8 373.3 418.9 374.2 424.0 374.2 C429.2 374.2 434.3 373.3 437.8 370.8 C441.2 368.2 443.8 363.6 444.6 358.7 C445.5 353.9 442.9 347.3 442.9 341.5 C442.9 335.8 444.6 330.1 444.6 324.4 C444.6 318.6 443.5 312.9 442.9 307.2 C442.3 301.5 445.5 293.7 441.2 290.0 C436.9 286.3 425.2 284.8 417.1 284.8 C409.1 284.8 396.8 286.3 393.1 290.0Z"/></clipPath>
<g filter="url(#rimN)"><path d="M393.1 290.0 C389.4 293.7 394.8 301.5 394.8 307.2 C394.8 312.9 392.8 318.6 393.1 324.4 C393.4 330.1 395.4 335.8 396.5 341.5 C397.7 347.3 398.2 353.9 400.0 358.7 C401.7 363.6 402.8 368.2 406.8 370.8 C410.8 373.3 418.9 374.2 424.0 374.2 C429.2 374.2 434.3 373.3 437.8 370.8 C441.2 368.2 443.8 363.6 444.6 358.7 C445.5 353.9 442.9 347.3 442.9 341.5 C442.9 335.8 444.6 330.1 444.6 324.4 C444.6 318.6 443.5 312.9 442.9 307.2 C442.3 301.5 445.5 293.7 441.2 290.0 C436.9 286.3 425.2 284.8 417.1 284.8 C409.1 284.8 396.8 286.3 393.1 290.0Z" fill="#929292"/>
<g clip-path="url(#cp15)"><g filter="url(#bl1)"><circle cx="408.2" cy="320.5" r="16.3" fill="url(#g14)"/><circle cx="411.6" cy="356.2" r="15.6" fill="url(#g14)"/><circle cx="416.4" cy="338.2" r="16.2" fill="url(#g14)"/><circle cx="429.9" cy="350.6" r="20.1" fill="url(#g14)"/><circle cx="436.2" cy="319.0" r="17.8" fill="url(#g14)"/><circle cx="437.6" cy="332.5" r="19.5" fill="url(#g14)"/><circle cx="434.8" cy="304.0" r="21.0" fill="url(#g14)"/><circle cx="420.7" cy="298.0" r="21.4" fill="url(#g14)"/><circle cx="398.0" cy="296.8" r="19.8" fill="url(#g14)"/></g></g>
</g>
<clipPath id="cp16"><path d="M449.8 420.6 C449.8 417.1 450.7 413.1 453.2 410.3 C455.8 407.4 461.0 404.7 465.3 403.4 C469.6 402.1 474.4 402.3 479.0 402.5 C483.6 402.8 488.5 403.5 492.7 405.1 C497.0 406.7 501.9 408.8 504.8 412.0 C507.6 415.1 509.6 420.0 509.9 424.0 C510.2 428.0 508.8 433.2 506.5 436.0 C504.2 438.9 500.8 440.6 496.2 441.2 C491.6 441.8 484.7 440.3 479.0 439.5 C473.3 438.6 466.1 437.5 461.8 436.0 C457.5 434.6 455.2 433.5 453.2 430.9 C451.2 428.3 449.8 424.0 449.8 420.6Z"/></clipPath>
<g filter="url(#rimN)"><path d="M449.8 420.6 C449.8 417.1 450.7 413.1 453.2 410.3 C455.8 407.4 461.0 404.7 465.3 403.4 C469.6 402.1 474.4 402.3 479.0 402.5 C483.6 402.8 488.5 403.5 492.7 405.1 C497.0 406.7 501.9 408.8 504.8 412.0 C507.6 415.1 509.6 420.0 509.9 424.0 C510.2 428.0 508.8 433.2 506.5 436.0 C504.2 438.9 500.8 440.6 496.2 441.2 C491.6 441.8 484.7 440.3 479.0 439.5 C473.3 438.6 466.1 437.5 461.8 436.0 C457.5 434.6 455.2 433.5 453.2 430.9 C451.2 428.3 449.8 424.0 449.8 420.6Z" fill="#949494"/>
<g clip-path="url(#cp16)"><g filter="url(#bl1)"><circle cx="475.9" cy="423.8" r="17.5" fill="url(#g15)"/><circle cx="502.7" cy="424.6" r="18.7" fill="url(#g15)"/><circle cx="457.3" cy="417.7" r="21.3" fill="url(#g15)"/></g></g>
</g>
<clipPath id="cp17"><path d="M146.8 170.0 C147.1 166.8 147.1 161.4 150.3 157.9 C153.4 154.5 160.6 150.3 165.7 149.3 C170.9 148.3 176.3 150.3 181.2 151.9 C186.1 153.5 190.4 156.9 194.9 158.8 C199.5 160.7 205.1 160.7 208.7 163.1 C212.3 165.5 214.7 169.4 216.4 173.4 C218.1 177.4 219.1 183.4 219.0 187.1 C218.9 190.9 218.4 193.7 215.6 195.7 C212.7 197.7 207.0 199.0 201.8 199.2 C196.7 199.3 190.4 197.7 184.6 196.6 C178.9 195.5 172.3 194.5 167.5 192.3 C162.6 190.2 158.6 186.3 155.4 183.7 C152.3 181.1 150.0 179.1 148.6 176.8 C147.1 174.5 146.6 173.1 146.8 170.0Z"/></clipPath>
<g filter="url(#rimN)"><path d="M146.8 170.0 C147.1 166.8 147.1 161.4 150.3 157.9 C153.4 154.5 160.6 150.3 165.7 149.3 C170.9 148.3 176.3 150.3 181.2 151.9 C186.1 153.5 190.4 156.9 194.9 158.8 C199.5 160.7 205.1 160.7 208.7 163.1 C212.3 165.5 214.7 169.4 216.4 173.4 C218.1 177.4 219.1 183.4 219.0 187.1 C218.9 190.9 218.4 193.7 215.6 195.7 C212.7 197.7 207.0 199.0 201.8 199.2 C196.7 199.3 190.4 197.7 184.6 196.6 C178.9 195.5 172.3 194.5 167.5 192.3 C162.6 190.2 158.6 186.3 155.4 183.7 C152.3 181.1 150.0 179.1 148.6 176.8 C147.1 174.5 146.6 173.1 146.8 170.0Z" fill="#909090"/>
<g clip-path="url(#cp17)"><g filter="url(#bl1)"><circle cx="209.9" cy="177.5" r="19.7" fill="url(#g16)"/><circle cx="163.6" cy="182.2" r="16.3" fill="url(#g16)"/><circle cx="197.8" cy="165.7" r="20.3" fill="url(#g16)"/><circle cx="186.8" cy="179.2" r="21.2" fill="url(#g16)"/><circle cx="182.0" cy="161.8" r="17.5" fill="url(#g16)"/></g></g>
</g>
<path d="M150.3 190.6 C153.1 194.6 163.4 207.8 167.5 214.6 C171.5 221.5 174.3 226.1 174.3 231.8 C174.3 237.5 171.5 243.8 167.5 249.0 C163.4 254.2 153.4 257.0 150.3 262.7 C147.1 268.5 148.8 279.9 148.6 283.4" fill="none" stroke="#000" stroke-opacity="0.28" stroke-width="7" stroke-linecap="round" filter="url(#bl2)"/>
<path d="M203.5 370.8 C206.1 371.6 212.1 373.8 219.0 375.9 C225.9 378.1 237.3 382.5 244.8 383.6 C252.2 384.8 260.5 382.9 263.7 382.8" fill="none" stroke="#000" stroke-opacity="0.4" stroke-width="5" stroke-linecap="round" filter="url(#bl2)"/>
<path d="M395.7 307.2 C396.4 312.9 397.8 331.5 400.0 341.5 C402.1 351.6 407.1 363.0 408.6 367.3" fill="none" stroke="#000" stroke-opacity="0.4" stroke-width="7" stroke-linecap="round" filter="url(#bl2)"/>
<path d="M441.2 375.9 C441.8 378.8 443.2 387.4 444.6 393.1 C446.1 398.8 448.9 407.4 449.8 410.3" fill="none" stroke="#000" stroke-opacity="0.3" stroke-width="9" stroke-linecap="round" filter="url(#bl2)"/>
<path d="M150.3 290.0 C152.6 292.3 159.7 298.6 164.0 303.7 C168.3 308.9 174.0 318.1 176.0 320.9" fill="none" stroke="#000" stroke-opacity="0.25" stroke-width="8" stroke-linecap="round" filter="url(#bl2)"/>
<circle cx="255.1" cy="78.9" r="7.5" fill="url(#hl)"/>
<circle cx="260.2" cy="90.9" r="7.5" fill="url(#hl)"/>
<circle cx="275.7" cy="109.8" r="7.5" fill="url(#hl)"/>
<circle cx="294.6" cy="128.7" r="7.5" fill="url(#hl)"/>
<circle cx="286.0" cy="149.3" r="7.5" fill="url(#hl)"/>
<circle cx="279.1" cy="157.9" r="7.5" fill="url(#hl)"/>
<circle cx="262.0" cy="173.4" r="7.5" fill="url(#hl)"/>
<circle cx="233.6" cy="187.1" r="7.5" fill="url(#hl)"/>
<circle cx="247.4" cy="185.4" r="7.5" fill="url(#hl)"/>
<circle cx="231.0" cy="209.5" r="7.5" fill="url(#hl)"/>
<circle cx="253.4" cy="207.8" r="7.5" fill="url(#hl)"/>
<circle cx="193.2" cy="220.7" r="7.5" fill="url(#hl)"/>
<circle cx="212.1" cy="219.8" r="7.5" fill="url(#hl)"/>
<circle cx="297.2" cy="199.2" r="7.5" fill="url(#hl)"/>
<circle cx="306.6" cy="250.7" r="7.5" fill="url(#hl)"/>
<circle cx="282.6" cy="264.5" r="7.5" fill="url(#hl)"/>
<circle cx="284.3" cy="242.1" r="7.5" fill="url(#hl)"/>
<circle cx="184.6" cy="240.4" r="7.5" fill="url(#hl)"/>
<circle cx="224.2" cy="145.9" r="12" fill="url(#hl)"/>
<circle cx="232.7" cy="149.3" r="12" fill="url(#hl)"/>
<circle cx="153.7" cy="91.8" r="6" fill="url(#hlw)"/>
<circle cx="143.4" cy="115.0" r="6" fill="url(#hlw)"/>
<circle cx="142.5" cy="127.0" r="6" fill="url(#hlw)"/>
<circle cx="103.9" cy="140.8" r="6" fill="url(#hlw)"/>
<circle cx="129.7" cy="144.2" r="6" fill="url(#hlw)"/>
<circle cx="191.5" cy="120.1" r="6" fill="url(#hlw)"/>
<circle cx="95.3" cy="203.5" r="7.5" fill="url(#hl)"/>
<circle cx="119.3" cy="197.5" r="7.5" fill="url(#hl)"/>
<circle cx="131.4" cy="195.7" r="7.5" fill="url(#hl)"/>
<circle cx="143.4" cy="228.4" r="7.5" fill="url(#hl)"/>
<circle cx="136.5" cy="233.5" r="7.5" fill="url(#hl)"/>
<circle cx="107.3" cy="267.9" r="7.5" fill="url(#hl)"/>
<circle cx="176.0" cy="157.9" r="6" fill="url(#hl)"/>
<circle cx="188.1" cy="164.0" r="6" fill="url(#hl)"/>
<circle cx="201.8" cy="169.1" r="6" fill="url(#hl)"/>
<circle cx="229.3" cy="247.3" r="7.5" fill="url(#hl)"/>
<circle cx="237.9" cy="273.1" r="7.5" fill="url(#hl)"/>
<circle cx="339.8" cy="114.1" r="7.5" fill="url(#hl)"/>
<circle cx="375.9" cy="123.6" r="7.5" fill="url(#hl)"/>
<circle cx="396.5" cy="124.4" r="7.5" fill="url(#hl)"/>
<circle cx="408.6" cy="116.7" r="7.5" fill="url(#hl)"/>
<circle cx="295.2" cy="128.7" r="7.5" fill="url(#hl)"/>
<circle cx="382.8" cy="161.4" r="7.5" fill="url(#hl)"/>
<circle cx="393.1" cy="164.8" r="7.5" fill="url(#hl)"/>
<circle cx="403.4" cy="178.6" r="7.5" fill="url(#hl)"/>
<circle cx="372.5" cy="186.3" r="7.5" fill="url(#hl)"/>
<circle cx="400.0" cy="202.6" r="7.5" fill="url(#hl)"/>
<circle cx="410.3" cy="224.9" r="7.5" fill="url(#hl)"/>
<circle cx="379.3" cy="216.4" r="7.5" fill="url(#hl)"/>
<circle cx="295.2" cy="198.3" r="7.5" fill="url(#hl)"/>
<circle cx="306.3" cy="250.7" r="7.5" fill="url(#hl)"/>
<circle cx="350.1" cy="283.4" r="7.5" fill="url(#hl)"/>
<circle cx="454.1" cy="204.3" r="7.5" fill="url(#hl)"/>
<circle cx="454.9" cy="223.2" r="7.5" fill="url(#hl)"/>
<circle cx="496.2" cy="243.8" r="7.5" fill="url(#hl)"/>
<circle cx="483.3" cy="254.2" r="7.5" fill="url(#hl)"/>
<circle cx="393.1" cy="242.1" r="7.5" fill="url(#hl)"/>
<circle cx="398.2" cy="261.0" r="7.5" fill="url(#hl)"/>
<circle cx="417.1" cy="274.8" r="7.5" fill="url(#hl)"/>
<circle cx="406.8" cy="281.6" r="7.5" fill="url(#hl)"/>
<circle cx="203.5" cy="330.4" r="7.5" fill="url(#hl)"/>
<circle cx="217.3" cy="345.0" r="7.5" fill="url(#hl)"/>
<circle cx="214.7" cy="338.1" r="7.5" fill="url(#hl)"/>
<circle cx="248.2" cy="359.6" r="7.5" fill="url(#hl)"/>
<circle cx="256.8" cy="319.2" r="7.5" fill="url(#hl)"/>
<circle cx="270.5" cy="332.1" r="7.5" fill="url(#hl)"/>
<circle cx="224.2" cy="300.3" r="7.5" fill="url(#hl)"/>
<circle cx="110.8" cy="297.7" r="7.5" fill="url(#hl)"/>
<circle cx="133.1" cy="295.2" r="7.5" fill="url(#hl)"/>
<circle cx="119.3" cy="312.3" r="7.5" fill="url(#hl)"/>
<circle cx="127.9" cy="322.6" r="7.5" fill="url(#hl)"/>
<circle cx="167.5" cy="358.7" r="7.5" fill="url(#hl)"/>
<circle cx="201.8" cy="394.8" r="7.5" fill="url(#hl)"/>
<circle cx="222.4" cy="401.7" r="7.5" fill="url(#hl)"/>
<circle cx="197.5" cy="412.9" r="7.5" fill="url(#hl)"/>
<circle cx="258.5" cy="401.7" r="7.5" fill="url(#hl)"/>
<circle cx="265.4" cy="441.2" r="7.5" fill="url(#hl)"/>
<circle cx="267.1" cy="434.3" r="7.5" fill="url(#hl)"/>
<circle cx="241.3" cy="436.0" r="7.5" fill="url(#hl)"/>
<circle cx="287.7" cy="372.5" r="7.5" fill="url(#hl)"/>
<circle cx="280.9" cy="382.8" r="7.5" fill="url(#hl)"/>
<circle cx="301.5" cy="351.0" r="7.5" fill="url(#hl)"/>
<circle cx="315.2" cy="390.5" r="7.5" fill="url(#hl)"/>
<circle cx="303.2" cy="429.2" r="7.5" fill="url(#hl)"/>
<circle cx="296.3" cy="460.1" r="7.5" fill="url(#hl)"/>
<circle cx="282.6" cy="496.2" r="7.5" fill="url(#hl)"/>
<circle cx="315.2" cy="494.5" r="7.5" fill="url(#hl)"/>
<circle cx="430.0" cy="312.3" r="7.5" fill="url(#hl)"/>
<circle cx="430.9" cy="348.4" r="7.5" fill="url(#hl)"/>
<circle cx="473.0" cy="418.0" r="7.5" fill="url(#hl)"/>
<circle cx="496.2" cy="422.3" r="7.5" fill="url(#hl)"/>
<circle cx="374.2" cy="363.9" r="7.5" fill="url(#hl)"/>
<circle cx="319.2" cy="329.5" r="7.5" fill="url(#hl)"/>
<circle cx="300.3" cy="350.1" r="7.5" fill="url(#hl)"/>
<circle cx="315.8" cy="389.7" r="7.5" fill="url(#hl)"/>
<circle cx="307.2" cy="410.3" r="7.5" fill="url(#hl)"/>
<circle cx="303.7" cy="429.2" r="7.5" fill="url(#hl)"/>
<circle cx="394.8" cy="442.9" r="7.5" fill="url(#hl)"/>
<circle cx="410.3" cy="461.8" r="7.5" fill="url(#hl)"/>
<circle cx="420.6" cy="470.4" r="7.5" fill="url(#hl)"/>
<circle cx="442.9" cy="461.8" r="7.5" fill="url(#hl)"/>
<circle cx="473.8" cy="472.1" r="7.5" fill="url(#hl)"/>
<circle cx="479.0" cy="458.4" r="7.5" fill="url(#hl)"/>
<circle cx="454.9" cy="365.6" r="7.5" fill="url(#hl)"/>
<circle cx="461.8" cy="333.0" r="7.5" fill="url(#hl)"/>
<circle cx="487.6" cy="372.5" r="7.5" fill="url(#hl)"/>
<circle cx="501.3" cy="314.1" r="7.5" fill="url(#hl)"/>
<circle cx="542.6" cy="345.0" r="7.5" fill="url(#hl)"/>
<circle cx="386.2" cy="400.0" r="7.5" fill="url(#hl)"/>
<circle cx="295.2" cy="460.1" r="7.5" fill="url(#hl)"/>
<circle cx="319.2" cy="494.5" r="7.5" fill="url(#hl)"/>
<circle cx="436.0" cy="497.9" r="7.5" fill="url(#hl)"/>
<circle cx="467.0" cy="501.3" r="7.5" fill="url(#hl)"/>
<circle cx="266.3" cy="450.3" r="7.5" fill="url(#hl)"/>
<circle cx="283.5" cy="491.5" r="7.5" fill="url(#hl)"/>
<circle cx="297.2" cy="458.9" r="7.5" fill="url(#hl)"/>
<circle cx="317.8" cy="493.2" r="7.5" fill="url(#hl)"/>
<circle cx="395.0" cy="445.1" r="7.5" fill="url(#hl)"/>
<circle cx="410.4" cy="462.3" r="7.5" fill="url(#hl)"/>
<circle cx="420.7" cy="470.9" r="7.5" fill="url(#hl)"/>
<circle cx="436.2" cy="499.2" r="7.5" fill="url(#hl)"/>
<circle cx="441.3" cy="529.2" r="7.5" fill="url(#hl)"/>
<circle cx="228.6" cy="527.5" r="7.5" fill="url(#hl)"/>
<circle cx="242.3" cy="551.5" r="7.5" fill="url(#hl)"/>
<circle cx="348.7" cy="520.6" r="7.5" fill="url(#hl)"/>
</g>
<g filter="url(#bl05)"><path d="M339.5 163.8 C341.4 164.4 347.1 166.1 350.6 167.5 C354.1 168.9 357.8 170.1 360.3 172.0 C362.8 173.9 364.8 176.6 365.5 178.7 C366.2 180.8 366.0 182.9 364.8 184.6 C363.6 186.3 361.1 188.0 358.1 189.1 C355.1 190.2 350.6 190.6 346.9 191.3 C343.2 192.0 339.5 192.6 335.8 193.5 C332.1 194.4 328.3 195.4 324.6 196.5 C320.9 197.6 316.9 198.8 313.5 200.2 C310.1 201.6 306.5 203.0 304.5 204.7 C302.5 206.4 301.6 208.5 301.6 210.6 C301.6 212.7 302.8 215.4 304.5 217.3 C306.2 219.2 309.1 220.4 312.0 221.8 C314.9 223.2 318.3 224.3 321.6 225.5 C324.9 226.7 328.4 228.0 332.0 229.2 C335.6 230.4 340.1 231.7 343.2 232.9 C346.3 234.2 348.6 235.3 350.6 236.7 C352.7 238.1 354.0 239.6 355.5 241.5 C357.0 243.4 358.7 245.7 359.5 248.0 C360.3 250.3 361.1 252.9 360.5 255.5 C359.9 258.1 358.6 261.2 356.0 263.5 C353.4 265.8 349.7 267.3 345.0 269.0 C340.3 270.7 333.5 271.8 328.0 273.5 C322.5 275.2 316.5 276.9 312.0 279.0 C307.5 281.1 303.3 283.5 301.0 286.0 C298.7 288.5 298.1 291.3 298.0 294.0 C297.9 296.7 298.8 299.5 300.5 302.0 C302.2 304.5 304.4 306.8 308.0 309.0 C311.6 311.2 317.0 313.3 322.0 315.0 C327.0 316.7 332.5 317.6 338.0 319.0 C343.5 320.4 350.7 321.7 355.0 323.5 C359.3 325.3 362.2 327.4 364.0 330.0 C365.8 332.6 366.7 336.0 366.0 339.0 C365.3 342.0 362.7 345.0 360.0 348.0 C357.3 351.0 353.3 354.0 350.0 357.0 C346.7 360.0 342.8 362.8 340.0 366.0 C337.2 369.2 334.2 372.7 333.0 376.0 C331.8 379.3 331.7 382.9 332.5 386.0 C333.3 389.1 335.2 391.7 338.0 394.5 C340.8 397.3 345.2 399.9 349.0 403.0 C352.8 406.1 358.0 409.5 361.0 413.0 C364.0 416.5 366.2 420.7 367.0 424.0 C367.8 427.3 367.3 430.6 366.0 433.0 C364.7 435.4 362.5 437.1 359.0 438.5 C355.5 439.9 350.2 440.5 345.0 441.5 C339.8 442.5 332.8 443.4 328.0 444.5 C323.2 445.6 318.6 446.6 316.0 448.0 C313.4 449.4 311.8 451.4 312.5 453.0 C313.2 454.6 315.8 455.9 320.0 457.5 C324.2 459.1 332.5 460.4 338.0 462.5 C343.5 464.6 349.0 467.2 353.0 470.0 C357.0 472.8 360.0 476.0 362.0 479.0 C364.0 482.0 365.1 485.1 365.0 488.0 C364.9 490.9 363.7 494.0 361.5 496.5 C359.3 499.0 356.2 501.2 352.0 503.0 C347.8 504.8 341.5 506.1 336.0 507.5 C330.5 508.9 323.7 509.9 319.0 511.5 C314.3 513.1 310.2 515.3 308.0 517.0 C305.8 518.7 305.2 520.2 306.0 521.5 C306.8 522.8 309.0 524.3 313.0 525.0 C317.0 525.7 324.2 525.2 330.0 525.5 C335.8 525.8 342.7 525.6 348.0 526.5 C353.3 527.4 358.4 528.6 362.0 531.0 C365.6 533.4 368.0 537.3 369.5 541.0 C371.0 544.7 371.6 549.0 371.0 553.0 C370.4 557.0 368.5 561.2 366.0 565.0 C363.5 568.8 359.8 572.6 356.0 575.5 C352.2 578.4 347.1 580.5 343.0 582.5 C338.9 584.5 333.4 586.7 331.5 587.5" fill="none" stroke="#E8A970" stroke-opacity="0.62" stroke-width="10.8" stroke-linecap="round" stroke-linejoin="round"/></g>
<g filter="url(#bl1)"><path d="M339.5 163.8 C341.4 164.4 347.1 166.1 350.6 167.5 C354.1 168.9 357.8 170.1 360.3 172.0 C362.8 173.9 364.8 176.6 365.5 178.7 C366.2 180.8 366.0 182.9 364.8 184.6 C363.6 186.3 361.1 188.0 358.1 189.1 C355.1 190.2 350.6 190.6 346.9 191.3 C343.2 192.0 339.5 192.6 335.8 193.5 C332.1 194.4 328.3 195.4 324.6 196.5 C320.9 197.6 316.9 198.8 313.5 200.2 C310.1 201.6 306.5 203.0 304.5 204.7 C302.5 206.4 301.6 208.5 301.6 210.6 C301.6 212.7 302.8 215.4 304.5 217.3 C306.2 219.2 309.1 220.4 312.0 221.8 C314.9 223.2 318.3 224.3 321.6 225.5 C324.9 226.7 328.4 228.0 332.0 229.2 C335.6 230.4 340.1 231.7 343.2 232.9 C346.3 234.2 348.6 235.3 350.6 236.7 C352.7 238.1 354.0 239.6 355.5 241.5 C357.0 243.4 358.7 245.7 359.5 248.0 C360.3 250.3 361.1 252.9 360.5 255.5 C359.9 258.1 358.6 261.2 356.0 263.5 C353.4 265.8 349.7 267.3 345.0 269.0 C340.3 270.7 333.5 271.8 328.0 273.5 C322.5 275.2 316.5 276.9 312.0 279.0 C307.5 281.1 303.3 283.5 301.0 286.0 C298.7 288.5 298.1 291.3 298.0 294.0 C297.9 296.7 298.8 299.5 300.5 302.0 C302.2 304.5 304.4 306.8 308.0 309.0 C311.6 311.2 317.0 313.3 322.0 315.0 C327.0 316.7 332.5 317.6 338.0 319.0 C343.5 320.4 350.7 321.7 355.0 323.5 C359.3 325.3 362.2 327.4 364.0 330.0 C365.8 332.6 366.7 336.0 366.0 339.0 C365.3 342.0 362.7 345.0 360.0 348.0 C357.3 351.0 353.3 354.0 350.0 357.0 C346.7 360.0 342.8 362.8 340.0 366.0 C337.2 369.2 334.2 372.7 333.0 376.0 C331.8 379.3 331.7 382.9 332.5 386.0 C333.3 389.1 335.2 391.7 338.0 394.5 C340.8 397.3 345.2 399.9 349.0 403.0 C352.8 406.1 358.0 409.5 361.0 413.0 C364.0 416.5 366.2 420.7 367.0 424.0 C367.8 427.3 367.3 430.6 366.0 433.0 C364.7 435.4 362.5 437.1 359.0 438.5 C355.5 439.9 350.2 440.5 345.0 441.5 C339.8 442.5 332.8 443.4 328.0 444.5 C323.2 445.6 318.6 446.6 316.0 448.0 C313.4 449.4 311.8 451.4 312.5 453.0 C313.2 454.6 315.8 455.9 320.0 457.5 C324.2 459.1 332.5 460.4 338.0 462.5 C343.5 464.6 349.0 467.2 353.0 470.0 C357.0 472.8 360.0 476.0 362.0 479.0 C364.0 482.0 365.1 485.1 365.0 488.0 C364.9 490.9 363.7 494.0 361.5 496.5 C359.3 499.0 356.2 501.2 352.0 503.0 C347.8 504.8 341.5 506.1 336.0 507.5 C330.5 508.9 323.7 509.9 319.0 511.5 C314.3 513.1 310.2 515.3 308.0 517.0 C305.8 518.7 305.2 520.2 306.0 521.5 C306.8 522.8 309.0 524.3 313.0 525.0 C317.0 525.7 324.2 525.2 330.0 525.5 C335.8 525.8 342.7 525.6 348.0 526.5 C353.3 527.4 358.4 528.6 362.0 531.0 C365.6 533.4 368.0 537.3 369.5 541.0 C371.0 544.7 371.6 549.0 371.0 553.0 C370.4 557.0 368.5 561.2 366.0 565.0 C363.5 568.8 359.8 572.6 356.0 575.5 C352.2 578.4 347.1 580.5 343.0 582.5 C338.9 584.5 333.4 586.7 331.5 587.5" fill="none" stroke="#FBDDBB" stroke-opacity="0.6" stroke-width="4.2" stroke-linecap="round" stroke-linejoin="round"/></g>
<path d="M292.6 180.3 L310.6 178.6 L324.4 174.3 L335.5 164.0" fill="none" stroke="#EA8720" stroke-width="4.3" stroke-linecap="round" stroke-linejoin="round"/>
<path d="M324.4 174.3 L332.1 190.6" fill="none" stroke="#EA8720" stroke-width="4.3" stroke-linecap="round" stroke-linejoin="round"/>
<path d="M345.0 236.1 L340.7 244.7 L354.4 260.2 L345.0 270.5 L354.4 268.8" fill="none" stroke="#EA8720" stroke-width="4.3" stroke-linecap="round" stroke-linejoin="round"/>
<path d="M350.1 323.5 L353.6 332.1 L358.7 322.6" fill="none" stroke="#EA8720" stroke-width="4.3" stroke-linecap="round" stroke-linejoin="round"/>
<path d="M353.6 332.1 L363.9 349.3" fill="none" stroke="#EA8720" stroke-width="4.3" stroke-linecap="round" stroke-linejoin="round"/>
<path d="M339.8 389.3 L326.1 391.4 L330.4 404.3 L315.8 404.8" fill="none" stroke="#EA8720" stroke-width="4.3" stroke-linecap="round" stroke-linejoin="round"/>
<path d="M330.4 404.3 L348.4 402.5" fill="none" stroke="#EA8720" stroke-width="4.3" stroke-linecap="round" stroke-linejoin="round"/>
<path d="M333.8 449.8 L349.3 463.5 L345.0 474.7 L324.4 477.3" fill="none" stroke="#EA8720" stroke-width="4.3" stroke-linecap="round" stroke-linejoin="round"/>
<path d="M349.3 463.5 L349.3 468.7" fill="none" stroke="#EA8720" stroke-width="4.3" stroke-linecap="round" stroke-linejoin="round"/>
<path d="M359.0 509.5 L372.7 518.0 L369.3 534.3 L353.8 542.9" fill="none" stroke="#EA8720" stroke-width="4.3" stroke-linecap="round" stroke-linejoin="round"/>
<path d="M369.3 534.3 L360.7 533.5" fill="none" stroke="#EA8720" stroke-width="4.3" stroke-linecap="round" stroke-linejoin="round"/>
<path d="M315.2 528.3 L303.2 542.1 L285.2 534.3" fill="none" stroke="#EA8720" stroke-width="4.3" stroke-linecap="round" stroke-linejoin="round"/>
<path d="M303.2 542.1 L305.8 553.2" fill="none" stroke="#EA8720" stroke-width="4.3" stroke-linecap="round" stroke-linejoin="round"/>
<text x="143.80" y="619.20" font-size="30.2">BID SAHB:BAK (2m5b)</text>
<line x1="553.30" y1="162.00" x2="553.30" y2="357.00" stroke="#000" stroke-width="3"/>
<line x1="553.30" y1="390.50" x2="553.30" y2="495.50" stroke="#000" stroke-width="3"/>
<text transform="translate(560.80 224.00) rotate(90)" font-size="29.6">Deep</text>
<text transform="translate(560.80 391.00) rotate(90)" font-size="29.6">Shallow</text>
<text x="318.50" y="161.40" font-size="29.5">(5)</text>
<text x="324.50" y="236.00" font-size="29.5">(4)</text>
<text x="332.50" y="323.50" font-size="29.5">(3)</text>
<text x="323.80" y="390.50" font-size="29.5">(2)</text>
<text x="352.00" y="476.00" font-size="29.5">(1)</text>
<text x="374.00" y="534.30" font-size="29.5">(0)</text>
<text x="257.50" y="562.60" font-size="29.5">(0')</text>
</g>
<g id="panel-b">
<text x="626.00" y="30.50" font-size="42" font-weight="bold">b</text>
<text x="746.00" y="71.00" font-size="30.2">Shallow</text>
<text x="925.60" y="71.00" font-size="30.2">Deep</text>
<line x1="746.30" y1="78.70" x2="853.70" y2="78.70" stroke="#000" stroke-width="3"/>
<line x1="873.00" y1="78.70" x2="1052.00" y2="78.70" stroke="#000" stroke-width="3"/>
<rect x="826.56" y="112.5" width="18.2" height="486" fill="#000"/>
<rect x="917.16" y="112.5" width="18.2" height="486" fill="#000"/>
<text transform="translate(690.36 107.3) scale(0.94 1)" font-size="27.6" text-anchor="middle" font-family='"Liberation Sans", Arial, Helvetica, sans-serif'>0</text>
<text transform="translate(708.48 107.3) scale(0.94 1)" font-size="27.6" text-anchor="middle" font-family='"Liberation Sans", Arial, Helvetica, sans-serif'>0</text>
<text transform="translate(726.90 107.3) scale(0.94 1)" font-size="27.6" text-anchor="middle" font-family='"Liberation Mono", "Courier New", monospace'>'</text>
<text transform="translate(762.84 107.3) scale(0.94 1)" font-size="27.6" text-anchor="middle" font-family='"Liberation Mono", "Courier New", monospace'>1</text>
<text transform="translate(835.32 107.3) scale(0.94 1)" font-size="27.6" text-anchor="middle" font-family='"Liberation Mono", "Courier New", monospace'>2</text>
<text transform="translate(889.68 107.3) scale(0.94 1)" font-size="27.6" text-anchor="middle" font-family='"Liberation Mono", "Courier New", monospace'>3</text>
<text transform="translate(962.16 107.3) scale(0.94 1)" font-size="27.6" text-anchor="middle" font-family='"Liberation Mono", "Courier New", monospace'>4</text>
<text transform="translate(1034.64 107.3) scale(0.94 1)" font-size="27.6" text-anchor="middle" font-family='"Liberation Mono", "Courier New", monospace'>5</text>
<text x="1099.00" y="107.10" font-size="27">BID BH3</text>
<text transform="translate(645.36 137.00) scale(1.1615 1)" font-size="26.0" font-family='"Liberation Mono", "Courier New", monospace' stroke="#000" stroke-width="0.15">EDIIRNIARH<tspan fill="#fff" stroke="#fff" stroke-width="0.3">L</tspan>AQVG<tspan fill="#fff" stroke="#fff" stroke-width="0.3">D</tspan>SMDRSI</text>
<text x="1099.20" y="137.20" font-size="26.8">WT</text>
<text transform="translate(645.36 167.13) scale(1.1615 1)" font-size="26.0" font-family='"Liberation Mono", "Courier New", monospace' stroke="#000" stroke-width="0.15">ED<tspan fill="#E07D10" stroke="#E07D10" stroke-width="0.2">W</tspan>IRNIARH<tspan fill="#fff" stroke="#fff" stroke-width="0.3">L</tspan>AQVG<tspan fill="#fff" stroke="#fff" stroke-width="0.3">D</tspan>SMDRSI</text>
<text x="1099.20" y="167.33" font-size="26.8">W(0)</text>
<text transform="translate(645.36 197.26) scale(1.1615 1)" font-size="26.0" font-family='"Liberation Mono", "Courier New", monospace' stroke="#000" stroke-width="0.15">EDI<tspan fill="#E07D10" stroke="#E07D10" stroke-width="0.2">W</tspan>RNIARH<tspan fill="#fff" stroke="#fff" stroke-width="0.3">L</tspan>AQVG<tspan fill="#fff" stroke="#fff" stroke-width="0.3">D</tspan>SMDRSI</text>
<text x="1099.20" y="197.46" font-size="26.8">W(0')</text>
<text transform="translate(645.36 227.39) scale(1.1615 1)" font-size="26.0" font-family='"Liberation Mono", "Courier New", monospace' stroke="#000" stroke-width="0.15">EDIIRN<tspan fill="#E07D10" stroke="#E07D10" stroke-width="0.2">W</tspan>ARH<tspan fill="#fff" stroke="#fff" stroke-width="0.3">L</tspan>AQVG<tspan fill="#fff" stroke="#fff" stroke-width="0.3">D</tspan>SMDRSI</text>
<text x="1099.20" y="227.59" font-size="26.8">W(1)</text>
<text transform="translate(645.36 257.52) scale(1.1615 1)" font-size="26.0" font-family='"Liberation Mono", "Courier New", monospace' stroke="#000" stroke-width="0.15">EDIIRNIARH<tspan fill="#E07D10" stroke="#E07D10" stroke-width="0.2">M</tspan>AQVG<tspan fill="#fff" stroke="#fff" stroke-width="0.3">D</tspan>SMDRSI</text>
<text x="1099.20" y="257.72" font-size="26.8">M(2)</text>
<text transform="translate(645.36 287.65) scale(1.1615 1)" font-size="26.0" font-family='"Liberation Mono", "Courier New", monospace' stroke="#000" stroke-width="0.15">EDIIRNIARH<tspan fill="#E07D10" stroke="#E07D10" stroke-width="0.2">F</tspan>AQVG<tspan fill="#fff" stroke="#fff" stroke-width="0.3">D</tspan>SMDRSI</text>
<text x="1099.20" y="287.85" font-size="26.8">F(2)</text>
<text transform="translate(645.36 317.78) scale(1.1615 1)" font-size="26.0" font-family='"Liberation Mono", "Courier New", monospace' stroke="#000" stroke-width="0.15">EDIIRNIARH<tspan fill="#E07D10" stroke="#E07D10" stroke-width="0.2">Y</tspan>AQVG<tspan fill="#fff" stroke="#fff" stroke-width="0.3">D</tspan>SMDRSI</text>
<text x="1099.20" y="317.98" font-size="26.8">Y(2)</text>
<text transform="translate(645.36 347.91) scale(1.1615 1)" font-size="26.0" font-family='"Liberation Mono", "Courier New", monospace' stroke="#000" stroke-width="0.15">EDIIRNIARH<tspan fill="#E07D10" stroke="#E07D10" stroke-width="0.2">W</tspan>AQVG<tspan fill="#fff" stroke="#fff" stroke-width="0.3">D</tspan>SMDRSI</text>
<text x="1099.20" y="348.11" font-size="26.8">W(2)</text>
<text transform="translate(645.36 378.04) scale(1.1615 1)" font-size="26.0" font-family='"Liberation Mono", "Courier New", monospace' stroke="#000" stroke-width="0.15">EDIIRNIARH<tspan fill="#fff" stroke="#fff" stroke-width="0.3">L</tspan>AQ<tspan fill="#E07D10" stroke="#E07D10" stroke-width="0.2">M</tspan>G<tspan fill="#fff" stroke="#fff" stroke-width="0.3">D</tspan>SMDRSI</text>
<text x="1099.20" y="378.24" font-size="26.8">M(3)</text>
<text transform="translate(645.36 408.17) scale(1.1615 1)" font-size="26.0" font-family='"Liberation Mono", "Courier New", monospace' stroke="#000" stroke-width="0.15">EDIIRNIARH<tspan fill="#fff" stroke="#fff" stroke-width="0.3">L</tspan>AQ<tspan fill="#E07D10" stroke="#E07D10" stroke-width="0.2">F</tspan>G<tspan fill="#fff" stroke="#fff" stroke-width="0.3">D</tspan>SMDRSI</text>
<text x="1099.20" y="408.37" font-size="26.8">F(3)</text>
<text transform="translate(645.36 438.30) scale(1.1615 1)" font-size="26.0" font-family='"Liberation Mono", "Courier New", monospace' stroke="#000" stroke-width="0.15">EDIIRNIARH<tspan fill="#fff" stroke="#fff" stroke-width="0.3">L</tspan>AQ<tspan fill="#E07D10" stroke="#E07D10" stroke-width="0.2">Y</tspan>G<tspan fill="#fff" stroke="#fff" stroke-width="0.3">D</tspan>SMDRSI</text>
<text x="1099.20" y="438.50" font-size="26.8">Y(3)</text>
<text transform="translate(645.36 468.43) scale(1.1615 1)" font-size="26.0" font-family='"Liberation Mono", "Courier New", monospace' stroke="#000" stroke-width="0.15">EDIIRNIARH<tspan fill="#fff" stroke="#fff" stroke-width="0.3">L</tspan>AQ<tspan fill="#E07D10" stroke="#E07D10" stroke-width="0.2">W</tspan>G<tspan fill="#fff" stroke="#fff" stroke-width="0.3">D</tspan>SMDRSI</text>
<text x="1099.20" y="468.63" font-size="26.8">W(3)</text>
<text transform="translate(645.36 498.56) scale(1.1615 1)" font-size="26.0" font-family='"Liberation Mono", "Courier New", monospace' stroke="#000" stroke-width="0.15">EDIIRNIARH<tspan fill="#fff" stroke="#fff" stroke-width="0.3">L</tspan>AQVG<tspan fill="#fff" stroke="#fff" stroke-width="0.3">D</tspan>S<tspan fill="#E07D10" stroke="#E07D10" stroke-width="0.2">F</tspan>DRSI</text>
<text x="1099.20" y="498.76" font-size="26.8">F(4)</text>
<text transform="translate(645.36 528.69) scale(1.1615 1)" font-size="26.0" font-family='"Liberation Mono", "Courier New", monospace' stroke="#000" stroke-width="0.15">EDIIRNIARH<tspan fill="#fff" stroke="#fff" stroke-width="0.3">L</tspan>AQVG<tspan fill="#fff" stroke="#fff" stroke-width="0.3">D</tspan>S<tspan fill="#E07D10" stroke="#E07D10" stroke-width="0.2">Y</tspan>DRSI</text>
<text x="1099.20" y="528.89" font-size="26.8">Y(4)</text>
<text transform="translate(645.36 558.82) scale(1.1615 1)" font-size="26.0" font-family='"Liberation Mono", "Courier New", monospace' stroke="#000" stroke-width="0.15">EDIIRNIARH<tspan fill="#fff" stroke="#fff" stroke-width="0.3">L</tspan>AQVG<tspan fill="#fff" stroke="#fff" stroke-width="0.3">D</tspan>S<tspan fill="#E07D10" stroke="#E07D10" stroke-width="0.2">W</tspan>DRSI</text>
<text x="1099.20" y="559.02" font-size="26.8">W(4)</text>
<text transform="translate(645.36 588.95) scale(1.1615 1)" font-size="26.0" font-family='"Liberation Mono", "Courier New", monospace' stroke="#000" stroke-width="0.15">EDIIRNIARH<tspan fill="#fff" stroke="#fff" stroke-width="0.3">L</tspan>AQVG<tspan fill="#fff" stroke="#fff" stroke-width="0.3">D</tspan>SMDRS<tspan fill="#E07D10" stroke="#E07D10" stroke-width="0.2">W</tspan></text>
<text x="1099.20" y="589.15" font-size="26.8">W(5)</text>
</g>
<g id="panel-c">
<text x="0.00" y="682.30" font-size="42" font-weight="bold">c</text>
<rect x="198.90" y="897.00" width="22.2" height="72.50" fill="#fff" stroke="#D9D9D9" stroke-width="3"/>
<rect x="237.65" y="882.25" width="22.2" height="87.25" fill="#fff" stroke="#000" stroke-width="3"/>
<rect x="276.40" y="874.00" width="22.2" height="95.50" fill="#fff" stroke="#000" stroke-width="3"/>
<rect x="315.15" y="936.00" width="22.2" height="33.50" fill="#fff" stroke="#000" stroke-width="3"/>
<rect x="353.90" y="910.25" width="22.2" height="59.25" fill="#fff" stroke="#000" stroke-width="3"/>
<rect x="392.65" y="888.25" width="22.2" height="81.25" fill="#fff" stroke="#000" stroke-width="3"/>
<rect x="431.40" y="940.25" width="22.2" height="29.25" fill="#fff" stroke="#000" stroke-width="3"/>
<rect x="470.15" y="942.25" width="22.2" height="27.25" fill="#fff" stroke="#000" stroke-width="3"/>
<rect x="508.90" y="832.75" width="22.2" height="136.75" fill="#fff" stroke="#000" stroke-width="3"/>
<rect x="547.65" y="846.00" width="22.2" height="123.50" fill="#fff" stroke="#000" stroke-width="3"/>
<rect x="586.40" y="892.25" width="22.2" height="77.25" fill="#fff" stroke="#000" stroke-width="3"/>
<rect x="625.15" y="909.00" width="22.2" height="60.50" fill="#fff" stroke="#000" stroke-width="3"/>
<rect x="663.90" y="905.25" width="22.2" height="64.25" fill="#fff" stroke="#000" stroke-width="3"/>
<rect x="702.65" y="813.50" width="22.2" height="156.00" fill="#fff" stroke="#000" stroke-width="3"/>
<rect x="741.40" y="838.50" width="22.2" height="131.00" fill="#fff" stroke="#000" stroke-width="3"/>
<rect x="780.15" y="865.25" width="22.2" height="104.25" fill="#fff" stroke="#000" stroke-width="3"/>
<line x1="196.3" y1="895.7" x2="816" y2="895.7" stroke="#FF2600" stroke-width="6.3" stroke-linecap="round" stroke-dasharray="0 12.13"/>
<rect x="198.90" y="897.00" width="22.2" height="72.50" fill="none" stroke="#D9D9D9" stroke-width="3"/>
<line x1="210.00" y1="896.50" x2="210.00" y2="886.83" stroke="#D9D9D9" stroke-width="3" stroke-linecap="round"/>
<circle cx="210.00" cy="889.50" r="3.95" fill="none" stroke="#D9D9D9" stroke-width="3.5"/>
<circle cx="210.00" cy="899.50" r="3.95" fill="none" stroke="#D9D9D9" stroke-width="3.5"/>
<rect x="237.65" y="882.25" width="22.2" height="87.25" fill="none" stroke="#000" stroke-width="3"/>
<line x1="248.75" y1="881.75" x2="248.75" y2="858.65" stroke="#000" stroke-width="3" stroke-linecap="round"/>
<circle cx="248.75" cy="865.50" r="3.95" fill="none" stroke="#000" stroke-width="3.5"/>
<circle cx="248.75" cy="895.70" r="3.95" fill="none" stroke="#000" stroke-width="3.5"/>
<rect x="276.40" y="874.00" width="22.2" height="95.50" fill="none" stroke="#000" stroke-width="3"/>
<line x1="287.50" y1="873.50" x2="287.50" y2="863.32" stroke="#000" stroke-width="3" stroke-linecap="round"/>
<circle cx="287.50" cy="866.25" r="3.95" fill="none" stroke="#000" stroke-width="3.5"/>
<circle cx="287.50" cy="877.50" r="3.95" fill="none" stroke="#000" stroke-width="3.5"/>
<rect x="315.15" y="936.00" width="22.2" height="33.50" fill="none" stroke="#000" stroke-width="3"/>
<line x1="326.25" y1="935.50" x2="326.25" y2="933.15" stroke="#000" stroke-width="3" stroke-linecap="round"/>
<circle cx="317.50" cy="933.75" r="3.95" fill="none" stroke="#000" stroke-width="3.5"/>
<circle cx="335.50" cy="933.75" r="3.95" fill="none" stroke="#000" stroke-width="3.5"/>
<rect x="353.90" y="910.25" width="22.2" height="59.25" fill="none" stroke="#000" stroke-width="3"/>
<line x1="365.00" y1="909.75" x2="365.00" y2="899.57" stroke="#000" stroke-width="3" stroke-linecap="round"/>
<circle cx="365.00" cy="902.50" r="3.95" fill="none" stroke="#000" stroke-width="3.5"/>
<circle cx="365.00" cy="913.75" r="3.95" fill="none" stroke="#000" stroke-width="3.5"/>
<rect x="392.65" y="888.25" width="22.2" height="81.25" fill="none" stroke="#000" stroke-width="3"/>
<line x1="403.75" y1="887.75" x2="403.75" y2="872.67" stroke="#000" stroke-width="3" stroke-linecap="round"/>
<circle cx="403.75" cy="877.00" r="3.95" fill="none" stroke="#000" stroke-width="3.5"/>
<circle cx="403.75" cy="895.00" r="3.95" fill="none" stroke="#000" stroke-width="3.5"/>
<rect x="431.40" y="940.25" width="22.2" height="29.25" fill="none" stroke="#000" stroke-width="3"/>
<line x1="442.50" y1="939.75" x2="442.50" y2="930.35" stroke="#000" stroke-width="3" stroke-linecap="round"/>
<circle cx="434.50" cy="940.00" r="3.95" fill="none" stroke="#000" stroke-width="3.5"/>
<circle cx="452.00" cy="932.50" r="3.95" fill="none" stroke="#000" stroke-width="3.5"/>
<rect x="470.15" y="942.25" width="22.2" height="27.25" fill="none" stroke="#000" stroke-width="3"/>
<line x1="481.25" y1="941.75" x2="481.25" y2="933.94" stroke="#000" stroke-width="3" stroke-linecap="round"/>
<circle cx="481.25" cy="936.25" r="3.95" fill="none" stroke="#000" stroke-width="3.5"/>
<circle cx="481.25" cy="944.50" r="3.95" fill="none" stroke="#000" stroke-width="3.5"/>
<rect x="508.90" y="832.75" width="22.2" height="136.75" fill="none" stroke="#000" stroke-width="3"/>
<line x1="520.00" y1="832.25" x2="520.00" y2="821.21" stroke="#000" stroke-width="3" stroke-linecap="round"/>
<circle cx="520.00" cy="824.50" r="3.95" fill="none" stroke="#000" stroke-width="3.5"/>
<circle cx="520.00" cy="837.50" r="3.95" fill="none" stroke="#000" stroke-width="3.5"/>
<rect x="547.65" y="846.00" width="22.2" height="123.50" fill="none" stroke="#000" stroke-width="3"/>
<line x1="558.75" y1="845.50" x2="558.75" y2="837.59" stroke="#000" stroke-width="3" stroke-linecap="round"/>
<circle cx="558.75" cy="840.00" r="3.95" fill="none" stroke="#000" stroke-width="3.5"/>
<circle cx="558.75" cy="848.75" r="3.95" fill="none" stroke="#000" stroke-width="3.5"/>
<rect x="586.40" y="892.25" width="22.2" height="77.25" fill="none" stroke="#000" stroke-width="3"/>
<line x1="597.50" y1="891.75" x2="597.50" y2="882.23" stroke="#000" stroke-width="3" stroke-linecap="round"/>
<circle cx="597.50" cy="885.00" r="3.95" fill="none" stroke="#000" stroke-width="3.5"/>
<circle cx="597.50" cy="895.50" r="3.95" fill="none" stroke="#000" stroke-width="3.5"/>
<rect x="625.15" y="909.00" width="22.2" height="60.50" fill="none" stroke="#000" stroke-width="3"/>
<line x1="636.25" y1="908.50" x2="636.25" y2="905.99" stroke="#000" stroke-width="3" stroke-linecap="round"/>
<circle cx="627.50" cy="907.50" r="3.95" fill="none" stroke="#000" stroke-width="3.5"/>
<circle cx="645.00" cy="906.75" r="3.95" fill="none" stroke="#000" stroke-width="3.5"/>
<rect x="663.90" y="905.25" width="22.2" height="64.25" fill="none" stroke="#000" stroke-width="3"/>
<line x1="675.00" y1="904.75" x2="675.00" y2="901.19" stroke="#000" stroke-width="3" stroke-linecap="round"/>
<circle cx="666.25" cy="903.00" r="3.95" fill="none" stroke="#000" stroke-width="3.5"/>
<circle cx="684.50" cy="902.00" r="3.95" fill="none" stroke="#000" stroke-width="3.5"/>
<rect x="702.65" y="813.50" width="22.2" height="156.00" fill="none" stroke="#000" stroke-width="3"/>
<line x1="713.75" y1="813.00" x2="713.75" y2="808.08" stroke="#000" stroke-width="3" stroke-linecap="round"/>
<circle cx="705.00" cy="812.00" r="3.95" fill="none" stroke="#000" stroke-width="3.5"/>
<circle cx="722.50" cy="809.25" r="3.95" fill="none" stroke="#000" stroke-width="3.5"/>
<rect x="741.40" y="838.50" width="22.2" height="131.00" fill="none" stroke="#000" stroke-width="3"/>
<line x1="752.50" y1="838.00" x2="752.50" y2="813.38" stroke="#000" stroke-width="3" stroke-linecap="round"/>
<circle cx="752.50" cy="820.50" r="3.95" fill="none" stroke="#000" stroke-width="3.5"/>
<circle cx="752.50" cy="852.00" r="3.95" fill="none" stroke="#000" stroke-width="3.5"/>
<rect x="780.15" y="865.25" width="22.2" height="104.25" fill="none" stroke="#000" stroke-width="3"/>
<line x1="791.25" y1="864.75" x2="791.25" y2="841.29" stroke="#000" stroke-width="3" stroke-linecap="round"/>
<circle cx="791.25" cy="848.00" r="3.95" fill="none" stroke="#000" stroke-width="3.5"/>
<circle cx="791.25" cy="877.50" r="3.95" fill="none" stroke="#000" stroke-width="3.5"/>
<line x1="184.40" y1="724.70" x2="184.40" y2="971.00" stroke="#000" stroke-width="3.2"/>
<line x1="178.20" y1="969.50" x2="819.00" y2="969.50" stroke="#000" stroke-width="3"/>
<line x1="178.20" y1="969.50" x2="184.40" y2="969.50" stroke="#000" stroke-width="3"/>
<text x="176.00" y="978.70" font-size="26.3" text-anchor="end">0</text>
<line x1="178.20" y1="934.75" x2="184.40" y2="934.75" stroke="#000" stroke-width="3"/>
<text x="176.00" y="943.95" font-size="26.3" text-anchor="end">5</text>
<line x1="178.20" y1="900.00" x2="184.40" y2="900.00" stroke="#000" stroke-width="3"/>
<text x="176.00" y="909.20" font-size="26.3" text-anchor="end">10</text>
<line x1="178.20" y1="865.25" x2="184.40" y2="865.25" stroke="#000" stroke-width="3"/>
<text x="176.00" y="874.45" font-size="26.3" text-anchor="end">15</text>
<line x1="178.20" y1="830.50" x2="184.40" y2="830.50" stroke="#000" stroke-width="3"/>
<text x="176.00" y="839.70" font-size="26.3" text-anchor="end">20</text>
<line x1="178.20" y1="795.75" x2="184.40" y2="795.75" stroke="#000" stroke-width="3"/>
<text x="176.00" y="804.95" font-size="26.3" text-anchor="end">25</text>
<line x1="178.20" y1="761.00" x2="184.40" y2="761.00" stroke="#000" stroke-width="3"/>
<text x="176.00" y="770.20" font-size="26.3" text-anchor="end">30</text>
<line x1="178.20" y1="726.25" x2="184.40" y2="726.25" stroke="#000" stroke-width="3"/>
<text x="176.00" y="735.45" font-size="26.3" text-anchor="end">35</text>
<line x1="210.00" y1="969.50" x2="210.00" y2="975.70" stroke="#000" stroke-width="2.8"/>
<line x1="248.75" y1="969.50" x2="248.75" y2="975.70" stroke="#000" stroke-width="2.8"/>
<line x1="287.50" y1="969.50" x2="287.50" y2="975.70" stroke="#000" stroke-width="2.8"/>
<line x1="326.25" y1="969.50" x2="326.25" y2="975.70" stroke="#000" stroke-width="2.8"/>
<line x1="365.00" y1="969.50" x2="365.00" y2="975.70" stroke="#000" stroke-width="2.8"/>
<line x1="403.75" y1="969.50" x2="403.75" y2="975.70" stroke="#000" stroke-width="2.8"/>
<line x1="442.50" y1="969.50" x2="442.50" y2="975.70" stroke="#000" stroke-width="2.8"/>
<line x1="481.25" y1="969.50" x2="481.25" y2="975.70" stroke="#000" stroke-width="2.8"/>
<line x1="520.00" y1="969.50" x2="520.00" y2="975.70" stroke="#000" stroke-width="2.8"/>
<line x1="558.75" y1="969.50" x2="558.75" y2="975.70" stroke="#000" stroke-width="2.8"/>
<line x1="597.50" y1="969.50" x2="597.50" y2="975.70" stroke="#000" stroke-width="2.8"/>
<line x1="636.25" y1="969.50" x2="636.25" y2="975.70" stroke="#000" stroke-width="2.8"/>
<line x1="675.00" y1="969.50" x2="675.00" y2="975.70" stroke="#000" stroke-width="2.8"/>
<line x1="713.75" y1="969.50" x2="713.75" y2="975.70" stroke="#000" stroke-width="2.8"/>
<line x1="752.50" y1="969.50" x2="752.50" y2="975.70" stroke="#000" stroke-width="2.8"/>
<line x1="791.25" y1="969.50" x2="791.25" y2="975.70" stroke="#000" stroke-width="2.8"/>
<line x1="202.60" y1="726.90" x2="798.00" y2="726.90" stroke="#000" stroke-width="3"/>
<line x1="202.60" y1="721.40" x2="202.60" y2="732.40" stroke="#000" stroke-width="3" stroke-linecap="round"/>
<line x1="798.00" y1="721.40" x2="798.00" y2="732.40" stroke="#000" stroke-width="3" stroke-linecap="round"/>
<line x1="210.70" y1="726.90" x2="210.70" y2="797.00" stroke="#000" stroke-width="3" stroke-linecap="round"/>
<text x="500.90" y="717.90" font-size="30.75" text-anchor="middle">[BAK] (50 nM) + [BID BH3] (1 µM)</text>
<text transform="translate(252.00 792.40) rotate(-90)" font-size="18.1">0.8533</text>
<text transform="translate(292.80 792.40) rotate(-90)" font-size="18.1">0.3733</text>
<text transform="translate(332.50 792.40) rotate(-90)" font-size="18.1">0.0316</text>
<text transform="translate(371.30 792.40) rotate(-90)" font-size="18.1">0.8796</text>
<text transform="translate(410.20 792.40) rotate(-90)" font-size="18.1">0.9920</text>
<text transform="translate(448.90 792.40) rotate(-90)" font-size="18.1">0.0190</text>
<text transform="translate(487.45 792.40) rotate(-90)" font-size="18.1">0.0096</text>
<text transform="translate(525.95 792.40) rotate(-90)" font-size="18.1">0.0004</text>
<text transform="translate(564.70 792.40) rotate(-90)" font-size="18.1">0.0038</text>
<text transform="translate(603.45 792.40) rotate(-90)" font-size="18.1">0.9994</text>
<text transform="translate(642.20 792.40) rotate(-90)" font-size="18.1">0.9278</text>
<text transform="translate(674.70 792.40) rotate(-90)" font-size="18.1">0.9928</text>
<text transform="translate(726.45 792.00) rotate(-90)" font-size="30" letter-spacing="0.9" stroke="#000" stroke-width="0.5">****</text>
<text transform="translate(758.45 792.40) rotate(-90)" font-size="18.1">0.0010</text>
<text transform="translate(797.20 792.40) rotate(-90)" font-size="18.1">0.0932</text>
<rect x="198.90" y="1180.50" width="22.2" height="102.75" fill="#fff" stroke="#D9D9D9" stroke-width="3"/>
<rect x="237.65" y="1197.25" width="22.2" height="86.00" fill="#fff" stroke="#000" stroke-width="3"/>
<rect x="276.40" y="1189.50" width="22.2" height="93.75" fill="#fff" stroke="#000" stroke-width="3"/>
<rect x="315.15" y="1214.00" width="22.2" height="69.25" fill="#fff" stroke="#000" stroke-width="3"/>
<rect x="353.90" y="1211.00" width="22.2" height="72.25" fill="#fff" stroke="#000" stroke-width="3"/>
<rect x="392.65" y="1202.75" width="22.2" height="80.50" fill="#fff" stroke="#000" stroke-width="3"/>
<rect x="431.40" y="1235.25" width="22.2" height="48.00" fill="#fff" stroke="#000" stroke-width="3"/>
<rect x="470.15" y="1242.25" width="22.2" height="41.00" fill="#fff" stroke="#000" stroke-width="3"/>
<rect x="508.90" y="1165.25" width="22.2" height="118.00" fill="#fff" stroke="#000" stroke-width="3"/>
<rect x="547.65" y="1194.00" width="22.2" height="89.25" fill="#fff" stroke="#000" stroke-width="3"/>
<rect x="586.40" y="1191.50" width="22.2" height="91.75" fill="#fff" stroke="#000" stroke-width="3"/>
<rect x="625.15" y="1243.50" width="22.2" height="39.75" fill="#fff" stroke="#000" stroke-width="3"/>
<rect x="663.90" y="1227.75" width="22.2" height="55.50" fill="#fff" stroke="#000" stroke-width="3"/>
<rect x="702.65" y="1109.00" width="22.2" height="174.25" fill="#fff" stroke="#000" stroke-width="3"/>
<rect x="741.40" y="1118.50" width="22.2" height="164.75" fill="#fff" stroke="#000" stroke-width="3"/>
<rect x="780.15" y="1214.50" width="22.2" height="68.75" fill="#fff" stroke="#000" stroke-width="3"/>
<line x1="196.3" y1="1180" x2="816" y2="1180" stroke="#FF2600" stroke-width="6.3" stroke-linecap="round" stroke-dasharray="0 12.13"/>
<rect x="198.90" y="1180.50" width="22.2" height="102.75" fill="none" stroke="#D9D9D9" stroke-width="3"/>
<line x1="210.00" y1="1180.00" x2="210.00" y2="1177.24" stroke="#D9D9D9" stroke-width="3" stroke-linecap="round"/>
<circle cx="201.25" cy="1178.75" r="3.95" fill="none" stroke="#D9D9D9" stroke-width="3.5"/>
<circle cx="218.75" cy="1178.00" r="3.95" fill="none" stroke="#D9D9D9" stroke-width="3.5"/>
<rect x="237.65" y="1197.25" width="22.2" height="86.00" fill="none" stroke="#000" stroke-width="3"/>
<line x1="248.75" y1="1196.75" x2="248.75" y2="1180.76" stroke="#000" stroke-width="3" stroke-linecap="round"/>
<circle cx="248.75" cy="1185.50" r="3.95" fill="none" stroke="#000" stroke-width="3.5"/>
<circle cx="248.75" cy="1205.50" r="3.95" fill="none" stroke="#000" stroke-width="3.5"/>
<rect x="276.40" y="1189.50" width="22.2" height="93.75" fill="none" stroke="#000" stroke-width="3"/>
<line x1="287.50" y1="1189.00" x2="287.50" y2="1178.32" stroke="#000" stroke-width="3" stroke-linecap="round"/>
<circle cx="287.50" cy="1181.25" r="3.95" fill="none" stroke="#000" stroke-width="3.5"/>
<circle cx="287.50" cy="1192.50" r="3.95" fill="none" stroke="#000" stroke-width="3.5"/>
<rect x="315.15" y="1214.00" width="22.2" height="69.25" fill="none" stroke="#000" stroke-width="3"/>
<line x1="326.25" y1="1213.50" x2="326.25" y2="1199.78" stroke="#000" stroke-width="3" stroke-linecap="round"/>
<circle cx="326.25" cy="1203.75" r="3.95" fill="none" stroke="#000" stroke-width="3.5"/>
<circle cx="326.25" cy="1220.00" r="3.95" fill="none" stroke="#000" stroke-width="3.5"/>
<rect x="353.90" y="1211.00" width="22.2" height="72.25" fill="none" stroke="#000" stroke-width="3"/>
<line x1="365.00" y1="1210.50" x2="365.00" y2="1197.10" stroke="#000" stroke-width="3" stroke-linecap="round"/>
<circle cx="365.00" cy="1200.75" r="3.95" fill="none" stroke="#000" stroke-width="3.5"/>
<circle cx="365.00" cy="1215.50" r="3.95" fill="none" stroke="#000" stroke-width="3.5"/>
<rect x="392.65" y="1202.75" width="22.2" height="80.50" fill="none" stroke="#000" stroke-width="3"/>
<line x1="403.75" y1="1202.25" x2="403.75" y2="1183.23" stroke="#000" stroke-width="3" stroke-linecap="round"/>
<circle cx="403.75" cy="1188.75" r="3.95" fill="none" stroke="#000" stroke-width="3.5"/>
<circle cx="403.75" cy="1212.50" r="3.95" fill="none" stroke="#000" stroke-width="3.5"/>
<rect x="431.40" y="1235.25" width="22.2" height="48.00" fill="none" stroke="#000" stroke-width="3"/>
<line x1="442.50" y1="1234.75" x2="442.50" y2="1226.67" stroke="#000" stroke-width="3" stroke-linecap="round"/>
<circle cx="434.50" cy="1233.00" r="3.95" fill="none" stroke="#000" stroke-width="3.5"/>
<circle cx="452.00" cy="1228.25" r="3.95" fill="none" stroke="#000" stroke-width="3.5"/>
<rect x="470.15" y="1242.25" width="22.2" height="41.00" fill="none" stroke="#000" stroke-width="3"/>
<line x1="481.25" y1="1241.75" x2="481.25" y2="1231.47" stroke="#000" stroke-width="3" stroke-linecap="round"/>
<circle cx="481.25" cy="1234.50" r="3.95" fill="none" stroke="#000" stroke-width="3.5"/>
<circle cx="481.25" cy="1246.25" r="3.95" fill="none" stroke="#000" stroke-width="3.5"/>
<rect x="508.90" y="1165.25" width="22.2" height="118.00" fill="none" stroke="#000" stroke-width="3"/>
<line x1="520.00" y1="1164.75" x2="520.00" y2="1143.00" stroke="#000" stroke-width="3" stroke-linecap="round"/>
<circle cx="520.00" cy="1149.50" r="3.95" fill="none" stroke="#000" stroke-width="3.5"/>
<circle cx="520.00" cy="1178.00" r="3.95" fill="none" stroke="#000" stroke-width="3.5"/>
<rect x="547.65" y="1194.00" width="22.2" height="89.25" fill="none" stroke="#000" stroke-width="3"/>
<line x1="558.75" y1="1193.50" x2="558.75" y2="1185.61" stroke="#000" stroke-width="3" stroke-linecap="round"/>
<circle cx="550.00" cy="1193.75" r="3.95" fill="none" stroke="#000" stroke-width="3.5"/>
<circle cx="567.50" cy="1187.50" r="3.95" fill="none" stroke="#000" stroke-width="3.5"/>
<rect x="586.40" y="1191.50" width="22.2" height="91.75" fill="none" stroke="#000" stroke-width="3"/>
<line x1="597.50" y1="1191.00" x2="597.50" y2="1157.68" stroke="#000" stroke-width="3" stroke-linecap="round"/>
<circle cx="597.50" cy="1167.50" r="3.95" fill="none" stroke="#000" stroke-width="3.5"/>
<circle cx="597.50" cy="1212.00" r="3.95" fill="none" stroke="#000" stroke-width="3.5"/>
<rect x="625.15" y="1243.50" width="22.2" height="39.75" fill="none" stroke="#000" stroke-width="3"/>
<line x1="636.25" y1="1243.00" x2="636.25" y2="1236.47" stroke="#000" stroke-width="3" stroke-linecap="round"/>
<circle cx="627.50" cy="1242.50" r="3.95" fill="none" stroke="#000" stroke-width="3.5"/>
<circle cx="645.00" cy="1238.00" r="3.95" fill="none" stroke="#000" stroke-width="3.5"/>
<rect x="663.90" y="1227.75" width="22.2" height="55.50" fill="none" stroke="#000" stroke-width="3"/>
<line x1="675.00" y1="1227.25" x2="675.00" y2="1219.36" stroke="#000" stroke-width="3" stroke-linecap="round"/>
<circle cx="666.25" cy="1227.50" r="3.95" fill="none" stroke="#000" stroke-width="3.5"/>
<circle cx="683.75" cy="1221.25" r="3.95" fill="none" stroke="#000" stroke-width="3.5"/>
<rect x="702.65" y="1109.00" width="22.2" height="174.25" fill="none" stroke="#000" stroke-width="3"/>
<line x1="713.75" y1="1108.50" x2="713.75" y2="1099.74" stroke="#000" stroke-width="3" stroke-linecap="round"/>
<circle cx="705.00" cy="1110.00" r="3.95" fill="none" stroke="#000" stroke-width="3.5"/>
<circle cx="722.50" cy="1102.00" r="3.95" fill="none" stroke="#000" stroke-width="3.5"/>
<rect x="741.40" y="1118.50" width="22.2" height="164.75" fill="none" stroke="#000" stroke-width="3"/>
<line x1="752.50" y1="1118.00" x2="752.50" y2="1095.34" stroke="#000" stroke-width="3" stroke-linecap="round"/>
<circle cx="752.50" cy="1102.00" r="3.95" fill="none" stroke="#000" stroke-width="3.5"/>
<circle cx="752.50" cy="1131.25" r="3.95" fill="none" stroke="#000" stroke-width="3.5"/>
<rect x="780.15" y="1214.50" width="22.2" height="68.75" fill="none" stroke="#000" stroke-width="3"/>
<line x1="791.25" y1="1214.00" x2="791.25" y2="1204.67" stroke="#000" stroke-width="3" stroke-linecap="round"/>
<circle cx="791.25" cy="1207.50" r="3.95" fill="none" stroke="#000" stroke-width="3.5"/>
<circle cx="791.25" cy="1218.25" r="3.95" fill="none" stroke="#000" stroke-width="3.5"/>
<line x1="184.40" y1="1038.50" x2="184.40" y2="1284.75" stroke="#000" stroke-width="3.2"/>
<line x1="178.20" y1="1283.25" x2="819.00" y2="1283.25" stroke="#000" stroke-width="3"/>
<line x1="178.20" y1="1283.25" x2="184.40" y2="1283.25" stroke="#000" stroke-width="3"/>
<text x="176.00" y="1292.45" font-size="26.3" text-anchor="end">0</text>
<line x1="178.20" y1="1248.50" x2="184.40" y2="1248.50" stroke="#000" stroke-width="3"/>
<text x="176.00" y="1257.70" font-size="26.3" text-anchor="end">5</text>
<line x1="178.20" y1="1213.75" x2="184.40" y2="1213.75" stroke="#000" stroke-width="3"/>
<text x="176.00" y="1222.95" font-size="26.3" text-anchor="end">10</text>
<line x1="178.20" y1="1179.00" x2="184.40" y2="1179.00" stroke="#000" stroke-width="3"/>
<text x="176.00" y="1188.20" font-size="26.3" text-anchor="end">15</text>
<line x1="178.20" y1="1144.25" x2="184.40" y2="1144.25" stroke="#000" stroke-width="3"/>
<text x="176.00" y="1153.45" font-size="26.3" text-anchor="end">20</text>
<line x1="178.20" y1="1109.50" x2="184.40" y2="1109.50" stroke="#000" stroke-width="3"/>
<text x="176.00" y="1118.70" font-size="26.3" text-anchor="end">25</text>
<line x1="178.20" y1="1074.75" x2="184.40" y2="1074.75" stroke="#000" stroke-width="3"/>
<text x="176.00" y="1083.95" font-size="26.3" text-anchor="end">30</text>
<line x1="178.20" y1="1040.00" x2="184.40" y2="1040.00" stroke="#000" stroke-width="3"/>
<text x="176.00" y="1049.20" font-size="26.3" text-anchor="end">35</text>
<line x1="210.00" y1="1283.25" x2="210.00" y2="1289.45" stroke="#000" stroke-width="2.8"/>
<line x1="248.75" y1="1283.25" x2="248.75" y2="1289.45" stroke="#000" stroke-width="2.8"/>
<line x1="287.50" y1="1283.25" x2="287.50" y2="1289.45" stroke="#000" stroke-width="2.8"/>
<line x1="326.25" y1="1283.25" x2="326.25" y2="1289.45" stroke="#000" stroke-width="2.8"/>
<line x1="365.00" y1="1283.25" x2="365.00" y2="1289.45" stroke="#000" stroke-width="2.8"/>
<line x1="403.75" y1="1283.25" x2="403.75" y2="1289.45" stroke="#000" stroke-width="2.8"/>
<line x1="442.50" y1="1283.25" x2="442.50" y2="1289.45" stroke="#000" stroke-width="2.8"/>
<line x1="481.25" y1="1283.25" x2="481.25" y2="1289.45" stroke="#000" stroke-width="2.8"/>
<line x1="520.00" y1="1283.25" x2="520.00" y2="1289.45" stroke="#000" stroke-width="2.8"/>
<line x1="558.75" y1="1283.25" x2="558.75" y2="1289.45" stroke="#000" stroke-width="2.8"/>
<line x1="597.50" y1="1283.25" x2="597.50" y2="1289.45" stroke="#000" stroke-width="2.8"/>
<line x1="636.25" y1="1283.25" x2="636.25" y2="1289.45" stroke="#000" stroke-width="2.8"/>
<line x1="675.00" y1="1283.25" x2="675.00" y2="1289.45" stroke="#000" stroke-width="2.8"/>
<line x1="713.75" y1="1283.25" x2="713.75" y2="1289.45" stroke="#000" stroke-width="2.8"/>
<line x1="752.50" y1="1283.25" x2="752.50" y2="1289.45" stroke="#000" stroke-width="2.8"/>
<line x1="791.25" y1="1283.25" x2="791.25" y2="1289.45" stroke="#000" stroke-width="2.8"/>
<line x1="196.00" y1="1023.80" x2="808.00" y2="1023.80" stroke="#000" stroke-width="3"/>
<line x1="196.00" y1="1018.30" x2="196.00" y2="1029.30" stroke="#000" stroke-width="3" stroke-linecap="round"/>
<line x1="808.00" y1="1018.30" x2="808.00" y2="1029.30" stroke="#000" stroke-width="3" stroke-linecap="round"/>
<line x1="210.70" y1="1023.80" x2="210.70" y2="1092.00" stroke="#000" stroke-width="3" stroke-linecap="round"/>
<text x="507.30" y="1017.30" font-size="30.75" text-anchor="middle">[BAK] (50 nM) + [BID BH3] (25 µM)</text>
<text transform="translate(254.70 1086.40) rotate(-90)" font-size="18.1">0.8311</text>
<text transform="translate(293.45 1086.40) rotate(-90)" font-size="18.1">0.9990</text>
<text transform="translate(332.20 1086.40) rotate(-90)" font-size="18.1">0.1649</text>
<text transform="translate(370.95 1086.40) rotate(-90)" font-size="18.1">0.2483</text>
<text transform="translate(409.70 1086.40) rotate(-90)" font-size="18.1">0.5776</text>
<text transform="translate(448.45 1086.40) rotate(-90)" font-size="18.1">0.0106</text>
<text transform="translate(487.20 1086.40) rotate(-90)" font-size="18.1">0.0026</text>
<text transform="translate(525.95 1086.40) rotate(-90)" font-size="18.1">0.9102</text>
<text transform="translate(564.70 1086.40) rotate(-90)" font-size="18.1">0.9719</text>
<text transform="translate(603.45 1086.40) rotate(-90)" font-size="18.1">0.9882</text>
<text transform="translate(642.20 1086.40) rotate(-90)" font-size="18.1">0.0024</text>
<text transform="translate(680.95 1086.40) rotate(-90)" font-size="18.1">0.0279</text>
<text transform="translate(719.70 1086.40) rotate(-90)" font-size="18.1">0.0005</text>
<text transform="translate(758.45 1086.40) rotate(-90)" font-size="18.1">0.0025</text>
<text transform="translate(797.20 1086.40) rotate(-90)" font-size="18.1">0.1461</text>
<text transform="translate(216.50 1306.25) rotate(-45)" font-size="26.3" text-anchor="end">WT</text>
<text transform="translate(255.25 1306.25) rotate(-45)" font-size="26.3" text-anchor="end">W(0)</text>
<text transform="translate(294.00 1306.25) rotate(-45)" font-size="26.3" text-anchor="end">W(0')</text>
<text transform="translate(332.75 1306.25) rotate(-45)" font-size="26.3" text-anchor="end">W(1)</text>
<text transform="translate(371.50 1306.25) rotate(-45)" font-size="26.3" text-anchor="end">M(2)</text>
<text transform="translate(410.25 1306.25) rotate(-45)" font-size="26.3" text-anchor="end">F(2)</text>
<text transform="translate(449.00 1306.25) rotate(-45)" font-size="26.3" text-anchor="end">Y(2)</text>
<text transform="translate(487.75 1306.25) rotate(-45)" font-size="26.3" text-anchor="end">W(2)</text>
<text transform="translate(526.50 1306.25) rotate(-45)" font-size="26.3" text-anchor="end">M(3)</text>
<text transform="translate(565.25 1306.25) rotate(-45)" font-size="26.3" text-anchor="end">F(3)</text>
<text transform="translate(604.00 1306.25) rotate(-45)" font-size="26.3" text-anchor="end">Y(3)</text>
<text transform="translate(642.75 1306.25) rotate(-45)" font-size="26.3" text-anchor="end">W(3)</text>
<text transform="translate(681.50 1306.25) rotate(-45)" font-size="26.3" text-anchor="end">F(4)</text>
<text transform="translate(720.25 1306.25) rotate(-45)" font-size="26.3" text-anchor="end">Y(4)</text>
<text transform="translate(759.00 1306.25) rotate(-45)" font-size="26.3" text-anchor="end">W(4)</text>
<text transform="translate(797.75 1306.25) rotate(-45)" font-size="26.3" text-anchor="end">W(5)</text>
<text transform="translate(128.60 1003.50) rotate(-90)" font-size="31" text-anchor="middle">Liposome permeabilization AUC (88 min)</text>
</g>
<g id="panel-d">
<text x="1231.00" y="30.50" font-size="42" font-weight="bold">d</text>
<path d="M1398.6 414.1 L1402.9 413.3 L1407.2 412.5 L1411.6 411.7 L1415.9 410.8 L1420.2 409.8 L1424.5 408.8 L1428.8 407.7 L1433.1 406.6 L1437.5 405.4 L1441.8 404.2 L1446.1 402.9 L1450.4 401.5 L1454.7 400.0 L1459.0 398.5 L1463.4 396.9 L1467.7 395.1 L1472.0 393.3 L1476.3 391.4 L1480.6 389.4 L1484.9 387.3 L1489.3 385.1 L1493.6 382.8 L1497.9 380.3 L1502.2 377.7 L1506.5 375.0 L1510.9 372.2 L1515.2 369.2 L1519.5 366.1 L1523.8 362.9 L1528.1 359.6 L1532.4 356.1 L1536.8 352.5 L1541.1 348.7 L1545.4 344.9 L1549.7 341.0 L1554.0 337.0 L1558.3 333.0 L1562.7 329.0 L1567.0 324.9 L1571.3 320.9 L1575.6 317.0 L1579.9 313.1 L1584.3 309.4 L1588.6 305.9 L1592.9 302.5 L1597.2 299.4 L1601.5 296.4 L1605.8 293.7 L1610.2 291.3 L1614.5 289.0 L1618.8 287.0 L1623.1 285.3 L1627.4 283.7 L1631.7 282.3 L1636.1 281.1 L1640.4 280.1 L1644.7 279.2 L1649.0 278.4 L1653.3 277.7 L1657.7 277.1 L1662.0 276.7 L1666.3 276.2 L1670.6 275.9 L1674.9 275.6 L1679.2 275.3 L1683.6 275.1 L1687.9 274.9 L1692.2 274.8 L1696.5 274.6 L1700.8 274.5 L1705.1 274.4 L1709.5 274.4 L1713.8 274.3 L1718.1 274.2 L1722.4 274.2 L1726.7 274.1 L1731.0 274.1 L1735.4 274.1 L1739.7 274.1 L1744.0 274.0" fill="none" stroke="#000000" stroke-width="3.2" stroke-linecap="round" stroke-linejoin="round"/>
<path d="M1364.6 417.7 L1368.9 415.9 L1373.2 414.1 L1377.5 412.2 L1381.8 410.3 L1386.1 408.2 L1390.4 406.1 L1394.7 403.8 L1399.0 401.5 L1403.3 399.0 L1407.6 396.5 L1412.0 393.8 L1416.3 391.1 L1420.6 388.2 L1424.9 385.1 L1429.2 382.0 L1433.5 378.7 L1437.8 375.3 L1442.1 371.7 L1446.4 368.0 L1450.7 364.1 L1455.0 360.0 L1459.3 355.8 L1463.6 351.5 L1467.9 347.0 L1472.2 342.3 L1476.5 337.4 L1480.8 332.4 L1485.1 327.2 L1489.4 321.9 L1493.8 316.4 L1498.1 310.8 L1502.4 305.1 L1506.7 299.4 L1511.0 293.6 L1515.3 287.7 L1519.6 282.0 L1523.9 276.2 L1528.2 270.7 L1532.5 265.3 L1536.8 260.1 L1541.1 255.1 L1545.4 250.5 L1549.7 246.2 L1554.0 242.3 L1558.3 238.7 L1562.6 235.6 L1566.9 232.7 L1571.2 230.2 L1575.5 228.1 L1579.8 226.2 L1584.2 224.6 L1588.5 223.2 L1592.8 222.0 L1597.1 221.0 L1601.4 220.2 L1605.7 219.5 L1610.0 218.9 L1614.3 218.4 L1618.6 218.0 L1622.9 217.7 L1627.2 217.4 L1631.5 217.2 L1635.8 217.0 L1640.1 216.8 L1644.4 216.7 L1648.7 216.6 L1653.0 216.5 L1657.3 216.4 L1661.6 216.4 L1666.0 216.3 L1670.3 216.3 L1674.6 216.2 L1678.9 216.2 L1683.2 216.2 L1687.5 216.2 L1691.8 216.2 L1696.1 216.1 L1700.4 216.1 L1704.7 216.1 L1709.0 216.1" fill="none" stroke="#00FA00" stroke-width="3.2" stroke-linecap="round" stroke-linejoin="round"/>
<path d="M1385.4 418.5 L1389.7 416.8 L1394.1 414.9 L1398.4 413.0 L1402.8 411.0 L1407.1 408.9 L1411.5 406.7 L1415.8 404.3 L1420.2 401.9 L1424.5 399.3 L1428.9 396.7 L1433.2 393.9 L1437.5 390.9 L1441.9 387.8 L1446.2 384.6 L1450.6 381.2 L1454.9 377.7 L1459.3 374.0 L1463.6 370.1 L1468.0 366.1 L1472.3 361.8 L1476.6 357.4 L1481.0 352.8 L1485.3 348.0 L1489.7 343.0 L1494.0 337.8 L1498.4 332.4 L1502.7 326.8 L1507.1 321.1 L1511.4 315.1 L1515.8 309.1 L1520.1 302.9 L1524.4 296.6 L1528.8 290.2 L1533.1 283.9 L1537.5 277.5 L1541.8 271.3 L1546.2 265.2 L1550.5 259.3 L1554.9 253.6 L1559.2 248.3 L1563.5 243.3 L1567.9 238.6 L1572.2 234.4 L1576.6 230.5 L1580.9 227.1 L1585.3 224.1 L1589.6 221.4 L1594.0 219.1 L1598.3 217.1 L1602.7 215.4 L1607.0 214.0 L1611.3 212.7 L1615.7 211.7 L1620.0 210.8 L1624.4 210.1 L1628.7 209.5 L1633.1 209.0 L1637.4 208.5 L1641.8 208.2 L1646.1 207.9 L1650.4 207.6 L1654.8 207.4 L1659.1 207.3 L1663.5 207.1 L1667.8 207.0 L1672.2 206.9 L1676.5 206.9 L1680.9 206.8 L1685.2 206.7 L1689.5 206.7 L1693.9 206.7 L1698.2 206.6 L1702.6 206.6 L1706.9 206.6 L1711.3 206.6 L1715.6 206.6 L1720.0 206.6 L1724.3 206.5 L1728.7 206.5 L1733.0 206.5" fill="none" stroke="#FF9300" stroke-width="3.2" stroke-linecap="round" stroke-linejoin="round"/>
<path d="M1393.2 422.2 L1397.5 420.7 L1401.8 419.1 L1406.1 417.4 L1410.4 415.6 L1414.8 413.8 L1419.1 411.8 L1423.4 409.8 L1427.7 407.6 L1432.0 405.4 L1436.3 403.0 L1440.6 400.5 L1444.9 397.9 L1449.2 395.1 L1453.5 392.2 L1457.9 389.2 L1462.2 386.0 L1466.5 382.6 L1470.8 379.1 L1475.1 375.4 L1479.4 371.5 L1483.7 367.5 L1488.0 363.3 L1492.3 358.9 L1496.6 354.3 L1501.0 349.5 L1505.3 344.6 L1509.6 339.4 L1513.9 334.1 L1518.2 328.6 L1522.5 322.9 L1526.8 317.2 L1531.1 311.2 L1535.4 305.2 L1539.7 299.1 L1544.0 293.0 L1548.4 286.8 L1552.7 280.7 L1557.0 274.7 L1561.3 268.7 L1565.6 263.0 L1569.9 257.4 L1574.2 252.0 L1578.5 246.9 L1582.8 242.1 L1587.2 237.6 L1591.5 233.5 L1595.8 229.6 L1600.1 226.1 L1604.4 222.9 L1608.7 220.1 L1613.0 217.5 L1617.3 215.2 L1621.6 213.1 L1625.9 211.3 L1630.2 209.8 L1634.6 208.4 L1638.9 207.2 L1643.2 206.1 L1647.5 205.2 L1651.8 204.4 L1656.1 203.7 L1660.4 203.1 L1664.7 202.6 L1669.0 202.2 L1673.3 201.8 L1677.7 201.5 L1682.0 201.2 L1686.3 201.0 L1690.6 200.8 L1694.9 200.6 L1699.2 200.4 L1703.5 200.3 L1707.8 200.2 L1712.1 200.1 L1716.5 200.0 L1720.8 200.0 L1725.1 199.9 L1729.4 199.9 L1733.7 199.8 L1738.0 199.8" fill="none" stroke="#FF2600" stroke-width="3.2" stroke-linecap="round" stroke-linejoin="round"/>
<line x1="1398.60" y1="412.50" x2="1398.60" y2="401.50" stroke="#000000" stroke-width="3" stroke-linecap="round"/>
<circle cx="1398.6" cy="412.5" r="5.3" fill="#000000"/>
<line x1="1441.80" y1="411.10" x2="1441.80" y2="394.90" stroke="#000000" stroke-width="3" stroke-linecap="round"/>
<circle cx="1441.8" cy="411.1" r="5.3" fill="#000000"/>
<line x1="1484.70" y1="391.30" x2="1484.70" y2="382.30" stroke="#000000" stroke-width="3" stroke-linecap="round"/>
<circle cx="1484.7" cy="391.3" r="5.3" fill="#000000"/>
<line x1="1527.70" y1="350.70" x2="1527.70" y2="335.20" stroke="#000000" stroke-width="3" stroke-linecap="round"/>
<circle cx="1527.7" cy="350.7" r="5.3" fill="#000000"/>
<line x1="1570.20" y1="317.10" x2="1570.20" y2="307.50" stroke="#000000" stroke-width="3" stroke-linecap="round"/>
<circle cx="1570.2" cy="317.1" r="5.3" fill="#000000"/>
<line x1="1613.40" y1="300.30" x2="1613.40" y2="288.90" stroke="#000000" stroke-width="3" stroke-linecap="round"/>
<circle cx="1613.4" cy="300.3" r="5.3" fill="#000000"/>
<line x1="1656.40" y1="297.30" x2="1656.40" y2="282.60" stroke="#000000" stroke-width="3" stroke-linecap="round"/>
<circle cx="1656.4" cy="297.3" r="5.3" fill="#000000"/>
<line x1="1699.50" y1="257.40" x2="1699.50" y2="237.50" stroke="#000000" stroke-width="3" stroke-linecap="round"/>
<circle cx="1699.5" cy="257.4" r="5.3" fill="#000000"/>
<line x1="1742.30" y1="267.30" x2="1742.30" y2="234.20" stroke="#000000" stroke-width="3" stroke-linecap="round"/>
<circle cx="1742.3" cy="267.3" r="5.3" fill="#000000"/>
<line x1="1393.20" y1="419.50" x2="1393.20" y2="409.30" stroke="#FF2600" stroke-width="3" stroke-linecap="round"/>
<circle cx="1393.2" cy="419.5" r="5.3" fill="#FF2600"/>
<line x1="1435.80" y1="408.10" x2="1435.80" y2="394.30" stroke="#FF2600" stroke-width="3" stroke-linecap="round"/>
<circle cx="1435.8" cy="408.1" r="5.3" fill="#FF2600"/>
<line x1="1478.70" y1="372.30" x2="1478.70" y2="355.20" stroke="#FF2600" stroke-width="3" stroke-linecap="round"/>
<circle cx="1478.7" cy="372.3" r="5.3" fill="#FF2600"/>
<line x1="1521.70" y1="317.40" x2="1521.70" y2="301.00" stroke="#FF2600" stroke-width="3" stroke-linecap="round"/>
<circle cx="1521.7" cy="317.4" r="5.3" fill="#FF2600"/>
<line x1="1564.80" y1="269.10" x2="1564.80" y2="255.50" stroke="#FF2600" stroke-width="3" stroke-linecap="round"/>
<circle cx="1564.8" cy="269.1" r="5.3" fill="#FF2600"/>
<line x1="1607.70" y1="224.60" x2="1607.70" y2="208.20" stroke="#FF2600" stroke-width="3" stroke-linecap="round"/>
<circle cx="1607.7" cy="224.6" r="5.3" fill="#FF2600"/>
<line x1="1650.70" y1="208.20" x2="1650.70" y2="202.40" stroke="#FF2600" stroke-width="3" stroke-linecap="round"/>
<circle cx="1650.7" cy="208.2" r="5.3" fill="#FF2600"/>
<line x1="1693.60" y1="201.80" x2="1693.60" y2="191.40" stroke="#FF2600" stroke-width="3" stroke-linecap="round"/>
<circle cx="1693.6" cy="201.8" r="5.3" fill="#FF2600"/>
<line x1="1736.50" y1="191.60" x2="1736.50" y2="182.60" stroke="#FF2600" stroke-width="3" stroke-linecap="round"/>
<circle cx="1736.5" cy="191.6" r="5.3" fill="#FF2600"/>
<line x1="1385.40" y1="418.90" x2="1385.40" y2="405.70" stroke="#FF9300" stroke-width="3" stroke-linecap="round"/>
<circle cx="1385.4" cy="418.9" r="5.3" fill="#FF9300"/>
<line x1="1428.30" y1="395.50" x2="1428.30" y2="381.90" stroke="#FF9300" stroke-width="3" stroke-linecap="round"/>
<circle cx="1428.3" cy="395.5" r="5.3" fill="#FF9300"/>
<line x1="1471.30" y1="364.20" x2="1471.30" y2="353.40" stroke="#FF9300" stroke-width="3" stroke-linecap="round"/>
<circle cx="1471.3" cy="364.2" r="5.3" fill="#FF9300"/>
<line x1="1514.10" y1="307.80" x2="1514.10" y2="293.40" stroke="#FF9300" stroke-width="3" stroke-linecap="round"/>
<circle cx="1514.1" cy="307.8" r="5.3" fill="#FF9300"/>
<line x1="1557.20" y1="253.40" x2="1557.20" y2="238.60" stroke="#FF9300" stroke-width="3" stroke-linecap="round"/>
<circle cx="1557.2" cy="253.4" r="5.3" fill="#FF9300"/>
<line x1="1600.20" y1="213.80" x2="1600.20" y2="204.80" stroke="#FF9300" stroke-width="3" stroke-linecap="round"/>
<circle cx="1600.2" cy="213.8" r="5.3" fill="#FF9300"/>
<line x1="1643.20" y1="208.20" x2="1643.20" y2="199.40" stroke="#FF9300" stroke-width="3" stroke-linecap="round"/>
<circle cx="1643.2" cy="208.2" r="5.3" fill="#FF9300"/>
<line x1="1686.10" y1="201.50" x2="1686.10" y2="192.80" stroke="#FF9300" stroke-width="3" stroke-linecap="round"/>
<circle cx="1686.1" cy="201.5" r="5.3" fill="#FF9300"/>
<line x1="1729.30" y1="212.60" x2="1729.30" y2="204.20" stroke="#FF9300" stroke-width="3" stroke-linecap="round"/>
<circle cx="1729.3" cy="212.6" r="5.3" fill="#FF9300"/>
<line x1="1364.60" y1="416.70" x2="1364.60" y2="401.50" stroke="#00FA00" stroke-width="3" stroke-linecap="round"/>
<circle cx="1364.6" cy="416.7" r="5.3" fill="#00FA00"/>
<line x1="1407.60" y1="399.10" x2="1407.60" y2="382.30" stroke="#00FA00" stroke-width="3" stroke-linecap="round"/>
<circle cx="1407.6" cy="399.1" r="5.3" fill="#00FA00"/>
<line x1="1450.60" y1="363.30" x2="1450.60" y2="351.00" stroke="#00FA00" stroke-width="3" stroke-linecap="round"/>
<circle cx="1450.6" cy="363.3" r="5.3" fill="#00FA00"/>
<line x1="1493.50" y1="312.00" x2="1493.50" y2="300.60" stroke="#00FA00" stroke-width="3" stroke-linecap="round"/>
<circle cx="1493.5" cy="312.0" r="5.3" fill="#00FA00"/>
<line x1="1536.60" y1="264.50" x2="1536.60" y2="253.40" stroke="#00FA00" stroke-width="3" stroke-linecap="round"/>
<circle cx="1536.6" cy="264.5" r="5.3" fill="#00FA00"/>
<line x1="1579.60" y1="224.30" x2="1579.60" y2="212.00" stroke="#00FA00" stroke-width="3" stroke-linecap="round"/>
<circle cx="1579.6" cy="224.3" r="5.3" fill="#00FA00"/>
<line x1="1622.70" y1="230.60" x2="1622.70" y2="221.60" stroke="#00FA00" stroke-width="3" stroke-linecap="round"/>
<circle cx="1622.7" cy="230.6" r="5.3" fill="#00FA00"/>
<line x1="1665.30" y1="216.60" x2="1665.30" y2="208.20" stroke="#00FA00" stroke-width="3" stroke-linecap="round"/>
<circle cx="1665.3" cy="216.6" r="5.3" fill="#00FA00"/>
<line x1="1708.30" y1="204.80" x2="1708.30" y2="191.40" stroke="#00FA00" stroke-width="3" stroke-linecap="round"/>
<circle cx="1708.3" cy="204.8" r="5.3" fill="#00FA00"/>
<line x1="1350.70" y1="162.40" x2="1350.70" y2="430.00" stroke="#000" stroke-width="3.2"/>
<line x1="1339.50" y1="428.50" x2="1749.00" y2="428.50" stroke="#000" stroke-width="3.2"/>
<line x1="1339.50" y1="428.50" x2="1350.70" y2="428.50" stroke="#000" stroke-width="3"/>
<text transform="translate(1335.00 438.90) scale(0.97 1)" font-size="29.3" text-anchor="end">0</text>
<line x1="1344.50" y1="402.05" x2="1350.70" y2="402.05" stroke="#000" stroke-width="3"/>
<line x1="1339.50" y1="375.60" x2="1350.70" y2="375.60" stroke="#000" stroke-width="3"/>
<text transform="translate(1335.00 386.00) scale(0.97 1)" font-size="29.3" text-anchor="end">20</text>
<line x1="1344.50" y1="349.15" x2="1350.70" y2="349.15" stroke="#000" stroke-width="3"/>
<line x1="1339.50" y1="322.70" x2="1350.70" y2="322.70" stroke="#000" stroke-width="3"/>
<text transform="translate(1335.00 333.10) scale(0.97 1)" font-size="29.3" text-anchor="end">40</text>
<line x1="1344.50" y1="296.25" x2="1350.70" y2="296.25" stroke="#000" stroke-width="3"/>
<line x1="1339.50" y1="269.80" x2="1350.70" y2="269.80" stroke="#000" stroke-width="3"/>
<text transform="translate(1335.00 280.20) scale(0.97 1)" font-size="29.3" text-anchor="end">60</text>
<line x1="1344.50" y1="243.35" x2="1350.70" y2="243.35" stroke="#000" stroke-width="3"/>
<line x1="1339.50" y1="216.90" x2="1350.70" y2="216.90" stroke="#000" stroke-width="3"/>
<text transform="translate(1335.00 227.30) scale(0.97 1)" font-size="29.3" text-anchor="end">80</text>
<line x1="1344.50" y1="190.45" x2="1350.70" y2="190.45" stroke="#000" stroke-width="3"/>
<line x1="1339.50" y1="164.00" x2="1350.70" y2="164.00" stroke="#000" stroke-width="3"/>
<text transform="translate(1335.00 174.40) scale(0.97 1)" font-size="29.3" text-anchor="end">100</text>
<line x1="1350.66" y1="428.50" x2="1350.66" y2="434.80" stroke="#000" stroke-width="3"/>
<line x1="1361.93" y1="428.50" x2="1361.93" y2="434.80" stroke="#000" stroke-width="3"/>
<line x1="1371.46" y1="428.50" x2="1371.46" y2="434.80" stroke="#000" stroke-width="3"/>
<line x1="1379.71" y1="428.50" x2="1379.71" y2="434.80" stroke="#000" stroke-width="3"/>
<line x1="1386.99" y1="428.50" x2="1386.99" y2="434.80" stroke="#000" stroke-width="3"/>
<line x1="1393.50" y1="428.50" x2="1393.50" y2="439.80" stroke="#000" stroke-width="3"/>
<line x1="1436.34" y1="428.50" x2="1436.34" y2="434.80" stroke="#000" stroke-width="3"/>
<line x1="1461.39" y1="428.50" x2="1461.39" y2="434.80" stroke="#000" stroke-width="3"/>
<line x1="1479.17" y1="428.50" x2="1479.17" y2="434.80" stroke="#000" stroke-width="3"/>
<line x1="1492.96" y1="428.50" x2="1492.96" y2="434.80" stroke="#000" stroke-width="3"/>
<line x1="1504.23" y1="428.50" x2="1504.23" y2="434.80" stroke="#000" stroke-width="3"/>
<line x1="1513.76" y1="428.50" x2="1513.76" y2="434.80" stroke="#000" stroke-width="3"/>
<line x1="1522.01" y1="428.50" x2="1522.01" y2="434.80" stroke="#000" stroke-width="3"/>
<line x1="1529.29" y1="428.50" x2="1529.29" y2="434.80" stroke="#000" stroke-width="3"/>
<line x1="1535.80" y1="428.50" x2="1535.80" y2="439.80" stroke="#000" stroke-width="3"/>
<line x1="1578.64" y1="428.50" x2="1578.64" y2="434.80" stroke="#000" stroke-width="3"/>
<line x1="1603.69" y1="428.50" x2="1603.69" y2="434.80" stroke="#000" stroke-width="3"/>
<line x1="1621.47" y1="428.50" x2="1621.47" y2="434.80" stroke="#000" stroke-width="3"/>
<line x1="1635.26" y1="428.50" x2="1635.26" y2="434.80" stroke="#000" stroke-width="3"/>
<line x1="1646.53" y1="428.50" x2="1646.53" y2="434.80" stroke="#000" stroke-width="3"/>
<line x1="1656.06" y1="428.50" x2="1656.06" y2="434.80" stroke="#000" stroke-width="3"/>
<line x1="1664.31" y1="428.50" x2="1664.31" y2="434.80" stroke="#000" stroke-width="3"/>
<line x1="1671.59" y1="428.50" x2="1671.59" y2="434.80" stroke="#000" stroke-width="3"/>
<line x1="1678.10" y1="428.50" x2="1678.10" y2="439.80" stroke="#000" stroke-width="3"/>
<line x1="1720.94" y1="428.50" x2="1720.94" y2="434.80" stroke="#000" stroke-width="3"/>
<line x1="1745.99" y1="428.50" x2="1745.99" y2="434.80" stroke="#000" stroke-width="3"/>
<text x="1393.50" y="468.70" font-size="29" text-anchor="middle">1</text>
<text x="1535.80" y="468.70" font-size="29" text-anchor="middle">10</text>
<text x="1678.10" y="468.70" font-size="29" text-anchor="middle">100</text>
<text x="1549.20" y="505.80" font-size="29.4" text-anchor="middle">[Peptide] (µM)</text>
<text transform="translate(1290.60 290.20) rotate(-90) scale(0.97 1)" font-size="29.8" text-anchor="middle">FP % inhibition</text>
<text x="1422.00" y="169.40" font-size="22.5">FP IC50 (µM)</text>
<line x1="1364.00" y1="187.70" x2="1385.00" y2="187.70" stroke="#000000" stroke-width="3" stroke-linecap="round"/>
<circle cx="1374.4" cy="187.7" r="5.5" fill="#000000"/>
<text x="1395.00" y="193.90" font-size="20">WT</text>
<text x="1446.00" y="193.90" font-size="20" word-spacing="-1.2">12.2 ± 4.7</text>
<line x1="1364.00" y1="205.80" x2="1385.00" y2="205.80" stroke="#00FA00" stroke-width="3" stroke-linecap="round"/>
<circle cx="1374.4" cy="205.8" r="5.5" fill="#00FA00"/>
<text x="1394.50" y="211.60" font-size="20">M(3)</text>
<text x="1452.00" y="211.60" font-size="20" word-spacing="-1.2">4.6 ± 0.6</text>
<line x1="1364.00" y1="224.00" x2="1385.00" y2="224.00" stroke="#FF9300" stroke-width="3" stroke-linecap="round"/>
<circle cx="1374.4" cy="224" r="5.5" fill="#FF9300"/>
<text x="1395.00" y="230.00" font-size="20">W(3)</text>
<text x="1452.00" y="230.00" font-size="20" word-spacing="-1.2">6.6 ± 1.0</text>
<line x1="1364.00" y1="243.70" x2="1385.00" y2="243.70" stroke="#FF2600" stroke-width="3" stroke-linecap="round"/>
<circle cx="1374.4" cy="243.7" r="5.5" fill="#FF2600"/>
<text x="1395.00" y="249.60" font-size="20">W(5)</text>
<text x="1452.00" y="249.60" font-size="20" word-spacing="-1.2">8.8 ± 1.5</text>
</g>
<g id="panel-e">
<text x="905.00" y="686.20" font-size="42" font-weight="bold">e</text>
<g stroke="#BFBFBF" fill="none">
<line x1="983.00" y1="730.30" x2="1681.00" y2="730.30" stroke="#BFBFBF" stroke-width="2.4"/>
<line x1="983.00" y1="1312.60" x2="1681.00" y2="1312.60" stroke="#BFBFBF" stroke-width="4"/>
<line x1="985.00" y1="763.60" x2="1679.00" y2="763.60" stroke="#BFBFBF" stroke-width="3.8"/>
<line x1="985.00" y1="798.20" x2="1679.00" y2="798.20" stroke="#BFBFBF" stroke-width="3.8"/>
<line x1="985.00" y1="832.80" x2="1679.00" y2="832.80" stroke="#BFBFBF" stroke-width="3.8"/>
<line x1="985.00" y1="867.40" x2="1679.00" y2="867.40" stroke="#BFBFBF" stroke-width="3.8"/>
<line x1="985.00" y1="902.00" x2="1679.00" y2="902.00" stroke="#BFBFBF" stroke-width="3.8"/>
<line x1="985.00" y1="936.60" x2="1679.00" y2="936.60" stroke="#BFBFBF" stroke-width="3.8"/>
<line x1="985.00" y1="971.20" x2="1679.00" y2="971.20" stroke="#BFBFBF" stroke-width="3.8"/>
<line x1="985.00" y1="1005.80" x2="1679.00" y2="1005.80" stroke="#BFBFBF" stroke-width="3.8"/>
<line x1="985.00" y1="1040.40" x2="1679.00" y2="1040.40" stroke="#BFBFBF" stroke-width="3.8"/>
<line x1="985.00" y1="1075.00" x2="1679.00" y2="1075.00" stroke="#BFBFBF" stroke-width="3.8"/>
<line x1="985.00" y1="1109.60" x2="1679.00" y2="1109.60" stroke="#BFBFBF" stroke-width="3.8"/>
<line x1="985.00" y1="1144.20" x2="1679.00" y2="1144.20" stroke="#BFBFBF" stroke-width="3.8"/>
<line x1="985.00" y1="1178.80" x2="1679.00" y2="1178.80" stroke="#BFBFBF" stroke-width="3.8"/>
<line x1="985.00" y1="1213.40" x2="1679.00" y2="1213.40" stroke="#BFBFBF" stroke-width="3.8"/>
<line x1="985.00" y1="1248.00" x2="1679.00" y2="1248.00" stroke="#BFBFBF" stroke-width="3.8"/>
<line x1="985.00" y1="1282.60" x2="1679.00" y2="1282.60" stroke="#BFBFBF" stroke-width="3.8"/>
<line x1="984.80" y1="729.10" x2="984.80" y2="1314.60" stroke="#BFBFBF" stroke-width="4"/>
<line x1="1244.00" y1="730.00" x2="1244.00" y2="1313.00" stroke="#BFBFBF" stroke-width="4"/>
<line x1="1468.70" y1="730.00" x2="1468.70" y2="1313.00" stroke="#BFBFBF" stroke-width="4"/>
<line x1="1680.50" y1="730.00" x2="1680.50" y2="1313.00" stroke="#BFBFBF" stroke-width="3.6"/>
</g>
<text transform="translate(1117.20 757.00) scale(0.943 1)" font-size="29.6" text-anchor="middle">BID BH3 peptide</text>
<text transform="translate(1356.60 757.00) scale(0.943 1)" font-size="29.6" text-anchor="middle">EC50 LP (nM)</text>
<text transform="translate(1577.40 757.00) scale(0.943 1)" font-size="29.6" text-anchor="middle">IC50 FP (µM)</text>
<text transform="translate(1115.00 791.80) scale(0.93 1)" font-size="27.4" text-anchor="middle">WT</text>
<text transform="translate(1356.60 791.80) scale(0.93 1)" font-size="27.4" text-anchor="middle">626.2±124.1</text>
<text transform="translate(1577.40 791.80) scale(0.93 1)" font-size="27.4" text-anchor="middle">12.2±4.7</text>
<text transform="translate(1115.00 822.19) scale(0.93 1)" font-size="27.4" text-anchor="middle">W(0)</text>
<text transform="translate(1356.60 822.19) scale(0.93 1)" font-size="27.4" text-anchor="middle">365.3±22.8</text>
<text transform="translate(1577.40 822.19) scale(0.93 1)" font-size="27.4" text-anchor="middle">10.8±5.5</text>
<text transform="translate(1115.00 856.75) scale(0.93 1)" font-size="27.4" text-anchor="middle">W(0’)</text>
<text transform="translate(1356.60 856.75) scale(0.93 1)" font-size="27.4" text-anchor="middle">242.2±66.3</text>
<text transform="translate(1577.40 856.75) scale(0.93 1)" font-size="27.4" text-anchor="middle">27.4±16.4</text>
<text transform="translate(1115.00 891.31) scale(0.93 1)" font-size="27.4" text-anchor="middle">W(1)</text>
<text transform="translate(1356.60 891.31) scale(0.93 1)" font-size="27.4" text-anchor="middle">1698±446</text>
<text transform="translate(1577.40 891.31) scale(0.93 1)" font-size="27.4" text-anchor="middle">N.D.</text>
<text transform="translate(1115.00 925.87) scale(0.93 1)" font-size="27.4" text-anchor="middle">M(2)</text>
<text transform="translate(1356.60 925.87) scale(0.93 1)" font-size="27.4" text-anchor="middle">366.0±89.2</text>
<text transform="translate(1577.40 925.87) scale(0.93 1)" font-size="27.4" text-anchor="middle">N.D.</text>
<text transform="translate(1115.00 960.43) scale(0.93 1)" font-size="27.4" text-anchor="middle">F(2)</text>
<text transform="translate(1356.60 960.43) scale(0.93 1)" font-size="27.4" text-anchor="middle">290.3±42.6</text>
<text transform="translate(1577.40 960.43) scale(0.93 1)" font-size="27.4" text-anchor="middle">N.D.</text>
<text transform="translate(1115.00 994.99) scale(0.93 1)" font-size="27.4" text-anchor="middle">Y(2)</text>
<text transform="translate(1356.60 994.99) scale(0.93 1)" font-size="27.4" text-anchor="middle">1207±696</text>
<text transform="translate(1577.40 994.99) scale(0.93 1)" font-size="27.4" text-anchor="middle">N.D.</text>
<text transform="translate(1115.00 1029.55) scale(0.93 1)" font-size="27.4" text-anchor="middle">W(2)</text>
<text transform="translate(1356.60 1029.55) scale(0.93 1)" font-size="27.4" text-anchor="middle">1078±453</text>
<text transform="translate(1577.40 1029.55) scale(0.93 1)" font-size="27.4" text-anchor="middle">N.D.</text>
<text transform="translate(1115.00 1064.11) scale(0.93 1)" font-size="27.4" text-anchor="middle">M(3)</text>
<text transform="translate(1356.60 1064.11) scale(0.93 1)" font-size="27.4" text-anchor="middle">113.9±22.5</text>
<text transform="translate(1577.40 1064.11) scale(0.93 1)" font-size="27.4" text-anchor="middle">4.6±0.6</text>
<text transform="translate(1115.00 1098.67) scale(0.93 1)" font-size="27.4" text-anchor="middle">F(3)</text>
<text transform="translate(1356.60 1098.67) scale(0.93 1)" font-size="27.4" text-anchor="middle">110.3±16.1</text>
<text transform="translate(1577.40 1098.67) scale(0.93 1)" font-size="27.4" text-anchor="middle">11.3±3.9</text>
<text transform="translate(1115.00 1133.23) scale(0.93 1)" font-size="27.4" text-anchor="middle">Y(3)</text>
<text transform="translate(1356.60 1133.23) scale(0.93 1)" font-size="27.4" text-anchor="middle">372.1±115.5</text>
<text transform="translate(1577.40 1133.23) scale(0.93 1)" font-size="27.4" text-anchor="middle">6.2±1.5</text>
<text transform="translate(1115.00 1167.79) scale(0.93 1)" font-size="27.4" text-anchor="middle">W(3)</text>
<text transform="translate(1356.60 1167.79) scale(0.93 1)" font-size="27.4" text-anchor="middle">163.3±5.3</text>
<text transform="translate(1577.40 1167.79) scale(0.93 1)" font-size="27.4" text-anchor="middle">6.6±1.0</text>
<text transform="translate(1115.00 1202.35) scale(0.93 1)" font-size="27.4" text-anchor="middle">F(4)</text>
<text transform="translate(1356.60 1202.35) scale(0.93 1)" font-size="27.4" text-anchor="middle">228.8±11.1</text>
<text transform="translate(1577.40 1202.35) scale(0.93 1)" font-size="27.4" text-anchor="middle">11.9±3.7</text>
<text transform="translate(1115.00 1236.91) scale(0.93 1)" font-size="27.4" text-anchor="middle">Y(4)</text>
<text transform="translate(1356.60 1236.91) scale(0.93 1)" font-size="27.4" text-anchor="middle">213.2±8.2</text>
<text transform="translate(1577.40 1236.91) scale(0.93 1)" font-size="27.4" text-anchor="middle">6.9±5.0</text>
<text transform="translate(1115.00 1271.47) scale(0.93 1)" font-size="27.4" text-anchor="middle">W(4)</text>
<text transform="translate(1356.60 1271.47) scale(0.93 1)" font-size="27.4" text-anchor="middle">264.5±9.1</text>
<text transform="translate(1577.40 1271.47) scale(0.93 1)" font-size="27.4" text-anchor="middle">11.5±7.5</text>
<text transform="translate(1115.00 1306.03) scale(0.93 1)" font-size="27.4" text-anchor="middle">W(5)</text>
<text transform="translate(1356.60 1306.03) scale(0.93 1)" font-size="27.4" text-anchor="middle">110.4±57.7</text>
<text transform="translate(1577.40 1306.03) scale(0.93 1)" font-size="27.4" text-anchor="middle">8.8±1.5</text>
</g>
</svg>
</body>
</html>
